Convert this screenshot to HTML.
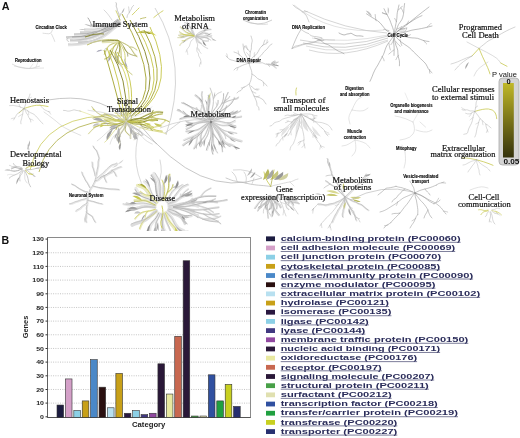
<!DOCTYPE html>
<html><head><meta charset="utf-8"><style>
html,body{margin:0;padding:0;background:#fff;width:520px;height:438px;overflow:hidden}
svg{display:block}
#labels,#chart{will-change:transform}
.tk{font-family:"Liberation Sans",sans-serif;font-weight:bold;font-size:7px;fill:#222}
.ax{font-family:"Liberation Sans",sans-serif;font-size:8px;fill:#222}
.pl{font-family:"Liberation Sans",sans-serif;font-weight:bold;font-size:11.8px;fill:#111}
.lg{font-family:"Liberation Sans",sans-serif;font-weight:bold;font-size:11px;fill:#2a2c5a}
.sl{font-family:"Liberation Serif",serif;font-size:9.2px;fill:#111;stroke:#111;stroke-width:0.22px}
.ss{font-family:"Liberation Sans",sans-serif;font-weight:bold;font-size:5px;fill:#000;stroke:#000;stroke-width:0.12px}
.pv{font-family:"Liberation Sans",sans-serif;font-size:7.5px;fill:#111}
</style></head><body>
<svg width="520" height="438" viewBox="0 0 520 438">
<defs><clipPath id="ca"><rect x="0" y="0" width="520" height="231"/></clipPath></defs>
<g id="trees" clip-path="url(#ca)">
<path d="M48.0,100.0Q95.0,92.0 125.0,118.0" fill="none" stroke="#b0b0b0" stroke-width="0.7"/><path d="M140.0,125.0Q200.0,200.0 262.0,178.0" fill="none" stroke="#b0b0b0" stroke-width="0.7"/><path d="M140.0,128.0Q128.0,168.0 150.0,198.0" fill="none" stroke="#c0c0c0" stroke-width="0.6"/><path d="M160.0,128.0Q185.0,118.0 205.0,120.0" fill="none" stroke="#c0c0c0" stroke-width="0.6"/><path d="M233.0,170.0Q248.0,168.0 262.0,178.0" fill="none" stroke="#c0c0c0" stroke-width="0.6"/><path d="M118.0,20.2Q97.2,39.7 66.0,38.2" fill="none" stroke="#e4e4e4" stroke-width="2.0"/><path d="M118.4,20.7Q99.0,42.7 70.0,41.2" fill="none" stroke="#e4e4e4" stroke-width="2.0"/><path d="M118.8,21.2Q100.9,36.7 74.0,35.2" fill="none" stroke="#e4e4e4" stroke-width="2.0"/><path d="M119.2,21.7Q102.7,44.7 78.0,43.2" fill="none" stroke="#e4e4e4" stroke-width="2.0"/><path d="M119.6,22.2Q105.4,31.7 84.0,30.2" fill="none" stroke="#e4e4e4" stroke-width="2.0"/><path d="M120.0,22.7Q99.2,46.7 68.0,45.2" fill="none" stroke="#e4e4e4" stroke-width="2.0"/><path d="M120.4,23.2Q108.2,27.7 90.0,26.2" fill="none" stroke="#e4e4e4" stroke-width="2.0"/><path d="M120.8,23.7Q101.3,39.7 72.0,38.2" fill="none" stroke="#e4e4e4" stroke-width="2.0"/><path d="M121.2,24.2Q104.7,34.7 80.0,33.2" fill="none" stroke="#e4e4e4" stroke-width="2.0"/><path d="M118.0,19.0Q97.2,38.5 66.0,37.0" fill="none" stroke="#b0b0b0" stroke-width="1.0"/><path d="M118.4,19.5Q99.0,41.5 70.0,40.0" fill="none" stroke="#c4c4c4" stroke-width="1.3"/><path d="M118.8,20.0Q100.9,35.5 74.0,34.0" fill="none" stroke="#a0a0a0" stroke-width="0.8"/><path d="M119.2,20.5Q102.7,43.5 78.0,42.0" fill="none" stroke="#bcbcbc" stroke-width="1.1"/><path d="M119.6,21.0Q105.4,30.5 84.0,29.0" fill="none" stroke="#c8c8c8" stroke-width="0.9"/><path d="M120.0,21.5Q99.2,45.5 68.0,44.0" fill="none" stroke="#d4d4d4" stroke-width="1.4"/><path d="M120.4,22.0Q108.2,26.5 90.0,25.0" fill="none" stroke="#a8a8a8" stroke-width="0.8"/><path d="M120.8,22.5Q101.3,38.5 72.0,37.0" fill="none" stroke="#989898" stroke-width="0.7"/><path d="M121.2,23.0Q104.7,33.5 80.0,32.0" fill="none" stroke="#b8b8b8" stroke-width="1.0"/><path d="M92.0,26.0Q90.0,21.0 89.0,19.5L88.0,18.0" fill="none" stroke="#a8a8a8" stroke-width="1.0" stroke-linecap="round"/><path d="M92.0,27.0Q89.4,23.5 84.3,24.3Q87.9,26.1 92.0,27.0Z" fill="#b8b8b8" opacity="1.0"/><path d="M86.0,30.0Q82.8,27.9 78.9,29.8Q82.4,30.3 86.0,30.0Z" fill="#c8c8c8" opacity="1.0"/><path d="M68.0,38.0Q66.0,40.0 67.4,40.8L68.8,41.5" fill="none" stroke="#b0b0b0" stroke-width="0.6" stroke-linecap="round"/><path d="M85.0,37.0Q95.0,33.0 104.0,34.0" fill="none" stroke="#8c8c40" stroke-width="1.1"/><path d="M87.0,45.0Q100.0,38.0 118.0,40.0" fill="none" stroke="#b8b860" stroke-width="0.9"/><path d="M90.0,43.0Q100.0,40.0 110.0,41.0" fill="none" stroke="#c8c8a0" stroke-width="0.8"/><path d="M119.6,41.2Q123.0,42.9 124.8,43.7Q126.6,44.5 128.2,45.6Q129.8,46.8 131.0,48.4Q132.2,50.0 133.3,51.9Q134.4,53.7 135.8,55.0L137.2,56.3" fill="none" stroke="#eeeed0" stroke-width="1.21" stroke-linecap="round"/><path d="M129.7,46.6Q132.4,46.5 133.5,47.3Q134.7,48.1 135.9,48.9L137.0,49.7" fill="none" stroke="#eeeed0" stroke-width="0.85" stroke-linecap="round"/><path d="M119.4,41.3Q122.0,43.9 123.0,45.5Q124.0,47.1 124.9,48.7Q125.8,50.4 127.0,51.8Q128.3,53.1 130.1,53.9Q131.9,54.7 134.1,55.3L136.2,55.8" fill="none" stroke="#f0f0d8" stroke-width="0.84" stroke-linecap="round"/><path d="M124.2,47.1Q125.2,50.2 126.5,51.4Q127.8,52.7 127.8,54.4L127.9,56.2" fill="none" stroke="#f0f0d8" stroke-width="0.59" stroke-linecap="round"/><path d="M119.1,41.5Q121.2,45.4 122.3,47.3Q123.5,49.2 124.2,51.3Q125.0,53.3 125.2,55.6Q125.4,57.9 125.4,60.2Q125.4,62.6 126.0,64.7L126.5,66.8" fill="none" stroke="#f0f0d8" stroke-width="0.82" stroke-linecap="round"/><path d="M119.0,41.6Q120.5,46.0 120.8,48.3Q121.1,50.6 121.1,53.0Q121.2,55.3 121.5,57.7Q121.8,60.0 122.9,62.1Q124.0,64.2 125.8,66.1L127.5,68.1" fill="none" stroke="#f0f0d8" stroke-width="0.99" stroke-linecap="round"/><path d="M124.0,64.1Q125.7,68.2 127.3,69.8Q128.8,71.5 130.6,73.0L132.4,74.5" fill="none" stroke="#f0f0d8" stroke-width="0.69" stroke-linecap="round"/><path d="M118.8,41.6Q119.5,45.3 119.6,47.2Q119.7,49.1 119.3,51.0Q118.9,52.9 118.3,54.8Q117.6,56.8 117.4,58.7Q117.2,60.6 117.9,62.4L118.6,64.2" fill="none" stroke="#eeeed0" stroke-width="0.88" stroke-linecap="round"/><path d="M117.6,56.9Q118.3,59.8 118.7,61.3Q119.0,62.7 120.7,63.7L122.4,64.6" fill="none" stroke="#eeeed0" stroke-width="0.62" stroke-linecap="round"/><path d="M118.6,41.6Q118.1,45.1 117.5,46.7Q116.9,48.4 116.1,50.1Q115.3,51.7 115.0,53.5Q114.7,55.2 115.2,57.0Q115.7,58.9 116.6,60.8L117.4,62.7" fill="none" stroke="#eeeed0" stroke-width="0.90" stroke-linecap="round"/><path d="M115.2,51.9Q116.4,54.0 116.2,55.3Q115.9,56.7 116.4,57.8L116.9,58.9" fill="none" stroke="#eeeed0" stroke-width="0.63" stroke-linecap="round"/><path d="M118.2,41.4Q116.5,44.2 115.3,45.4Q114.1,46.6 112.7,47.6Q111.4,48.7 110.4,50.0Q109.5,51.4 109.2,53.1Q108.9,54.9 109.0,56.9L109.1,58.9" fill="none" stroke="#eeeed0" stroke-width="1.22" stroke-linecap="round"/><path d="M118.1,41.4Q115.6,44.1 114.7,45.7Q113.7,47.3 113.1,49.2Q112.4,51.1 111.8,52.9Q111.2,54.7 110.0,56.2Q108.8,57.6 106.9,58.5L105.0,59.4" fill="none" stroke="#eeeed0" stroke-width="1.44" stroke-linecap="round"/><path d="M112.6,51.1Q112.2,53.8 111.2,54.9Q110.1,56.0 109.1,57.0L108.0,58.1" fill="none" stroke="#eeeed0" stroke-width="1.01" stroke-linecap="round"/><path d="M117.9,41.2Q115.3,42.8 113.8,43.4Q112.4,44.0 110.9,44.6Q109.5,45.3 108.5,46.5Q107.4,47.7 106.7,49.4Q106.0,51.1 105.3,52.8L104.5,54.5" fill="none" stroke="#eeeed0" stroke-width="1.29" stroke-linecap="round"/><path d="M119.6,41.2Q123.0,43.0 124.8,43.8Q126.5,44.7 128.1,45.8Q129.6,47.0 130.8,48.6Q132.0,50.3 133.1,52.1Q134.2,54.0 135.6,55.4L137.0,56.7" fill="none" stroke="#b0b060" stroke-width="0.75" stroke-linecap="round"/><path d="M129.6,47.0Q132.3,46.9 133.5,47.7Q134.6,48.5 135.8,49.3L136.9,50.1" fill="none" stroke="#b0b060" stroke-width="0.62" stroke-linecap="round"/><path d="M119.4,41.3Q122.0,44.0 123.0,45.6Q123.9,47.2 124.8,48.8Q125.7,50.5 126.9,51.9Q128.1,53.2 129.9,54.1Q131.7,54.9 133.8,55.5L136.0,56.0" fill="none" stroke="#8a8a30" stroke-width="0.60" stroke-linecap="round"/><path d="M123.9,47.2Q125.0,50.3 126.3,51.5Q127.5,52.8 127.6,54.5L127.7,56.3" fill="none" stroke="#8a8a30" stroke-width="0.49" stroke-linecap="round"/><path d="M127.5,52.8Q126.9,54.8 128.3,55.9Q128.1,54.3 127.5,52.8Z" fill="#9898a8" opacity="1.0"/><path d="M119.1,41.5Q121.2,45.4 122.3,47.3Q123.4,49.2 124.1,51.3Q124.9,53.4 125.0,55.7Q125.2,58.0 125.2,60.3Q125.1,62.7 125.7,64.8L126.2,67.0" fill="none" stroke="#c8c850" stroke-width="0.65" stroke-linecap="round"/><path d="M125.2,58.0Q123.5,60.4 124.6,62.2Q125.2,60.0 125.2,58.0Z" fill="#a8a8b8" opacity="1.0"/><path d="M119.0,41.6Q120.4,46.0 120.7,48.3Q121.0,50.6 121.0,53.0Q121.0,55.4 121.3,57.7Q121.6,60.0 122.6,62.1Q123.7,64.3 125.4,66.2L127.2,68.2" fill="none" stroke="#a8a838" stroke-width="0.63" stroke-linecap="round"/><path d="M123.7,64.3Q125.4,68.4 127.0,70.0Q128.6,71.6 130.3,73.2L132.1,74.7" fill="none" stroke="#a8a838" stroke-width="0.53" stroke-linecap="round"/><path d="M118.8,41.6Q119.6,45.3 119.7,47.2Q119.8,49.1 119.5,51.0Q119.1,52.9 118.4,54.8Q117.8,56.7 117.6,58.6Q117.4,60.5 118.2,62.4L119.0,64.2" fill="none" stroke="#8a8a30" stroke-width="0.80" stroke-linecap="round"/><path d="M117.8,56.7Q118.5,59.7 118.9,61.2Q119.3,62.6 121.0,63.6L122.6,64.5" fill="none" stroke="#8a8a30" stroke-width="0.57" stroke-linecap="round"/><path d="M119.3,62.6Q119.7,65.9 122.3,68.3Q121.0,65.4 119.3,62.6Z" fill="#b8b8c8" opacity="1.0"/><path d="M117.8,56.7Q116.3,59.1 117.7,61.1Q118.1,58.9 117.8,56.7Z" fill="#9898a8" opacity="1.0"/><path d="M118.6,41.6Q118.2,45.1 117.6,46.8Q117.0,48.4 116.2,50.1Q115.5,51.8 115.2,53.5Q114.9,55.2 115.4,57.1Q115.9,58.9 116.9,60.8L117.8,62.8" fill="none" stroke="#8a8a30" stroke-width="0.60" stroke-linecap="round"/><path d="M115.5,51.8Q116.7,53.9 116.4,55.2Q116.1,56.6 116.7,57.7L117.2,58.8" fill="none" stroke="#8a8a30" stroke-width="0.55" stroke-linecap="round"/><path d="M114.9,55.2Q114.0,58.0 115.7,61.2Q115.6,58.3 114.9,55.2Z" fill="#9898a8" opacity="1.0"/><path d="M118.2,41.4Q116.6,44.3 115.4,45.5Q114.2,46.6 112.9,47.7Q111.6,48.9 110.7,50.2Q109.7,51.5 109.5,53.3Q109.2,55.1 109.3,57.1L109.5,59.1" fill="none" stroke="#c8c850" stroke-width="0.68" stroke-linecap="round"/><path d="M118.1,41.4Q115.5,44.1 114.5,45.7Q113.5,47.2 112.9,49.1Q112.2,50.9 111.5,52.7Q110.9,54.5 109.6,55.9Q108.4,57.3 106.5,58.2L104.5,59.0" fill="none" stroke="#a8a838" stroke-width="0.57" stroke-linecap="round"/><path d="M112.2,50.9Q111.8,53.7 110.7,54.7Q109.7,55.8 108.6,56.9L107.6,57.9" fill="none" stroke="#a8a838" stroke-width="0.63" stroke-linecap="round"/><path d="M109.7,55.8Q108.0,57.1 108.8,59.4Q109.5,57.7 109.7,55.8Z" fill="#b8b8c8" opacity="1.0"/><path d="M117.9,41.2Q115.3,42.8 113.8,43.3Q112.3,43.8 110.8,44.5Q109.4,45.1 108.3,46.3Q107.2,47.4 106.5,49.1Q105.8,50.8 105.0,52.4L104.3,54.1" fill="none" stroke="#a8a838" stroke-width="0.56" stroke-linecap="round"/><path d="M107.2,47.4Q104.7,47.9 103.8,50.4Q105.7,49.1 107.2,47.4Z" fill="#b8b8c8" opacity="1.0"/><path d="M102.5,41.2Q110.0,40.5 114.4,40.5L118.8,40.6" fill="none" stroke="#8a8a30" stroke-width="0.9" stroke-linecap="round"/><path d="M102.5,42.5Q110.0,42.0 114.0,42.0L118.0,42.0" fill="none" stroke="#e4e4b8" stroke-width="1.6" stroke-linecap="round"/><path d="M103.0,50.0Q98.3,48.9 96.2,52.2Q99.8,51.5 103.0,50.0Z" fill="#a8a8b8" opacity="1.0"/><path d="M112.0,56.0Q107.7,58.2 108.2,62.1Q110.6,59.2 112.0,56.0Z" fill="#a0a0b0" opacity="1.0"/><path d="M125.0,61.0Q123.9,64.8 127.7,67.6Q126.8,64.2 125.0,61.0Z" fill="#a8a8b8" opacity="1.0"/><path d="M120.0,20.0Q118.9,17.4 119.0,16.8Q119.2,16.3 119.1,15.1Q119.0,14.0 118.4,12.7Q117.8,11.4 117.5,10.9Q117.2,10.4 117.1,9.2Q117.0,8.0 116.6,7.3Q116.1,6.6 116.3,5.3Q116.6,3.9 116.3,3.3L116.0,2.7" fill="none" stroke="#a8a8a8" stroke-width="0.7" stroke-linecap="round"/><path d="M119.5,16.8Q120.4,15.3 120.4,14.6L120.4,13.8" fill="none" stroke="#a8a8a8" stroke-width="0.595" stroke-linecap="round"/><path d="M127.0,17.5Q127.3,14.9 128.0,14.3Q128.7,13.8 129.3,12.4Q130.0,11.0 130.6,10.2Q131.2,9.5 131.5,8.4Q131.8,7.3 132.7,6.3L133.6,5.4" fill="none" stroke="#b0b0b0" stroke-width="0.6" stroke-linecap="round"/><path d="M129.3,12.5Q128.9,9.9 128.8,8.4L128.6,6.9" fill="none" stroke="#b0b0b0" stroke-width="0.51" stroke-linecap="round"/><path d="M116.0,10.8Q118.0,15.0 119.0,17.5L120.0,20.0" fill="none" stroke="#c8c850" stroke-width="0.8" stroke-linecap="round"/><path d="M132.3,14.8Q136.0,11.0 137.5,9.5L139.0,8.0" fill="none" stroke="#c8c850" stroke-width="0.8" stroke-linecap="round"/><path d="M140.4,18.8Q143.0,18.0 144.4,17.8L145.8,17.5" fill="none" stroke="#a8a838" stroke-width="0.7" stroke-linecap="round"/><path d="M153.8,17.5Q158.0,14.0 160.5,12.4L163.0,10.8" fill="none" stroke="#c8c850" stroke-width="0.8" stroke-linecap="round"/><path d="M121.0,14.0Q124.7,11.6 124.3,7.8Q122.3,10.7 121.0,14.0Z" fill="#b8b8b8" opacity="1.0"/><path d="M112.0,20.0Q108.0,14.0 106.0,12.0L104.0,10.0" fill="none" stroke="#c0c0c0" stroke-width="0.6" stroke-linecap="round"/><path d="M136.0,33.0Q140.7,33.6 144.6,30.0Q140.2,31.0 136.0,33.0Z" fill="#c8c850" opacity="1.0"/><path d="M138.2,32.6Q142.7,34.0 147.2,30.9Q142.7,31.3 138.2,32.6Z" fill="#a8a838" opacity="1.0"/><path d="M140.4,32.2Q144.7,34.3 149.5,32.0Q145.0,31.6 140.4,32.2Z" fill="#b8b848" opacity="1.0"/><path d="M142.6,31.8Q146.5,34.5 151.6,33.0Q147.3,32.0 142.6,31.8Z" fill="#d0d070" opacity="1.0"/><path d="M144.8,31.4Q148.2,34.7 153.5,34.0Q149.4,32.3 144.8,31.4Z" fill="#8a8a30" opacity="1.0"/><path d="M147.0,31.0Q149.9,34.8 155.2,34.9Q151.4,32.6 147.0,31.0Z" fill="#c8c850" opacity="1.0"/><path d="M149.2,30.6Q151.4,34.8 156.7,35.8Q153.3,32.9 149.2,30.6Z" fill="#d8d870" opacity="1.0"/><path d="M104.0,50.0Q113.0,79.0 122.0,116.0" fill="none" stroke="#a8a838" stroke-width="0.95"/><path d="M107.0,48.0Q120.5,79.5 124.0,117.0" fill="none" stroke="#c8c850" stroke-width="0.95"/><path d="M110.0,50.0Q128.0,79.0 126.0,116.0" fill="none" stroke="#8a8a30" stroke-width="0.95"/><path d="M113.0,52.0Q133.5,77.5 128.0,117.0" fill="none" stroke="#d8d870" stroke-width="0.95"/><path d="M117.0,52.0Q136.5,78.0 130.0,116.0" fill="none" stroke="#c8c850" stroke-width="0.95"/><path d="M122.0,14.0Q166.5,92.0 129.0,114.0" fill="none" stroke="#a8a838" stroke-width="0.95"/><path d="M130.0,20.0Q169.5,88.0 131.0,116.0" fill="none" stroke="#8a8a30" stroke-width="0.95"/><path d="M138.0,28.0Q172.5,88.5 133.0,115.0" fill="none" stroke="#c8c850" stroke-width="0.95"/><path d="M144.0,30.0Q174.5,87.0 135.0,116.0" fill="none" stroke="#a8a838" stroke-width="0.95"/><path d="M150.0,27.0Q178.0,85.5 138.0,114.0" fill="none" stroke="#c8c850" stroke-width="0.95"/><path d="M155.0,8.0Q189.5,64.5 166.0,135.0" fill="none" stroke="#b8b8b8" stroke-width="0.6"/><path d="M124.0,116.0Q43.0,111.0 30.0,170.0" fill="none" stroke="#c8c850" stroke-width="0.75"/><path d="M126.0,119.0Q51.5,120.5 39.0,172.0" fill="none" stroke="#a8a838" stroke-width="0.75"/><path d="M127.4,121.1Q131.5,119.6 133.7,119.2Q135.8,118.8 138.1,118.9Q140.3,119.0 142.6,119.1Q144.9,119.2 146.9,118.6Q149.0,118.0 150.9,116.5L152.7,115.0" fill="none" stroke="#ecebc8" stroke-width="1.54" stroke-linecap="round"/><path d="M145.0,119.2Q148.6,117.4 150.1,116.2Q151.5,114.9 152.4,112.8L153.3,110.7" fill="none" stroke="#ecebc8" stroke-width="1.08" stroke-linecap="round"/><path d="M127.5,121.2Q133.4,120.1 136.4,119.3Q139.3,118.4 142.1,117.1Q144.8,115.7 147.6,114.3Q150.4,112.9 153.3,112.1Q156.3,111.4 159.4,111.6L162.6,111.8" fill="none" stroke="#e8e8c0" stroke-width="1.65" stroke-linecap="round"/><path d="M127.5,121.3Q133.4,121.0 136.4,120.8Q139.4,120.7 142.3,120.0Q145.2,119.3 148.0,118.1Q150.8,116.9 153.6,115.6Q156.5,114.4 159.4,113.9L162.3,113.5" fill="none" stroke="#e8e8c0" stroke-width="1.33" stroke-linecap="round"/><path d="M151.0,116.8Q157.0,118.6 160.2,118.7Q163.5,118.8 166.4,120.1L169.3,121.4" fill="none" stroke="#e8e8c0" stroke-width="0.93" stroke-linecap="round"/><path d="M127.5,121.5Q132.5,122.2 135.0,122.3Q137.5,122.5 140.0,122.1Q142.5,121.8 145.0,120.9Q147.5,120.1 150.1,119.6Q152.6,119.0 155.1,119.4L157.6,119.8" fill="none" stroke="#e8e8c0" stroke-width="1.58" stroke-linecap="round"/><path d="M127.5,121.6Q131.9,121.7 134.2,121.5Q136.4,121.2 138.6,121.2Q140.8,121.2 143.0,121.9Q145.1,122.6 147.3,123.9Q149.4,125.1 151.5,126.1L153.6,127.1" fill="none" stroke="#ecebc8" stroke-width="0.86" stroke-linecap="round"/><path d="M127.5,121.8Q133.4,122.5 136.4,123.0Q139.3,123.4 142.2,124.4Q145.0,125.4 147.8,126.9Q150.5,128.4 153.3,129.7Q156.1,131.0 159.1,131.4L162.0,131.7" fill="none" stroke="#ecebc8" stroke-width="1.79" stroke-linecap="round"/><path d="M150.8,128.5Q156.1,127.3 158.6,126.2Q161.1,125.1 163.2,123.1L165.4,121.1" fill="none" stroke="#ecebc8" stroke-width="1.25" stroke-linecap="round"/><path d="M127.4,121.9Q131.6,123.4 133.8,123.8Q136.0,124.1 138.3,124.1Q140.6,124.1 142.8,124.4Q145.0,124.6 147.0,125.7Q148.9,126.8 150.7,128.6L152.5,130.4" fill="none" stroke="#f0f0d8" stroke-width="0.84" stroke-linecap="round"/><path d="M140.7,124.0Q142.4,126.4 143.8,126.8Q145.2,127.3 146.7,127.7L148.3,128.1" fill="none" stroke="#f0f0d8" stroke-width="0.59" stroke-linecap="round"/><path d="M127.4,121.1Q131.5,119.5 133.6,119.1Q135.7,118.6 138.0,118.7Q140.2,118.7 142.5,118.7Q144.7,118.8 146.8,118.2Q148.9,117.5 150.7,116.0L152.5,114.4" fill="none" stroke="#8a8a30" stroke-width="0.92" stroke-linecap="round"/><path d="M144.7,118.8Q148.3,117.0 149.8,115.8Q151.3,114.5 152.2,112.4L153.1,110.3" fill="none" stroke="#8a8a30" stroke-width="0.70" stroke-linecap="round"/><path d="M127.5,121.2Q133.5,120.2 136.4,119.4Q139.3,118.6 142.1,117.3Q144.9,116.0 147.7,114.7Q150.5,113.3 153.4,112.6Q156.4,111.9 159.6,112.1L162.7,112.4" fill="none" stroke="#8a8a30" stroke-width="0.88" stroke-linecap="round"/><path d="M150.5,113.3Q154.9,115.3 157.5,111.7Q153.8,112.0 150.5,113.3Z" fill="#c8c870" opacity="1.0"/><path d="M127.5,121.3Q133.4,121.1 136.4,120.9Q139.4,120.8 142.3,120.2Q145.2,119.6 148.0,118.4Q150.9,117.2 153.7,116.0Q156.5,114.8 159.5,114.4L162.4,114.0" fill="none" stroke="#a8a838" stroke-width="0.77" stroke-linecap="round"/><path d="M150.9,117.2Q156.9,119.0 160.1,119.1Q163.4,119.2 166.3,120.5L169.2,121.8" fill="none" stroke="#a8a838" stroke-width="0.66" stroke-linecap="round"/><path d="M163.4,119.2Q164.4,121.5 166.5,120.2Q165.0,119.3 163.4,119.2Z" fill="#c8c870" opacity="1.0"/><path d="M127.5,121.5Q132.5,122.3 135.0,122.5Q137.5,122.7 140.0,122.4Q142.5,122.1 145.0,121.3Q147.5,120.5 150.0,120.0Q152.6,119.5 155.0,120.0L157.5,120.4" fill="none" stroke="#8a8a30" stroke-width="0.97" stroke-linecap="round"/><path d="M147.5,120.5Q150.5,120.9 153.0,117.7Q150.2,118.8 147.5,120.5Z" fill="#c8c870" opacity="1.0"/><path d="M127.5,121.6Q131.9,121.8 134.2,121.6Q136.4,121.3 138.6,121.4Q140.8,121.4 143.0,122.1Q145.1,122.9 147.2,124.1Q149.3,125.4 151.5,126.4L153.6,127.4" fill="none" stroke="#c8c850" stroke-width="0.92" stroke-linecap="round"/><path d="M145.1,122.9Q148.3,126.2 150.9,124.0Q148.0,122.9 145.1,122.9Z" fill="#c8c850" opacity="1.0"/><path d="M127.5,121.8Q133.4,122.4 136.4,122.8Q139.4,123.2 142.2,124.2Q145.1,125.1 147.9,126.5Q150.6,127.9 153.4,129.2Q156.2,130.4 159.2,130.7L162.2,131.1" fill="none" stroke="#c8c850" stroke-width="0.79" stroke-linecap="round"/><path d="M150.6,127.9Q155.9,126.7 158.4,125.6Q160.9,124.5 163.1,122.6L165.2,120.6" fill="none" stroke="#c8c850" stroke-width="0.49" stroke-linecap="round"/><path d="M127.4,121.9Q131.6,123.5 133.8,123.8Q135.9,124.2 138.2,124.2Q140.5,124.2 142.7,124.5Q144.9,124.8 146.9,125.9Q148.9,127.0 150.6,128.8L152.4,130.7" fill="none" stroke="#8a8a30" stroke-width="0.74" stroke-linecap="round"/><path d="M140.5,124.2Q142.2,126.6 143.6,127.0Q145.1,127.5 146.6,127.9L148.1,128.3" fill="none" stroke="#8a8a30" stroke-width="0.72" stroke-linecap="round"/><path d="M124.5,121.9Q119.6,123.5 117.1,124.2Q114.6,124.9 111.9,125.2Q109.3,125.4 106.6,125.3Q103.9,125.1 101.2,125.2Q98.5,125.2 96.1,126.1L93.6,126.9" fill="none" stroke="#ecebc8" stroke-width="1.22" stroke-linecap="round"/><path d="M98.4,125.3Q94.5,127.1 92.9,128.7Q91.4,130.3 89.9,131.9L88.4,133.6" fill="none" stroke="#ecebc8" stroke-width="0.86" stroke-linecap="round"/><path d="M124.5,121.8Q120.8,122.9 119.0,123.5Q117.1,124.0 115.1,124.1Q113.2,124.1 111.1,123.8Q109.1,123.4 107.0,123.0Q105.0,122.7 103.1,123.1L101.2,123.6" fill="none" stroke="#f0f0d8" stroke-width="1.66" stroke-linecap="round"/><path d="M117.2,123.7Q114.0,123.1 112.4,122.5Q110.9,121.9 109.1,122.7L107.4,123.5" fill="none" stroke="#f0f0d8" stroke-width="1.16" stroke-linecap="round"/><path d="M124.5,121.6Q120.1,121.8 117.9,121.5Q115.7,121.3 113.5,121.1Q111.3,121.0 109.2,121.4Q107.0,121.8 104.8,122.8Q102.7,123.8 100.6,124.9L98.4,126.0" fill="none" stroke="#f0f0d8" stroke-width="1.25" stroke-linecap="round"/><path d="M115.6,121.5Q112.1,119.9 110.2,119.4Q108.4,119.0 106.3,119.4L104.1,119.9" fill="none" stroke="#f0f0d8" stroke-width="0.88" stroke-linecap="round"/><path d="M124.5,121.3Q119.2,120.9 116.7,120.3Q114.1,119.7 111.5,118.8Q109.0,117.9 106.4,117.1Q103.9,116.4 101.2,116.3Q98.6,116.3 95.8,116.9L93.1,117.6" fill="none" stroke="#e4e4e4" stroke-width="1.15" stroke-linecap="round"/><path d="M104.0,116.3Q99.4,114.1 97.4,112.5Q95.3,110.8 93.7,108.7L92.0,106.5" fill="none" stroke="#e4e4e4" stroke-width="0.80" stroke-linecap="round"/><path d="M124.5,121.2Q120.5,120.9 118.6,120.5Q116.6,120.1 114.8,119.2Q112.9,118.4 111.1,117.3Q109.3,116.3 107.4,115.7Q105.5,115.1 103.4,115.4L101.3,115.7" fill="none" stroke="#f0f0d8" stroke-width="1.21" stroke-linecap="round"/><path d="M124.6,121.0Q121.1,119.8 119.5,118.9Q117.8,117.9 116.3,116.9Q114.7,115.8 113.0,115.1Q111.2,114.5 109.3,114.5Q107.3,114.5 105.1,114.9L103.0,115.4" fill="none" stroke="#ecebc8" stroke-width="0.91" stroke-linecap="round"/><path d="M124.5,121.9Q119.6,123.6 117.1,124.3Q114.6,125.1 112.0,125.4Q109.4,125.7 106.7,125.5Q104.0,125.4 101.3,125.5Q98.6,125.6 96.2,126.5L93.7,127.4" fill="none" stroke="#a8a838" stroke-width="0.55" stroke-linecap="round"/><path d="M98.6,125.6Q94.7,127.4 93.1,129.0Q91.6,130.6 90.1,132.2L88.6,133.9" fill="none" stroke="#a8a838" stroke-width="0.43" stroke-linecap="round"/><path d="M104.0,125.4Q101.3,124.3 99.5,127.5Q101.8,126.9 104.0,125.4Z" fill="#c8c850" opacity="1.0"/><path d="M124.5,121.8Q120.8,123.0 119.0,123.6Q117.1,124.2 115.2,124.3Q113.2,124.5 111.2,124.1Q109.2,123.8 107.1,123.5Q105.1,123.2 103.2,123.7L101.4,124.2" fill="none" stroke="#a8a838" stroke-width="0.76" stroke-linecap="round"/><path d="M117.1,124.2Q113.9,123.6 112.4,123.0Q110.8,122.4 109.1,123.2L107.3,124.1" fill="none" stroke="#a8a838" stroke-width="0.62" stroke-linecap="round"/><path d="M110.8,122.4Q108.5,120.4 105.9,121.3Q108.3,122.2 110.8,122.4Z" fill="#c8c850" opacity="1.0"/><path d="M109.2,123.8Q106.0,122.1 104.1,123.8Q106.8,124.2 109.2,123.8Z" fill="#a8a8a8" opacity="1.0"/><path d="M124.5,121.6Q120.1,121.7 117.9,121.4Q115.7,121.1 113.5,120.9Q111.3,120.7 109.1,121.1Q107.0,121.4 104.8,122.4Q102.7,123.4 100.5,124.5L98.4,125.5" fill="none" stroke="#c8c850" stroke-width="0.60" stroke-linecap="round"/><path d="M115.7,121.1Q112.2,119.5 110.4,119.0Q108.5,118.6 106.4,119.1L104.2,119.5" fill="none" stroke="#c8c850" stroke-width="0.59" stroke-linecap="round"/><path d="M107.0,121.4Q104.3,120.3 102.1,121.3Q104.6,121.6 107.0,121.4Z" fill="#a8a8a8" opacity="1.0"/><path d="M124.5,121.3Q119.2,121.0 116.7,120.4Q114.1,119.9 111.5,119.0Q109.0,118.1 106.4,117.4Q103.9,116.7 101.2,116.6Q98.5,116.6 95.8,117.3L93.0,118.1" fill="none" stroke="#a8a838" stroke-width="0.70" stroke-linecap="round"/><path d="M103.9,116.7Q99.2,114.4 97.2,112.8Q95.1,111.2 93.5,109.0L91.8,106.8" fill="none" stroke="#a8a838" stroke-width="0.49" stroke-linecap="round"/><path d="M95.1,111.2Q94.4,108.5 91.9,108.4Q93.4,110.0 95.1,111.2Z" fill="#c8c850" opacity="1.0"/><path d="M124.5,121.2Q120.5,120.8 118.6,120.4Q116.6,120.0 114.8,119.1Q113.0,118.2 111.2,117.1Q109.4,116.0 107.5,115.4Q105.6,114.7 103.5,115.0L101.4,115.2" fill="none" stroke="#c8c850" stroke-width="0.86" stroke-linecap="round"/><path d="M109.4,116.0Q107.2,112.7 103.4,113.3Q106.2,115.0 109.4,116.0Z" fill="#c8c850" opacity="1.0"/><path d="M124.6,121.0Q121.1,119.8 119.5,118.8Q117.9,117.8 116.3,116.7Q114.8,115.6 113.0,114.9Q111.3,114.2 109.4,114.2Q107.4,114.2 105.2,114.6L103.1,115.0" fill="none" stroke="#a8a8a8" stroke-width="0.63" stroke-linecap="round"/><path d="M127.1,122.5Q129.4,125.0 130.7,126.0Q132.0,127.1 133.6,127.8Q135.2,128.5 136.9,129.1Q138.6,129.7 140.0,130.7Q141.3,131.7 142.2,133.3L143.0,134.9" fill="none" stroke="#ececec" stroke-width="1.62" stroke-linecap="round"/><path d="M132.4,127.0Q134.0,129.8 134.1,131.5Q134.2,133.2 135.0,134.6L135.8,136.0" fill="none" stroke="#ececec" stroke-width="1.13" stroke-linecap="round"/><path d="M127.0,122.6Q128.8,125.3 129.5,126.7Q130.3,128.2 131.2,129.5Q132.1,130.8 133.5,131.7Q134.9,132.6 136.6,133.3Q138.2,134.0 139.7,134.9L141.1,135.7" fill="none" stroke="#ecebc8" stroke-width="0.89" stroke-linecap="round"/><path d="M132.0,130.8Q133.2,133.6 134.1,135.0Q134.9,136.3 134.5,138.1L134.0,139.9" fill="none" stroke="#ecebc8" stroke-width="0.62" stroke-linecap="round"/><path d="M126.6,122.9Q128.0,125.2 128.8,126.3Q129.7,127.3 130.3,128.5Q130.8,129.7 130.9,131.2Q131.0,132.6 130.7,134.1Q130.5,135.6 130.6,137.0L130.8,138.4" fill="none" stroke="#ecebc8" stroke-width="1.60" stroke-linecap="round"/><path d="M131.0,129.5Q132.3,130.8 133.1,131.2Q133.9,131.7 133.7,133.0L133.5,134.4" fill="none" stroke="#ecebc8" stroke-width="1.12" stroke-linecap="round"/><path d="M126.1,123.0Q126.1,125.0 125.8,126.1Q125.5,127.1 125.2,128.2Q124.9,129.2 125.0,130.2Q125.2,131.2 126.1,132.2Q126.9,133.2 127.9,134.1L128.8,135.1" fill="none" stroke="#ecebc8" stroke-width="1.10" stroke-linecap="round"/><path d="M125.6,122.9Q124.9,126.1 124.3,127.6Q123.7,129.1 122.7,130.5Q121.7,131.9 120.7,133.3Q119.7,134.7 119.3,136.3Q118.9,137.9 119.2,139.7L119.6,141.4" fill="none" stroke="#ecebc8" stroke-width="1.77" stroke-linecap="round"/><path d="M118.9,138.1Q118.7,140.6 119.5,141.8Q120.2,143.1 120.1,144.4L120.0,145.6" fill="none" stroke="#ecebc8" stroke-width="1.24" stroke-linecap="round"/><path d="M125.2,122.8Q123.4,125.4 122.3,126.6Q121.2,127.8 120.2,129.0Q119.1,130.2 118.6,131.8Q118.0,133.3 117.9,135.1Q117.8,137.0 117.7,138.8L117.6,140.6" fill="none" stroke="#e8e8c0" stroke-width="1.38" stroke-linecap="round"/><path d="M119.4,130.1Q119.1,132.2 118.8,133.3Q118.5,134.4 119.6,135.4L120.6,136.5" fill="none" stroke="#e8e8c0" stroke-width="0.96" stroke-linecap="round"/><path d="M124.8,122.4Q123.6,123.8 122.8,124.3Q122.0,124.7 120.9,124.9Q119.9,125.0 118.8,125.2Q117.8,125.3 117.1,125.9Q116.4,126.5 116.2,127.7L116.0,128.9" fill="none" stroke="#f0f0d8" stroke-width="1.11" stroke-linecap="round"/><path d="M119.9,124.9Q118.4,125.3 117.9,126.2Q117.4,127.1 116.5,127.0L115.6,126.9" fill="none" stroke="#f0f0d8" stroke-width="0.77" stroke-linecap="round"/><path d="M127.1,122.5Q129.3,125.0 130.6,126.1Q131.9,127.2 133.5,128.0Q135.0,128.7 136.7,129.4Q138.3,130.0 139.7,131.0Q141.0,132.1 141.8,133.7L142.6,135.3" fill="none" stroke="#b8b8b8" stroke-width="0.82" stroke-linecap="round"/><path d="M131.9,127.2Q133.5,130.0 133.6,131.7Q133.7,133.4 134.5,134.9L135.3,136.3" fill="none" stroke="#b8b8b8" stroke-width="0.41" stroke-linecap="round"/><path d="M133.7,133.4Q131.8,138.0 136.1,139.8Q135.5,136.3 133.7,133.4Z" fill="#b0b0b0" opacity="1.0"/><path d="M127.0,122.6Q128.8,125.3 129.6,126.7Q130.4,128.1 131.3,129.4Q132.3,130.7 133.7,131.6Q135.1,132.5 136.8,133.2Q138.5,133.8 139.9,134.7L141.4,135.5" fill="none" stroke="#b8b8b8" stroke-width="0.76" stroke-linecap="round"/><path d="M132.3,130.7Q133.5,133.5 134.3,134.9Q135.2,136.2 134.7,138.0L134.3,139.8" fill="none" stroke="#b8b8b8" stroke-width="0.48" stroke-linecap="round"/><path d="M135.1,132.5Q132.9,138.2 137.5,139.6Q137.0,135.6 135.1,132.5Z" fill="#b0b0b0" opacity="1.0"/><path d="M126.6,122.9Q127.9,125.2 128.7,126.3Q129.5,127.4 130.0,128.6Q130.6,129.9 130.6,131.3Q130.6,132.7 130.3,134.3Q130.0,135.8 130.1,137.2L130.2,138.6" fill="none" stroke="#b8b8b8" stroke-width="0.69" stroke-linecap="round"/><path d="M130.6,129.9Q131.9,131.1 132.7,131.6Q133.5,132.0 133.3,133.4L133.1,134.7" fill="none" stroke="#b8b8b8" stroke-width="0.57" stroke-linecap="round"/><path d="M133.5,132.0Q133.8,135.4 138.0,135.6Q136.2,133.5 133.5,132.0Z" fill="#b0b0b0" opacity="1.0"/><path d="M126.1,123.0Q126.2,125.0 125.9,126.1Q125.6,127.1 125.3,128.1Q125.1,129.2 125.3,130.2Q125.5,131.2 126.4,132.2Q127.2,133.1 128.2,134.1L129.3,135.1" fill="none" stroke="#8a8a30" stroke-width="0.51" stroke-linecap="round"/><path d="M125.6,122.9Q125.0,126.2 124.5,127.7Q123.9,129.2 122.9,130.6Q122.0,132.0 121.1,133.4Q120.2,134.9 119.8,136.4Q119.4,138.0 119.8,139.8L120.2,141.6" fill="none" stroke="#a8a8a8" stroke-width="0.73" stroke-linecap="round"/><path d="M119.4,138.0Q119.3,140.6 120.0,141.8Q120.8,143.0 120.6,144.3L120.5,145.6" fill="none" stroke="#a8a8a8" stroke-width="0.64" stroke-linecap="round"/><path d="M120.8,143.0Q117.1,146.8 120.0,150.2Q121.0,146.6 120.8,143.0Z" fill="#989898" opacity="1.0"/><path d="M120.2,134.9Q115.3,138.3 118.8,144.0Q120.3,139.6 120.2,134.9Z" fill="#989898" opacity="1.0"/><path d="M125.2,122.8Q123.4,125.4 122.2,126.5Q121.1,127.7 120.0,128.9Q118.9,130.1 118.3,131.6Q117.7,133.1 117.6,134.9Q117.4,136.7 117.3,138.5L117.1,140.3" fill="none" stroke="#a8a8a8" stroke-width="0.57" stroke-linecap="round"/><path d="M118.9,130.1Q118.6,132.2 118.4,133.3Q118.1,134.4 119.1,135.4L120.1,136.5" fill="none" stroke="#a8a8a8" stroke-width="0.44" stroke-linecap="round"/><path d="M118.1,134.4Q115.4,137.3 116.7,140.1Q117.8,137.2 118.1,134.4Z" fill="#b0b0b0" opacity="1.0"/><path d="M117.7,133.1Q114.0,134.3 114.7,139.1Q116.7,136.5 117.7,133.1Z" fill="#b0b0b0" opacity="1.0"/><path d="M124.8,122.4Q123.6,123.9 122.9,124.4Q122.1,124.8 121.1,125.0Q120.0,125.2 119.0,125.4Q118.0,125.5 117.3,126.1Q116.6,126.8 116.4,128.0L116.3,129.2" fill="none" stroke="#8a8a30" stroke-width="0.68" stroke-linecap="round"/><path d="M120.0,125.2Q118.5,125.6 118.0,126.5Q117.5,127.4 116.6,127.3L115.7,127.2" fill="none" stroke="#8a8a30" stroke-width="0.54" stroke-linecap="round"/><path d="M117.5,127.4Q112.2,125.8 109.4,130.3Q113.7,129.5 117.5,127.4Z" fill="#a0a0a0" opacity="1.0"/><path d="M118.0,125.5Q111.8,123.6 109.1,128.3Q113.9,127.6 118.0,125.5Z" fill="#b0b0b0" opacity="1.0"/><path d="M124.8,120.7Q122.9,119.7 122.0,119.2Q121.1,118.6 120.4,117.7Q119.8,116.9 119.2,115.9Q118.6,114.9 117.9,114.1Q117.1,113.4 116.1,113.1L115.0,112.8" fill="none" stroke="#e8e8c0" stroke-width="0.83" stroke-linecap="round"/><path d="M125.4,120.1Q124.5,119.0 124.0,118.5Q123.5,118.0 123.2,117.4Q123.0,116.7 123.1,115.9Q123.1,115.1 123.3,114.3Q123.5,113.5 123.4,112.8L123.2,112.1" fill="none" stroke="#e8e8c0" stroke-width="1.17" stroke-linecap="round"/><path d="M123.2,115.3Q122.4,114.3 121.7,114.2Q120.9,114.2 120.3,114.0L119.7,113.7" fill="none" stroke="#e8e8c0" stroke-width="0.82" stroke-linecap="round"/><path d="M125.8,120.0Q125.9,118.2 125.8,117.3Q125.7,116.5 125.3,115.6Q124.8,114.8 124.3,114.0Q123.8,113.2 123.6,112.3Q123.4,111.5 123.9,110.5L124.3,109.5" fill="none" stroke="#e8e8c0" stroke-width="1.49" stroke-linecap="round"/><path d="M123.4,111.3Q122.9,109.8 122.3,109.2Q121.8,108.6 120.8,108.2L119.9,107.9" fill="none" stroke="#e8e8c0" stroke-width="1.04" stroke-linecap="round"/><path d="M126.5,120.1Q127.1,118.3 127.2,117.3Q127.3,116.3 127.4,115.3Q127.5,114.3 127.9,113.5Q128.3,112.6 129.1,111.8Q130.0,111.1 131.0,110.4L132.0,109.7" fill="none" stroke="#e8e8c0" stroke-width="1.15" stroke-linecap="round"/><path d="M128.4,112.4Q127.8,111.1 127.4,110.5Q127.0,109.8 127.6,109.0L128.1,108.1" fill="none" stroke="#e8e8c0" stroke-width="0.80" stroke-linecap="round"/><path d="M127.0,120.3Q127.9,118.9 128.3,118.2Q128.7,117.5 129.3,116.9Q129.9,116.3 130.9,116.0Q131.8,115.7 132.8,115.4Q133.8,115.2 134.5,114.7L135.2,114.2" fill="none" stroke="#e8e8c0" stroke-width="1.32" stroke-linecap="round"/><path d="M130.1,116.3Q130.5,114.5 131.2,113.8Q131.9,113.2 132.3,112.3L132.6,111.5" fill="none" stroke="#e8e8c0" stroke-width="0.92" stroke-linecap="round"/><path d="M127.3,120.7Q128.3,120.2 129.0,120.0Q129.6,119.9 130.1,119.6Q130.6,119.3 130.8,118.6Q131.1,118.0 131.3,117.1Q131.4,116.3 131.7,115.6L132.0,114.9" fill="none" stroke="#ecebc8" stroke-width="0.87" stroke-linecap="round"/><path d="M124.8,120.7Q122.8,119.8 122.0,119.2Q121.1,118.7 120.4,117.9Q119.7,117.0 119.1,116.1Q118.5,115.1 117.7,114.3Q117.0,113.6 115.9,113.3L114.8,113.0" fill="none" stroke="#c8c850" stroke-width="0.51" stroke-linecap="round"/><path d="M118.5,115.1Q117.3,111.6 114.7,110.1Q116.4,112.8 118.5,115.1Z" fill="#b0b0b0" opacity="1.0"/><path d="M125.4,120.1Q124.6,119.0 124.1,118.5Q123.6,117.9 123.4,117.3Q123.2,116.6 123.3,115.8Q123.4,115.0 123.6,114.2Q123.9,113.3 123.7,112.6L123.6,111.9" fill="none" stroke="#b0b0b0" stroke-width="0.68" stroke-linecap="round"/><path d="M123.4,115.0Q122.6,114.0 121.9,113.9Q121.1,113.9 120.5,113.7L119.9,113.5" fill="none" stroke="#b0b0b0" stroke-width="0.50" stroke-linecap="round"/><path d="M121.1,113.9Q120.8,110.7 118.5,110.1Q119.6,112.3 121.1,113.9Z" fill="#b0b0b0" opacity="1.0"/><path d="M123.4,115.0Q124.5,111.2 122.5,108.5Q122.6,111.9 123.4,115.0Z" fill="#b0b0b0" opacity="1.0"/><path d="M125.8,120.0Q125.8,118.2 125.6,117.4Q125.5,116.5 125.0,115.7Q124.5,114.9 124.0,114.1Q123.4,113.2 123.2,112.4Q123.0,111.5 123.3,110.6L123.7,109.6" fill="none" stroke="#a8a838" stroke-width="0.69" stroke-linecap="round"/><path d="M123.0,111.5Q122.5,110.0 121.9,109.4Q121.4,108.8 120.4,108.5L119.5,108.2" fill="none" stroke="#a8a838" stroke-width="0.60" stroke-linecap="round"/><path d="M121.4,108.8Q121.6,106.8 120.1,105.9Q120.6,107.5 121.4,108.8Z" fill="#b0b0b0" opacity="1.0"/><path d="M123.4,113.2Q125.0,110.2 123.9,107.2Q123.4,110.2 123.4,113.2Z" fill="#b0b0b0" opacity="1.0"/><path d="M126.5,120.1Q127.1,118.2 127.1,117.3Q127.2,116.3 127.2,115.3Q127.3,114.3 127.6,113.4Q128.0,112.5 128.8,111.7Q129.6,111.0 130.6,110.3L131.6,109.6" fill="none" stroke="#a8a838" stroke-width="0.70" stroke-linecap="round"/><path d="M128.0,112.5Q127.5,111.2 127.1,110.6Q126.7,109.9 127.2,109.1L127.7,108.2" fill="none" stroke="#a8a838" stroke-width="0.41" stroke-linecap="round"/><path d="M127.0,120.3Q127.8,118.9 128.2,118.1Q128.6,117.4 129.2,116.8Q129.8,116.2 130.6,115.8Q131.5,115.5 132.5,115.2Q133.4,114.9 134.1,114.4L134.8,113.8" fill="none" stroke="#b0b0b0" stroke-width="0.68" stroke-linecap="round"/><path d="M129.8,116.2Q130.1,114.4 130.8,113.7Q131.6,113.0 131.9,112.2L132.2,111.4" fill="none" stroke="#b0b0b0" stroke-width="0.42" stroke-linecap="round"/><path d="M127.3,120.7Q128.4,120.2 129.0,120.1Q129.6,120.0 130.1,119.7Q130.7,119.4 131.0,118.8Q131.3,118.2 131.4,117.3Q131.6,116.5 131.9,115.9L132.2,115.2" fill="none" stroke="#a8a838" stroke-width="0.79" stroke-linecap="round"/><path d="M126.0,121.5Q119.8,119.1 116.8,117.6Q113.7,116.2 110.7,114.9Q107.6,113.6 104.3,112.8Q101.1,112.1 97.7,111.6Q94.3,111.2 90.9,110.7L87.6,110.2" fill="none" stroke="#c0c0c0" stroke-width="0.5"/><path d="M126.0,121.5Q118.1,120.3 114.1,119.9Q110.1,119.5 106.1,119.0Q102.2,118.4 98.3,117.4Q94.4,116.3 90.6,114.9Q86.8,113.4 83.0,112.1L79.2,110.7" fill="none" stroke="#d8d870" stroke-width="0.5"/><path d="M126.0,121.5Q120.8,124.2 118.1,125.4Q115.5,126.6 113.0,128.1Q110.4,129.5 108.1,131.4Q105.9,133.3 103.7,135.4Q101.6,137.5 99.2,139.3L96.9,141.1" fill="none" stroke="#c0c0c0" stroke-width="0.5"/><path d="M126.0,121.5Q121.9,124.4 119.9,125.9Q117.8,127.3 116.0,129.1Q114.2,130.8 112.7,132.9Q111.2,134.9 109.6,137.0Q108.1,139.1 106.3,140.8L104.4,142.4" fill="none" stroke="#c8c850" stroke-width="0.5"/><path d="M126.0,121.5Q123.6,125.5 122.2,127.4Q120.7,129.2 119.0,130.9Q117.3,132.5 115.6,134.2Q113.9,135.8 112.7,137.8Q111.4,139.8 110.7,142.1L110.0,144.5" fill="none" stroke="#c8c8c8" stroke-width="0.5"/><path d="M126.0,121.5Q130.7,125.0 132.9,126.9Q135.1,128.8 137.1,131.0Q139.0,133.2 140.9,135.5Q142.8,137.7 145.0,139.7Q147.2,141.6 149.9,142.9L152.6,144.2" fill="none" stroke="#c0c0c0" stroke-width="0.5"/><path d="M126.0,121.5Q132.5,124.2 135.7,125.6Q138.9,127.1 142.2,128.2Q145.5,129.4 149.0,130.1Q152.4,130.8 156.0,131.3Q159.5,131.8 162.9,132.7L166.3,133.6" fill="none" stroke="#c8c850" stroke-width="0.5"/><path d="M126.0,121.5Q130.2,118.7 132.4,117.5Q134.6,116.3 137.0,115.5Q139.4,114.6 141.8,113.8Q144.1,112.9 146.3,111.6Q148.4,110.4 150.2,108.4L152.0,106.5" fill="none" stroke="#c8c8c8" stroke-width="0.5"/><path d="M104.0,121.0Q98.5,115.2 93.0,119.5Q98.5,121.2 104.0,121.0Z" fill="#a8a8a8" opacity="1.0"/><path d="M113.0,129.0Q105.1,133.1 106.7,140.5Q110.8,135.1 113.0,129.0Z" fill="#a0a0a0" opacity="1.0"/><path d="M119.0,127.0Q115.3,131.7 119.6,137.1Q120.1,132.1 119.0,127.0Z" fill="#b4b4b4" opacity="1.0"/><path d="M131.0,126.0Q128.1,131.9 132.7,135.0Q132.6,130.2 131.0,126.0Z" fill="#b0b0b0" opacity="1.0"/><path d="M148.0,120.0Q153.5,123.8 159.0,118.5Q153.5,118.3 148.0,120.0Z" fill="#c0c060" opacity="1.0"/><path d="M154.0,123.0Q157.6,128.5 162.6,126.0Q158.4,123.7 154.0,123.0Z" fill="#c8c860" opacity="1.0"/><path d="M145.0,124.0Q147.4,129.1 152.2,127.7Q148.8,125.2 145.0,124.0Z" fill="#d0d080" opacity="1.0"/><path d="M100.0,124.0Q95.5,121.7 92.3,126.4Q96.3,125.9 100.0,124.0Z" fill="#c0c0c0" opacity="1.0"/><path d="M130.0,124.0Q145.0,135.0 157.0,144.0" fill="none" stroke="#b0b0b0" stroke-width="0.6"/><path d="M24.0,108.5Q32.7,105.6 36.4,105.3Q40.0,105.0 44.0,105.8L48.0,106.5" fill="none" stroke="#c8c850" stroke-width="0.8" stroke-linecap="round"/><path d="M24.0,108.5L19.0,113.0" fill="none" stroke="#c8c850" stroke-width="0.7" stroke-linecap="round"/><path d="M24.0,108.5Q22.9,110.6 22.9,112.3Q22.9,114.0 22.5,115.0Q22.0,116.0 21.9,117.2Q21.8,118.4 21.2,120.0Q20.6,121.7 20.8,122.7L21.0,123.8" fill="none" stroke="#b0b0b0" stroke-width="0.5" stroke-linecap="round"/><path d="M22.5,114.1Q20.7,115.2 19.6,115.9L18.6,116.6" fill="none" stroke="#b0b0b0" stroke-width="0.425" stroke-linecap="round"/><path d="M24.0,108.5Q25.7,110.7 25.9,111.8Q26.1,112.9 27.1,114.0Q28.0,115.0 28.3,116.2Q28.6,117.4 29.6,118.6Q30.6,119.7 30.7,120.9L30.8,122.0" fill="none" stroke="#b0b0b0" stroke-width="0.5" stroke-linecap="round"/><path d="M29.5,118.8Q31.8,119.3 32.5,119.9L33.2,120.4" fill="none" stroke="#b0b0b0" stroke-width="0.425" stroke-linecap="round"/><path d="M24.0,108.5Q27.7,110.7 28.9,111.7Q30.2,112.7 32.1,113.4Q34.0,114.0 35.7,115.9Q37.5,117.7 38.9,119.5Q40.3,121.2 41.6,122.5L43.0,123.8" fill="none" stroke="#b0b0b0" stroke-width="0.5" stroke-linecap="round"/><path d="M27.7,110.5Q28.7,112.9 28.7,113.8L28.8,114.7" fill="none" stroke="#b0b0b0" stroke-width="0.425" stroke-linecap="round"/><path d="M24.0,108.5Q20.7,107.2 20.0,106.8Q19.3,106.5 17.7,106.2Q16.0,106.0 14.6,105.7Q13.3,105.3 12.5,105.4Q11.8,105.6 10.7,105.6L9.6,105.6" fill="none" stroke="#b0b0b0" stroke-width="0.5" stroke-linecap="round"/><path d="M20.3,107.4Q19.3,105.5 19.2,105.0L19.2,104.5" fill="none" stroke="#b0b0b0" stroke-width="0.425" stroke-linecap="round"/><path d="M24.0,108.5Q22.1,110.2 20.9,111.0Q19.7,111.9 18.3,112.9Q17.0,114.0 16.3,115.3Q15.7,116.5 15.0,117.6Q14.4,118.6 14.0,119.3L13.5,120.0" fill="none" stroke="#b0b0b0" stroke-width="0.5" stroke-linecap="round"/><path d="M14.7,118.0Q12.6,118.3 11.9,118.5L11.2,118.8" fill="none" stroke="#b0b0b0" stroke-width="0.425" stroke-linecap="round"/><path d="M24.0,108.5Q25.4,105.3 25.6,104.4Q25.7,103.4 26.4,102.2Q27.0,101.0 27.4,100.2Q27.7,99.3 28.5,98.0Q29.3,96.7 29.7,95.4L30.0,94.0" fill="none" stroke="#b0b0b0" stroke-width="0.5" stroke-linecap="round"/><path d="M27.9,98.9Q29.3,98.1 30.3,97.7L31.3,97.3" fill="none" stroke="#b0b0b0" stroke-width="0.425" stroke-linecap="round"/><path d="M40.0,105.0Q41.8,107.2 42.4,107.9Q43.0,108.6 44.0,109.3Q45.0,110.0 45.8,110.4Q46.7,110.7 47.2,111.1Q47.8,111.4 48.9,111.7L50.0,112.0" fill="none" stroke="#b0b0b0" stroke-width="0.5" stroke-linecap="round"/><path d="M48.2,111.3Q49.4,112.5 50.1,113.3L50.7,114.2" fill="none" stroke="#b0b0b0" stroke-width="0.425" stroke-linecap="round"/><path d="M44.0,112.0Q55.0,120.0 59.2,123.8Q63.5,127.7 72.2,131.6L80.8,135.4" fill="none" stroke="#c0c0c0" stroke-width="0.5" stroke-linecap="round"/><path d="M63.5,110.4Q65.6,110.4 66.5,110.8Q67.4,111.2 68.7,111.1Q70.0,111.0 70.5,110.8Q71.1,110.7 72.4,110.3Q73.8,109.8 74.4,109.9Q75.0,110.0 76.0,110.3Q77.0,110.6 77.7,110.6Q78.3,110.7 79.6,111.0L80.8,111.3" fill="none" stroke="#b8b8b8" stroke-width="0.6" stroke-linecap="round"/><path d="M25.9,168.3Q27.7,167.2 28.6,166.8Q29.6,166.4 30.6,166.3Q31.7,166.3 32.8,166.3Q34.0,166.3 34.9,165.9L35.8,165.5" fill="none" stroke="#c8c850" stroke-width="0.91" stroke-linecap="round"/><path d="M31.7,166.3Q32.7,165.2 33.2,164.7Q33.7,164.1 33.6,163.2L33.5,162.3" fill="none" stroke="#c8c850" stroke-width="0.61" stroke-linecap="round"/><path d="M34.0,166.3Q38.5,165.9 40.6,160.8Q37.0,163.1 34.0,166.3Z" fill="#a8a8a8" opacity="1.0"/><path d="M26.0,169.1Q28.4,169.5 29.7,169.6Q30.9,169.7 32.2,169.4Q33.4,169.2 34.7,168.8Q35.9,168.4 37.1,168.5L38.4,168.6" fill="none" stroke="#b8b8b8" stroke-width="0.72" stroke-linecap="round"/><path d="M35.9,168.4Q37.8,167.7 38.8,167.8Q39.8,167.8 40.7,167.3L41.6,166.7" fill="none" stroke="#b8b8b8" stroke-width="0.87" stroke-linecap="round"/><path d="M41.6,166.7Q44.4,168.1 46.1,165.8Q43.7,165.9 41.6,166.7Z" fill="#a8a8a8" opacity="1.0"/><path d="M25.8,169.9Q27.4,170.5 28.1,170.9Q28.9,171.4 29.5,172.1Q30.0,172.9 30.7,173.5Q31.4,174.0 32.3,174.1L33.3,174.1" fill="none" stroke="#b8b8b8" stroke-width="0.74" stroke-linecap="round"/><path d="M25.5,170.3Q26.6,171.5 27.1,172.2Q27.6,172.9 28.3,173.4Q28.9,173.9 29.9,174.0Q30.8,174.2 31.8,174.4L32.7,174.6" fill="none" stroke="#c8c850" stroke-width="0.74" stroke-linecap="round"/><path d="M28.9,173.9Q30.1,173.8 30.7,173.7Q31.2,173.5 31.8,174.1L32.3,174.7" fill="none" stroke="#c8c850" stroke-width="0.47" stroke-linecap="round"/><path d="M32.3,174.7Q33.9,177.8 35.8,176.4Q34.1,175.1 32.3,174.7Z" fill="#bdbdbd" opacity="1.0"/><path d="M24.8,170.8Q26.4,173.9 27.0,175.4Q27.7,177.0 28.0,178.7Q28.3,180.4 28.6,182.1Q28.9,183.8 29.8,185.3L30.6,186.8" fill="none" stroke="#b8b8b8" stroke-width="0.75" stroke-linecap="round"/><path d="M24.3,171.0Q24.9,173.4 24.8,174.7Q24.8,175.9 24.8,177.2Q24.7,178.4 25.1,179.6Q25.5,180.8 26.3,181.9L27.2,183.0" fill="none" stroke="#c8c8c8" stroke-width="0.55" stroke-linecap="round"/><path d="M23.2,170.8Q22.5,172.8 21.9,173.7Q21.2,174.6 20.6,175.4Q20.0,176.3 19.8,177.4Q19.6,178.4 19.8,179.7L20.0,180.9" fill="none" stroke="#c8c8c8" stroke-width="0.87" stroke-linecap="round"/><path d="M22.8,170.6Q21.6,171.9 21.0,172.6Q20.4,173.2 20.1,174.1Q19.8,175.0 19.7,176.0Q19.6,177.0 19.2,177.8L18.8,178.6" fill="none" stroke="#b8b8b8" stroke-width="0.61" stroke-linecap="round"/><path d="M19.6,177.0Q16.0,179.3 16.3,184.6Q18.4,181.1 19.6,177.0Z" fill="#a8a8a8" opacity="1.0"/><path d="M22.4,170.1Q20.0,172.1 18.8,173.0Q17.5,173.9 16.1,174.4Q14.6,175.0 13.2,175.6Q11.7,176.1 10.5,177.1L9.3,178.1" fill="none" stroke="#c8c8c8" stroke-width="0.93" stroke-linecap="round"/><path d="M14.6,175.0Q12.2,174.7 11.1,174.4Q9.9,174.2 8.6,174.6L7.4,175.0" fill="none" stroke="#c8c8c8" stroke-width="0.41" stroke-linecap="round"/><path d="M22.0,169.3Q19.5,169.9 18.2,170.4Q17.0,170.8 15.7,171.0Q14.4,171.2 13.0,171.0Q11.6,170.8 10.2,170.5L8.8,170.1" fill="none" stroke="#b8b8b8" stroke-width="1.08" stroke-linecap="round"/><path d="M11.6,170.8Q7.0,167.4 4.3,170.6Q8.1,171.3 11.6,170.8Z" fill="#d2d2d2" opacity="1.0"/><path d="M22.0,168.8Q19.9,168.7 18.9,168.3Q17.8,168.0 16.8,167.7Q15.8,167.4 14.7,167.6Q13.6,167.8 12.5,168.4L11.4,168.9" fill="none" stroke="#b8b8b8" stroke-width="1.02" stroke-linecap="round"/><path d="M13.6,167.8Q12.2,167.1 11.6,166.4Q11.1,165.7 10.3,165.6L9.5,165.4" fill="none" stroke="#b8b8b8" stroke-width="0.51" stroke-linecap="round"/><path d="M22.2,168.2Q20.5,167.2 19.5,166.9Q18.5,166.7 17.5,166.6Q16.5,166.5 15.6,166.0Q14.7,165.5 14.1,164.6L13.5,163.6" fill="none" stroke="#b8b8b8" stroke-width="0.78" stroke-linecap="round"/><path d="M16.5,166.5Q14.8,166.5 14.0,166.4Q13.2,166.3 12.4,166.9L11.7,167.5" fill="none" stroke="#b8b8b8" stroke-width="0.66" stroke-linecap="round"/><path d="M27.0,150.0Q30.8,145.6 29.7,140.3Q27.9,145.1 27.0,150.0Z" fill="#b0b0b0" opacity="1.0"/><path d="M29.0,152.0Q30.1,147.9 27.3,144.1Q27.8,148.1 29.0,152.0Z" fill="#c8c8c8" opacity="1.0"/><path d="M52.5,30.0Q51.5,34.0 48.8,33.8Q46.0,33.5 44.5,33.4L43.0,33.2" fill="none" stroke="#c8c8c8" stroke-width="0.6" stroke-linecap="round"/><path d="M51.5,34.0Q53.5,38.0 54.1,39.7L54.7,41.4" fill="none" stroke="#c8c8c8" stroke-width="0.6" stroke-linecap="round"/><path d="M12.0,64.0Q25.0,72.0 40.0,66.0" fill="none" stroke="#c0c0c0" stroke-width="0.5"/><path d="M14.0,66.0Q28.0,70.0 44.0,68.0" fill="none" stroke="#c8c8c8" stroke-width="0.5"/><path d="M30.0,68.0L33.0,64.0" fill="none" stroke="#c0c0c0" stroke-width="0.4" stroke-linecap="round"/><path d="M36.0,67.0L38.0,62.0" fill="none" stroke="#c0c0c0" stroke-width="0.4" stroke-linecap="round"/><path d="M93.8,146.6Q94.7,149.0 95.7,149.7Q96.8,150.3 97.3,151.5Q97.8,152.6 98.1,153.7Q98.5,154.7 98.9,156.0Q99.3,157.3 99.6,158.2Q99.8,159.1 99.2,160.7Q98.6,162.4 98.8,164.5Q98.9,166.7 98.3,168.6Q97.8,170.6 97.6,172.1Q97.4,173.7 96.9,175.9Q96.4,178.2 96.1,179.9Q95.8,181.6 95.0,183.0Q94.1,184.5 93.9,185.1Q93.6,185.7 92.7,187.2Q91.8,188.6 91.0,189.7Q90.2,190.8 90.3,191.8Q90.3,192.8 89.6,193.9L88.8,195.1" fill="none" stroke="#e6e6e6" stroke-width="1.2" stroke-linecap="round"/><path d="M93.0,146.0Q93.9,148.4 94.9,149.1Q96.0,149.7 96.5,150.9Q97.0,152.0 97.3,153.1Q97.7,154.1 98.1,155.4Q98.5,156.7 98.8,157.6Q99.0,158.5 98.4,160.1Q97.8,161.8 98.0,163.9Q98.1,166.1 97.5,168.0Q97.0,170.0 96.8,171.5Q96.6,173.1 96.1,175.3Q95.6,177.6 95.3,179.3Q95.0,181.0 94.2,182.4Q93.3,183.9 93.1,184.5Q92.8,185.1 91.9,186.6Q91.0,188.0 90.2,189.1Q89.4,190.2 89.5,191.2Q89.5,192.2 88.8,193.3L88.0,194.5" fill="none" stroke="#a8a8a8" stroke-width="0.6" stroke-linecap="round"/><path d="M95.8,181.6Q99.3,180.5 100.3,179.1Q101.3,177.8 103.0,177.2Q104.8,176.6 106.3,175.7Q107.9,174.9 109.1,173.6Q110.3,172.4 111.6,171.5Q112.8,170.6 114.4,170.1Q115.9,169.6 117.4,168.8Q118.9,168.0 120.3,167.6L121.8,167.3" fill="none" stroke="#e6e6e6" stroke-width="1.4" stroke-linecap="round"/><path d="M95.0,181.0Q98.5,179.9 99.5,178.5Q100.5,177.2 102.2,176.6Q104.0,176.0 105.5,175.1Q107.1,174.3 108.3,173.0Q109.5,171.8 110.8,170.9Q112.0,170.0 113.6,169.5Q115.1,169.0 116.6,168.2Q118.1,167.4 119.5,167.0L121.0,166.7" fill="none" stroke="#a8a8a8" stroke-width="0.55" stroke-linecap="round"/><path d="M97.8,178.6Q99.8,176.7 101.1,175.7Q102.3,174.7 103.6,173.7Q104.8,172.6 105.9,171.3Q107.0,170.1 107.6,169.5Q108.2,169.0 109.5,167.8Q110.8,166.6 111.8,165.9Q112.7,165.3 114.3,164.9Q115.9,164.6 116.7,164.1L117.5,163.6" fill="none" stroke="#e6e6e6" stroke-width="1.4" stroke-linecap="round"/><path d="M97.0,178.0Q99.0,176.1 100.3,175.1Q101.5,174.1 102.8,173.1Q104.0,172.0 105.1,170.7Q106.2,169.5 106.8,168.9Q107.4,168.4 108.7,167.2Q110.0,166.0 111.0,165.3Q111.9,164.7 113.5,164.3Q115.1,164.0 115.9,163.5L116.7,163.0" fill="none" stroke="#a8a8a8" stroke-width="0.55" stroke-linecap="round"/><path d="M100.8,178.6Q102.5,177.1 103.6,176.7Q104.7,176.2 105.7,175.9Q106.8,175.6 107.6,174.9Q108.5,174.1 110.1,173.7Q111.7,173.2 112.6,172.4L113.4,171.5" fill="none" stroke="#e6e6e6" stroke-width="1.4" stroke-linecap="round"/><path d="M100.0,178.0Q101.7,176.5 102.8,176.1Q103.9,175.6 104.9,175.3Q106.0,175.0 106.8,174.3Q107.7,173.5 109.3,173.1Q110.9,172.6 111.8,171.8L112.6,170.9" fill="none" stroke="#a8a8a8" stroke-width="0.55" stroke-linecap="round"/><path d="M93.8,186.6Q97.6,187.6 99.6,188.0Q101.5,188.5 103.1,188.5Q104.8,188.6 107.4,189.1Q110.0,189.6 112.1,189.5Q114.1,189.5 116.9,189.7L119.6,190.0" fill="none" stroke="#e6e6e6" stroke-width="1.4" stroke-linecap="round"/><path d="M93.0,186.0Q96.8,187.0 98.8,187.4Q100.7,187.9 102.3,187.9Q104.0,188.0 106.6,188.5Q109.2,189.0 111.3,188.9Q113.3,188.9 116.1,189.1L118.8,189.4" fill="none" stroke="#a8a8a8" stroke-width="0.55" stroke-linecap="round"/><path d="M95.8,176.6Q95.5,174.3 95.0,172.7Q94.4,171.0 94.1,169.8Q93.8,168.6 93.3,167.7Q92.9,166.8 93.0,165.9Q93.1,164.9 92.9,163.8L92.8,162.6" fill="none" stroke="#e6e6e6" stroke-width="1.4" stroke-linecap="round"/><path d="M95.0,176.0Q94.7,173.7 94.2,172.1Q93.6,170.4 93.3,169.2Q93.0,168.0 92.5,167.1Q92.1,166.2 92.2,165.3Q92.3,164.3 92.1,163.2L92.0,162.0" fill="none" stroke="#a8a8a8" stroke-width="0.55" stroke-linecap="round"/><path d="M90.8,188.6Q88.9,185.5 88.3,184.1Q87.6,182.8 86.7,181.7Q85.8,180.6 85.3,179.2Q84.7,177.8 83.9,176.5Q83.1,175.3 82.8,173.9L82.5,172.6" fill="none" stroke="#e6e6e6" stroke-width="1.4" stroke-linecap="round"/><path d="M90.0,188.0Q88.1,184.9 87.5,183.5Q86.8,182.2 85.9,181.1Q85.0,180.0 84.5,178.6Q83.9,177.2 83.1,175.9Q82.3,174.7 82.0,173.3L81.7,172.0" fill="none" stroke="#a8a8a8" stroke-width="0.55" stroke-linecap="round"/><path d="M88.8,192.6Q85.8,192.2 84.4,191.5Q83.0,190.8 81.9,190.2Q80.8,189.6 79.1,188.6Q77.5,187.6 76.6,186.8Q75.7,185.9 74.0,185.3L72.3,184.6" fill="none" stroke="#e6e6e6" stroke-width="1.4" stroke-linecap="round"/><path d="M88.0,192.0Q85.0,191.6 83.6,190.9Q82.2,190.2 81.1,189.6Q80.0,189.0 78.3,188.0Q76.7,187.0 75.8,186.2Q74.9,185.3 73.2,184.7L71.5,184.0" fill="none" stroke="#a8a8a8" stroke-width="0.55" stroke-linecap="round"/><path d="M88.8,195.1Q88.4,198.4 88.1,200.5Q87.7,202.5 87.7,204.1Q87.8,205.6 87.3,207.1Q86.9,208.6 87.2,209.9Q87.6,211.1 87.2,212.8Q86.8,214.6 86.8,216.0Q86.9,217.4 86.6,218.6Q86.2,219.8 86.5,221.2L86.8,222.6" fill="none" stroke="#e6e6e6" stroke-width="1.4" stroke-linecap="round"/><path d="M88.0,194.5Q87.6,197.8 87.3,199.9Q86.9,201.9 86.9,203.5Q87.0,205.0 86.5,206.5Q86.1,208.0 86.4,209.3Q86.8,210.5 86.4,212.2Q86.0,214.0 86.0,215.4Q86.1,216.8 85.8,218.0Q85.4,219.2 85.7,220.6L86.0,222.0" fill="none" stroke="#a8a8a8" stroke-width="0.6" stroke-linecap="round"/><path d="M87.8,203.6Q85.9,204.8 84.9,205.4Q83.9,205.9 82.8,206.8Q81.8,207.6 81.1,208.5Q80.4,209.3 79.4,209.6Q78.4,209.9 77.4,210.7L76.4,211.6" fill="none" stroke="#e6e6e6" stroke-width="1.4" stroke-linecap="round"/><path d="M87.0,203.0Q85.1,204.2 84.1,204.8Q83.1,205.3 82.0,206.2Q81.0,207.0 80.3,207.9Q79.6,208.7 78.6,209.0Q77.6,209.3 76.6,210.1L75.6,211.0" fill="none" stroke="#a8a8a8" stroke-width="0.55" stroke-linecap="round"/><path d="M87.8,200.6Q90.4,201.3 92.0,201.6Q93.6,201.9 94.7,202.2Q95.8,202.6 97.0,203.0Q98.1,203.3 99.1,203.6Q100.1,203.8 101.4,204.1L102.8,204.4" fill="none" stroke="#e6e6e6" stroke-width="1.4" stroke-linecap="round"/><path d="M87.0,200.0Q89.6,200.7 91.2,201.0Q92.8,201.3 93.9,201.6Q95.0,202.0 96.2,202.4Q97.3,202.7 98.3,203.0Q99.3,203.2 100.6,203.5L102.0,203.8" fill="none" stroke="#a8a8a8" stroke-width="0.55" stroke-linecap="round"/><path d="M87.8,198.6Q84.8,199.8 83.4,200.0Q82.0,200.2 80.4,200.9Q78.8,201.6 77.1,202.0Q75.3,202.4 74.1,203.1Q72.8,203.8 71.5,204.1L70.2,204.4" fill="none" stroke="#e6e6e6" stroke-width="1.4" stroke-linecap="round"/><path d="M87.0,198.0Q84.0,199.2 82.6,199.4Q81.2,199.6 79.6,200.3Q78.0,201.0 76.3,201.4Q74.5,201.8 73.3,202.5Q72.0,203.2 70.7,203.5L69.4,203.8" fill="none" stroke="#a8a8a8" stroke-width="0.55" stroke-linecap="round"/><path d="M86.8,212.6Q88.5,214.2 89.8,214.9Q91.0,215.7 91.9,216.1Q92.8,216.6 93.1,217.4Q93.4,218.3 93.9,219.3Q94.4,220.3 95.1,221.4L95.8,222.6" fill="none" stroke="#e6e6e6" stroke-width="1.4" stroke-linecap="round"/><path d="M86.0,212.0Q87.7,213.6 89.0,214.3Q90.2,215.1 91.1,215.5Q92.0,216.0 92.3,216.8Q92.6,217.7 93.1,218.7Q93.6,219.7 94.3,220.8L95.0,222.0" fill="none" stroke="#a8a8a8" stroke-width="0.55" stroke-linecap="round"/><path d="M104.8,176.6Q105.0,178.8 105.7,180.0Q106.3,181.1 106.6,181.9L106.8,182.6" fill="none" stroke="#e6e6e6" stroke-width="1.4" stroke-linecap="round"/><path d="M104.0,176.0Q104.2,178.2 104.9,179.4Q105.5,180.5 105.8,181.3L106.0,182.0" fill="none" stroke="#a8a8a8" stroke-width="0.55" stroke-linecap="round"/><path d="M112.8,170.6Q114.7,172.0 115.2,173.1Q115.7,174.2 116.3,175.4L116.8,176.6" fill="none" stroke="#e6e6e6" stroke-width="1.4" stroke-linecap="round"/><path d="M112.0,170.0Q113.9,171.4 114.4,172.5Q114.9,173.6 115.5,174.8L116.0,176.0" fill="none" stroke="#a8a8a8" stroke-width="0.55" stroke-linecap="round"/><path d="M86.0,214.0Q83.0,218.5 85.0,223.0Q86.0,218.5 86.0,214.0Z" fill="#d0d0d0" opacity="1.0"/><path d="M112.0,168.0Q116.7,167.3 118.8,163.6Q115.1,165.5 112.0,168.0Z" fill="#d8d8d8" opacity="1.0"/><path d="M118.0,164.0Q121.8,163.5 123.6,159.6Q120.6,161.5 118.0,164.0Z" fill="#d4d4d4" opacity="1.0"/><path d="M169.0,207.8Q173.2,208.6 175.3,208.6Q177.4,208.6 179.6,208.5Q181.8,208.4 183.9,208.6Q186.0,208.9 188.0,209.9Q190.1,210.8 192.0,212.2L194.0,213.6" fill="none" stroke="#eaeaea" stroke-width="2.89" stroke-linecap="round"/><path d="M189.6,210.6Q191.7,213.1 193.2,213.9Q194.7,214.6 196.4,215.2L198.1,215.7" fill="none" stroke="#eaeaea" stroke-width="2.02" stroke-linecap="round"/><path d="M168.7,209.1Q172.5,210.2 174.3,211.1Q176.0,212.1 177.7,213.2Q179.5,214.4 181.3,215.3Q183.0,216.1 185.0,216.4Q187.0,216.6 189.2,216.3L191.4,216.0" fill="none" stroke="#e4e4e4" stroke-width="2.73" stroke-linecap="round"/><path d="M175.6,212.4Q177.9,215.0 179.5,215.7Q181.2,216.4 182.6,217.3L184.1,218.3" fill="none" stroke="#e4e4e4" stroke-width="1.91" stroke-linecap="round"/><path d="M168.0,210.6Q170.9,212.7 172.5,213.5Q174.1,214.2 175.9,214.8Q177.6,215.4 179.1,216.3Q180.7,217.1 181.9,218.6Q183.0,220.1 184.0,222.0L184.9,223.9" fill="none" stroke="#dcdcdc" stroke-width="2.48" stroke-linecap="round"/><path d="M166.5,212.3Q169.7,215.2 171.0,216.8Q172.3,218.4 173.3,220.2Q174.4,222.1 175.4,223.9Q176.5,225.8 178.0,227.3Q179.5,228.7 181.6,229.7L183.7,230.6" fill="none" stroke="#e4e4e4" stroke-width="3.11" stroke-linecap="round"/><path d="M179.1,228.5Q181.8,229.7 183.1,230.8Q184.3,231.8 186.0,231.6L187.8,231.4" fill="none" stroke="#e4e4e4" stroke-width="2.18" stroke-linecap="round"/><path d="M165.3,213.1Q166.9,217.3 167.9,219.3Q168.9,221.3 170.2,223.0Q171.6,224.8 173.1,226.5Q174.6,228.2 175.7,230.1Q176.8,232.0 177.1,234.4L177.4,236.7" fill="none" stroke="#eaeac0" stroke-width="3.21" stroke-linecap="round"/><path d="M176.6,231.5Q177.1,235.8 176.5,237.9Q176.0,240.0 175.4,242.1L174.8,244.2" fill="none" stroke="#eaeac0" stroke-width="2.24" stroke-linecap="round"/><path d="M164.0,213.7Q165.0,218.4 165.9,220.6Q166.8,222.9 167.9,225.1Q168.9,227.2 169.8,229.5Q170.6,231.7 170.7,234.2Q170.9,236.7 170.5,239.3L170.1,241.9" fill="none" stroke="#dcdcdc" stroke-width="1.78" stroke-linecap="round"/><path d="M162.6,214.0Q162.9,217.8 162.8,219.8Q162.7,221.7 162.8,223.6Q162.9,225.5 163.6,227.4Q164.3,229.3 165.4,231.1Q166.5,233.0 167.4,234.8L168.3,236.7" fill="none" stroke="#eaeaea" stroke-width="2.33" stroke-linecap="round"/><path d="M161.7,214.0Q161.8,218.0 162.1,220.0Q162.5,222.0 162.8,224.0Q163.2,226.0 163.0,227.9Q162.9,229.9 162.1,231.9Q161.3,233.8 160.3,235.8L159.4,237.7" fill="none" stroke="#e4e4e4" stroke-width="2.89" stroke-linecap="round"/><path d="M160.1,213.7Q158.8,217.0 157.9,218.5Q157.0,220.1 156.4,221.7Q155.7,223.3 155.6,225.1Q155.4,226.9 155.7,228.8Q156.0,230.7 156.2,232.6L156.3,234.4" fill="none" stroke="#dcdcdc" stroke-width="1.79" stroke-linecap="round"/><path d="M155.3,227.1Q155.8,230.6 155.7,232.3Q155.6,234.1 156.7,235.7L157.9,237.2" fill="none" stroke="#dcdcdc" stroke-width="1.26" stroke-linecap="round"/><path d="M158.6,213.1Q157.3,216.4 156.4,217.9Q155.5,219.4 154.2,220.8Q153.0,222.1 151.9,223.5Q150.8,224.9 150.2,226.6Q149.7,228.3 149.8,230.4L149.9,232.5" fill="none" stroke="#eaeaea" stroke-width="3.12" stroke-linecap="round"/><path d="M156.7,211.6Q153.9,214.4 152.2,215.5Q150.5,216.7 148.7,217.7Q147.0,218.7 145.4,219.9Q143.8,221.1 142.7,222.9Q141.5,224.6 140.8,226.8L140.0,228.9" fill="none" stroke="#eaeac0" stroke-width="1.86" stroke-linecap="round"/><path d="M156.2,210.9Q152.6,213.9 150.9,215.5Q149.2,217.2 147.3,218.6Q145.4,220.0 143.3,220.9Q141.1,221.9 138.7,222.5Q136.4,223.2 134.2,224.1L132.1,225.1" fill="none" stroke="#dcdcdc" stroke-width="3.50" stroke-linecap="round"/><path d="M155.4,209.2Q151.9,210.6 150.0,210.9Q148.2,211.3 146.3,211.5Q144.4,211.8 142.7,212.4Q141.0,213.1 139.4,214.4Q137.9,215.7 136.5,217.3L135.1,218.9" fill="none" stroke="#eaeac0" stroke-width="1.57" stroke-linecap="round"/><path d="M148.5,211.4Q146.6,212.7 146.2,213.8Q145.8,214.9 145.5,216.2L145.2,217.5" fill="none" stroke="#eaeac0" stroke-width="1.10" stroke-linecap="round"/><path d="M155.0,207.2Q150.6,206.8 148.4,206.5Q146.2,206.3 144.0,206.6Q141.8,206.8 139.6,207.5Q137.4,208.1 135.3,208.7Q133.1,209.3 130.9,209.2L128.7,209.1" fill="none" stroke="#dcdcdc" stroke-width="3.06" stroke-linecap="round"/><path d="M137.1,208.0Q134.6,209.3 133.0,209.2Q131.4,209.0 130.1,209.6L128.8,210.1" fill="none" stroke="#dcdcdc" stroke-width="2.14" stroke-linecap="round"/><path d="M155.1,205.8Q150.4,204.7 148.1,204.1Q145.7,203.6 143.3,203.5Q140.9,203.4 138.4,203.8Q135.9,204.1 133.4,204.4Q130.9,204.7 128.5,204.3L126.2,203.8" fill="none" stroke="#eaeaea" stroke-width="2.55" stroke-linecap="round"/><path d="M136.1,204.2Q132.0,205.4 129.9,205.5Q127.7,205.5 125.5,205.0L123.3,204.5" fill="none" stroke="#eaeaea" stroke-width="1.78" stroke-linecap="round"/><path d="M155.3,204.9Q152.1,203.5 150.6,202.5Q149.0,201.6 147.4,200.9Q145.8,200.2 144.0,200.1Q142.2,200.0 140.3,200.2Q138.4,200.4 136.6,200.4L134.7,200.3" fill="none" stroke="#eaeac0" stroke-width="2.73" stroke-linecap="round"/><path d="M156.0,203.3Q152.8,200.7 151.0,199.7Q149.1,198.7 147.2,197.9Q145.2,197.2 143.3,196.3Q141.4,195.4 139.8,194.0Q138.2,192.6 137.0,190.5L135.9,188.5" fill="none" stroke="#eaeaea" stroke-width="3.31" stroke-linecap="round"/><path d="M157.1,202.0Q153.8,199.3 152.4,197.6Q151.1,196.0 149.8,194.2Q148.6,192.4 147.3,190.8Q145.9,189.2 144.0,188.0Q142.1,186.9 139.8,186.2L137.5,185.5" fill="none" stroke="#eaeac0" stroke-width="3.27" stroke-linecap="round"/><path d="M151.1,196.7Q147.2,196.3 145.4,195.7Q143.5,195.1 141.9,193.7L140.2,192.3" fill="none" stroke="#eaeac0" stroke-width="2.29" stroke-linecap="round"/><path d="M157.9,201.3Q155.1,198.5 153.8,196.9Q152.5,195.4 151.5,193.6Q150.6,191.8 149.9,189.9Q149.2,187.9 148.3,186.1Q147.4,184.3 145.8,183.0L144.2,181.7" fill="none" stroke="#eaeaea" stroke-width="2.81" stroke-linecap="round"/><path d="M159.6,200.4Q157.9,196.4 157.2,194.3Q156.6,192.1 156.4,189.9Q156.2,187.6 156.1,185.3Q155.9,183.0 155.3,180.9Q154.8,178.8 153.4,176.9L152.0,175.1" fill="none" stroke="#dcdcdc" stroke-width="2.62" stroke-linecap="round"/><path d="M161.0,200.1Q160.1,195.6 160.0,193.3Q159.9,191.0 159.9,188.6Q159.9,186.3 159.4,184.1Q159.0,181.8 157.9,179.7Q156.8,177.5 155.3,175.4L153.9,173.3" fill="none" stroke="#eaeaea" stroke-width="3.07" stroke-linecap="round"/><path d="M162.9,200.1Q163.3,196.0 163.1,193.9Q163.0,191.8 162.8,189.8Q162.7,187.7 163.1,185.7Q163.5,183.7 164.5,181.8Q165.5,179.8 166.7,177.9L167.8,176.0" fill="none" stroke="#e4e4e4" stroke-width="2.57" stroke-linecap="round"/><path d="M164.0,200.3Q165.8,196.2 166.7,194.2Q167.7,192.2 168.3,190.1Q168.9,188.0 169.0,185.7Q169.1,183.5 169.1,181.1Q169.0,178.8 169.4,176.7L169.9,174.5" fill="none" stroke="#eaeac0" stroke-width="1.90" stroke-linecap="round"/><path d="M167.9,192.6Q170.4,190.8 171.4,189.6Q172.4,188.5 172.8,186.7L173.3,185.0" fill="none" stroke="#eaeac0" stroke-width="1.33" stroke-linecap="round"/><path d="M166.2,201.4Q168.5,198.4 169.5,196.7Q170.4,195.0 171.4,193.3Q172.5,191.7 173.9,190.4Q175.4,189.1 177.3,188.1Q179.2,187.1 181.1,186.2L182.9,185.2" fill="none" stroke="#eaeaea" stroke-width="2.28" stroke-linecap="round"/><path d="M167.3,202.4Q171.0,199.8 172.7,198.3Q174.5,196.8 175.9,195.0Q177.3,193.2 178.7,191.3Q180.1,189.4 181.8,188.0Q183.5,186.5 185.8,185.7L188.1,184.8" fill="none" stroke="#e4e4e4" stroke-width="2.27" stroke-linecap="round"/><path d="M168.1,203.6Q171.9,201.9 173.7,201.0Q175.6,200.2 177.3,199.1Q179.0,197.9 180.5,196.3Q181.9,194.7 183.4,193.0Q184.8,191.3 186.5,190.1L188.2,188.9" fill="none" stroke="#eaeaea" stroke-width="1.51" stroke-linecap="round"/><path d="M175.4,200.0Q177.5,198.4 178.7,197.7Q179.9,197.0 180.2,195.4L180.4,193.7" fill="none" stroke="#eaeaea" stroke-width="1.05" stroke-linecap="round"/><path d="M168.4,204.2Q172.4,203.0 174.3,202.1Q176.2,201.2 177.9,200.0Q179.6,198.8 181.4,197.6Q183.2,196.5 185.2,195.9Q187.2,195.3 189.5,195.4L191.8,195.5" fill="none" stroke="#e4e4e4" stroke-width="2.30" stroke-linecap="round"/><path d="M168.9,206.1Q173.7,205.6 176.1,205.0Q178.5,204.5 180.8,204.0Q183.2,203.5 185.7,203.6Q188.1,203.6 190.6,204.2Q193.1,204.9 195.6,205.5L198.2,206.2" fill="none" stroke="#e4e4e4" stroke-width="3.04" stroke-linecap="round"/><path d="M183.5,203.8Q186.8,202.6 188.5,202.3Q190.2,202.1 191.5,200.5L192.7,199.0" fill="none" stroke="#e4e4e4" stroke-width="2.13" stroke-linecap="round"/><path d="M169.0,207.8Q173.2,208.4 175.3,208.3Q177.5,208.2 179.6,208.0Q181.8,207.8 183.9,208.0Q186.1,208.2 188.1,209.0Q190.2,209.9 192.2,211.2L194.2,212.5" fill="none" stroke="#c0c0c0" stroke-width="0.61" stroke-linecap="round"/><path d="M190.2,209.9Q192.3,212.4 193.8,213.2Q195.3,213.9 197.0,214.5L198.7,215.0" fill="none" stroke="#c0c0c0" stroke-width="0.52" stroke-linecap="round"/><path d="M195.3,213.9Q195.8,217.6 198.9,218.2Q197.4,215.7 195.3,213.9Z" fill="#b4b4b4" opacity="1.0"/><path d="M186.1,208.2Q189.6,213.4 195.5,210.6Q191.0,208.6 186.1,208.2Z" fill="#c4c4c4" opacity="1.0"/><path d="M168.7,209.1Q172.5,210.1 174.3,210.9Q176.1,211.7 177.9,212.8Q179.6,213.9 181.4,214.7Q183.3,215.5 185.3,215.6Q187.3,215.8 189.5,215.4L191.7,215.0" fill="none" stroke="#a0a0a0" stroke-width="0.62" stroke-linecap="round"/><path d="M176.1,211.7Q178.4,214.3 180.1,215.0Q181.8,215.7 183.2,216.7L184.6,217.7" fill="none" stroke="#a0a0a0" stroke-width="0.47" stroke-linecap="round"/><path d="M181.8,215.7Q181.8,219.8 185.5,219.8Q184.0,217.4 181.8,215.7Z" fill="#909090" opacity="1.0"/><path d="M183.3,215.5Q185.0,219.7 189.1,217.3Q186.4,215.7 183.3,215.5Z" fill="#c4c4c4" opacity="1.0"/><path d="M168.0,210.6Q171.0,212.6 172.6,213.3Q174.3,213.9 176.1,214.5Q177.8,215.0 179.4,215.8Q181.0,216.6 182.2,218.0Q183.5,219.4 184.4,221.3L185.4,223.1" fill="none" stroke="#b0b0b0" stroke-width="0.51" stroke-linecap="round"/><path d="M181.0,216.6Q181.9,223.9 188.1,224.6Q185.0,219.9 181.0,216.6Z" fill="#c4c4c4" opacity="1.0"/><path d="M166.5,212.3Q169.5,215.3 170.8,217.0Q172.0,218.6 173.0,220.6Q173.9,222.5 174.9,224.4Q175.9,226.3 177.3,227.8Q178.7,229.4 180.7,230.4L182.7,231.4" fill="none" stroke="#b0b0b0" stroke-width="0.54" stroke-linecap="round"/><path d="M178.7,229.4Q181.5,230.6 182.7,231.7Q183.9,232.7 185.7,232.5L187.4,232.3" fill="none" stroke="#b0b0b0" stroke-width="0.51" stroke-linecap="round"/><path d="M183.9,232.7Q185.2,236.3 189.0,233.8Q186.7,232.6 183.9,232.7Z" fill="#b4b4b4" opacity="1.0"/><path d="M175.9,226.3Q177.9,231.7 183.9,233.3Q180.3,229.4 175.9,226.3Z" fill="#b4b4b4" opacity="1.0"/><path d="M165.3,213.1Q167.1,217.2 168.1,219.2Q169.2,221.1 170.7,222.8Q172.2,224.5 173.8,226.2Q175.3,227.8 176.5,229.7Q177.7,231.6 178.1,233.8L178.5,236.1" fill="none" stroke="#c8c850" stroke-width="0.58" stroke-linecap="round"/><path d="M177.7,231.6Q178.1,235.8 177.6,237.9Q177.0,240.0 176.4,242.1L175.8,244.3" fill="none" stroke="#c8c850" stroke-width="0.42" stroke-linecap="round"/><path d="M177.0,240.0Q174.4,242.6 177.4,245.4Q177.8,242.7 177.0,240.0Z" fill="#909090" opacity="1.0"/><path d="M175.3,227.8Q174.6,233.3 179.2,234.6Q177.8,230.8 175.3,227.8Z" fill="#c8c850" opacity="1.0"/><path d="M164.0,213.7Q165.1,218.4 166.1,220.6Q167.0,222.8 168.1,225.0Q169.3,227.1 170.1,229.4Q171.0,231.6 171.2,234.1Q171.4,236.5 171.1,239.1L170.7,241.7" fill="none" stroke="#c0c0c0" stroke-width="0.70" stroke-linecap="round"/><path d="M162.6,214.0Q162.7,217.8 162.6,219.8Q162.4,221.7 162.4,223.7Q162.5,225.6 163.1,227.5Q163.7,229.3 164.7,231.2Q165.8,233.0 166.6,234.9L167.4,236.7" fill="none" stroke="#b0b0b0" stroke-width="0.54" stroke-linecap="round"/><path d="M163.7,229.3Q159.8,233.4 163.3,237.6Q164.2,233.5 163.7,229.3Z" fill="#c4c4c4" opacity="1.0"/><path d="M161.7,214.0Q161.6,218.0 161.8,220.0Q162.1,221.9 162.4,223.9Q162.6,225.9 162.4,227.9Q162.1,229.9 161.2,231.8Q160.4,233.8 159.3,235.7L158.3,237.7" fill="none" stroke="#b0b0b0" stroke-width="0.59" stroke-linecap="round"/><path d="M162.1,229.9Q158.2,235.1 161.8,240.5Q162.7,235.2 162.1,229.9Z" fill="#a0a0a0" opacity="1.0"/><path d="M160.1,213.7Q158.9,217.0 158.1,218.6Q157.3,220.2 156.6,221.8Q156.0,223.4 155.9,225.2Q155.9,227.0 156.2,228.9Q156.6,230.9 156.8,232.7L156.9,234.6" fill="none" stroke="#b0b0b0" stroke-width="0.55" stroke-linecap="round"/><path d="M155.9,227.0Q156.4,230.5 156.2,232.2Q156.1,234.0 157.3,235.6L158.5,237.1" fill="none" stroke="#b0b0b0" stroke-width="0.40" stroke-linecap="round"/><path d="M156.1,234.0Q153.2,237.3 156.9,239.5Q157.1,236.6 156.1,234.0Z" fill="#909090" opacity="1.0"/><path d="M155.9,227.0Q151.9,229.7 155.1,233.8Q156.2,230.6 155.9,227.0Z" fill="#b4b4b4" opacity="1.0"/><path d="M158.6,213.1Q157.2,216.3 156.1,217.8Q155.1,219.2 153.8,220.5Q152.5,221.8 151.3,223.2Q150.1,224.5 149.5,226.2Q148.8,227.8 148.8,229.9L148.8,231.9" fill="none" stroke="#a0a0a0" stroke-width="0.78" stroke-linecap="round"/><path d="M150.1,224.5Q145.4,228.5 147.1,234.8Q149.2,229.9 150.1,224.5Z" fill="#909090" opacity="1.0"/><path d="M156.7,211.6Q153.8,214.3 152.1,215.4Q150.4,216.5 148.6,217.4Q146.7,218.4 145.1,219.6Q143.5,220.7 142.3,222.5Q141.1,224.2 140.3,226.3L139.5,228.4" fill="none" stroke="#c8c850" stroke-width="0.53" stroke-linecap="round"/><path d="M156.2,210.9Q152.4,213.7 150.7,215.2Q148.9,216.8 147.0,218.1Q145.1,219.4 142.8,220.3Q140.6,221.1 138.2,221.7Q135.8,222.2 133.5,223.1L131.3,224.0" fill="none" stroke="#b0b0b0" stroke-width="0.51" stroke-linecap="round"/><path d="M155.4,209.2Q151.9,210.5 150.0,210.8Q148.1,211.1 146.2,211.3Q144.3,211.5 142.6,212.1Q140.8,212.7 139.3,214.0Q137.8,215.2 136.3,216.8L134.9,218.4" fill="none" stroke="#c8c850" stroke-width="0.54" stroke-linecap="round"/><path d="M148.1,211.1Q146.2,212.4 145.8,213.5Q145.4,214.6 145.1,215.9L144.9,217.1" fill="none" stroke="#c8c850" stroke-width="0.55" stroke-linecap="round"/><path d="M145.4,214.6Q141.9,216.4 141.4,220.9Q143.7,218.0 145.4,214.6Z" fill="#a0a0a0" opacity="1.0"/><path d="M140.8,212.7Q136.5,209.5 134.1,213.5Q137.7,213.8 140.8,212.7Z" fill="#c4c4c4" opacity="1.0"/><path d="M155.0,207.2Q150.6,206.9 148.4,206.8Q146.2,206.7 144.0,207.1Q141.8,207.4 139.6,208.2Q137.5,208.9 135.3,209.6Q133.1,210.3 130.9,210.3L128.7,210.3" fill="none" stroke="#b0b0b0" stroke-width="0.64" stroke-linecap="round"/><path d="M137.5,208.9Q134.9,210.2 133.3,210.1Q131.8,210.0 130.4,210.5L129.1,211.0" fill="none" stroke="#b0b0b0" stroke-width="0.50" stroke-linecap="round"/><path d="M131.8,210.0Q127.4,208.5 125.0,212.3Q128.5,211.7 131.8,210.0Z" fill="#909090" opacity="1.0"/><path d="M137.5,208.9Q132.7,204.6 128.3,208.7Q132.9,209.7 137.5,208.9Z" fill="#a0a0a0" opacity="1.0"/><path d="M155.1,205.8Q150.5,204.5 148.1,203.9Q145.8,203.3 143.4,203.1Q141.0,202.9 138.5,203.2Q136.0,203.4 133.5,203.7Q131.1,203.9 128.7,203.4L126.4,202.9" fill="none" stroke="#b0b0b0" stroke-width="0.58" stroke-linecap="round"/><path d="M136.0,203.4Q131.9,204.6 129.7,204.7Q127.6,204.7 125.4,204.2L123.1,203.7" fill="none" stroke="#b0b0b0" stroke-width="0.51" stroke-linecap="round"/><path d="M136.0,203.4Q133.2,199.9 129.5,203.6Q132.7,204.3 136.0,203.4Z" fill="#a0a0a0" opacity="1.0"/><path d="M155.3,204.9Q152.1,203.6 150.5,202.8Q148.9,201.9 147.3,201.3Q145.6,200.7 143.8,200.7Q142.0,200.6 140.1,201.0Q138.1,201.3 136.3,201.3L134.4,201.3" fill="none" stroke="#a8a838" stroke-width="0.62" stroke-linecap="round"/><path d="M142.0,200.6Q139.1,194.7 132.4,196.1Q136.8,199.1 142.0,200.6Z" fill="#c8c850" opacity="1.0"/><path d="M156.0,203.3Q152.7,200.9 150.8,199.9Q148.9,199.0 146.9,198.4Q144.8,197.7 142.9,196.9Q140.9,196.2 139.3,194.8Q137.7,193.5 136.4,191.5L135.2,189.6" fill="none" stroke="#a0a0a0" stroke-width="0.77" stroke-linecap="round"/><path d="M140.9,196.2Q137.9,191.2 132.0,192.9Q136.1,195.2 140.9,196.2Z" fill="#a0a0a0" opacity="1.0"/><path d="M157.1,202.0Q154.0,199.1 152.7,197.4Q151.4,195.7 150.2,193.8Q149.1,192.0 147.8,190.3Q146.5,188.6 144.7,187.4Q142.9,186.2 140.6,185.4L138.4,184.6" fill="none" stroke="#c8c850" stroke-width="0.79" stroke-linecap="round"/><path d="M151.4,195.7Q147.5,195.3 145.6,194.7Q143.8,194.1 142.1,192.7L140.5,191.3" fill="none" stroke="#c8c850" stroke-width="0.59" stroke-linecap="round"/><path d="M143.8,194.1Q140.4,191.2 135.9,192.9Q139.7,194.0 143.8,194.1Z" fill="#c4c4c4" opacity="1.0"/><path d="M146.5,188.6Q144.8,183.9 139.3,183.8Q142.5,186.6 146.5,188.6Z" fill="#a8a838" opacity="1.0"/><path d="M157.9,201.3Q155.2,198.4 154.0,196.8Q152.8,195.2 151.9,193.4Q151.0,191.5 150.4,189.5Q149.8,187.5 149.0,185.7Q148.1,183.8 146.6,182.4L145.1,181.1" fill="none" stroke="#b0b0b0" stroke-width="0.51" stroke-linecap="round"/><path d="M149.8,187.5Q149.6,181.3 145.2,178.6Q147.1,183.4 149.8,187.5Z" fill="#a0a0a0" opacity="1.0"/><path d="M159.6,200.4Q157.7,196.4 157.0,194.3Q156.3,192.3 156.0,190.0Q155.7,187.8 155.5,185.5Q155.3,183.3 154.6,181.2Q154.0,179.1 152.5,177.3L151.1,175.4" fill="none" stroke="#a0a0a0" stroke-width="0.78" stroke-linecap="round"/><path d="M155.3,183.3Q155.0,178.8 149.7,177.3Q152.0,180.6 155.3,183.3Z" fill="#a0a0a0" opacity="1.0"/><path d="M161.0,200.1Q160.3,195.5 160.3,193.2Q160.3,190.9 160.4,188.6Q160.5,186.2 160.1,184.0Q159.8,181.7 158.8,179.5Q157.8,177.4 156.4,175.2L155.1,173.1" fill="none" stroke="#b0b0b0" stroke-width="0.57" stroke-linecap="round"/><path d="M162.9,200.1Q163.4,196.0 163.4,193.9Q163.3,191.9 163.3,189.8Q163.2,187.8 163.7,185.8Q164.2,183.8 165.3,181.9Q166.4,180.0 167.5,178.1L168.7,176.2" fill="none" stroke="#c0c0c0" stroke-width="0.65" stroke-linecap="round"/><path d="M164.2,183.8Q169.1,180.0 166.1,174.8Q164.4,179.2 164.2,183.8Z" fill="#909090" opacity="1.0"/><path d="M164.0,200.3Q165.7,196.2 166.6,194.2Q167.5,192.2 168.0,190.0Q168.6,187.9 168.6,185.6Q168.7,183.3 168.5,181.0Q168.4,178.7 168.8,176.5L169.2,174.3" fill="none" stroke="#a8a838" stroke-width="0.62" stroke-linecap="round"/><path d="M167.5,192.2Q170.0,190.4 171.0,189.2Q172.0,188.0 172.4,186.3L172.8,184.6" fill="none" stroke="#a8a838" stroke-width="0.53" stroke-linecap="round"/><path d="M172.0,188.0Q176.7,188.6 177.3,184.8Q174.2,186.0 172.0,188.0Z" fill="#c4c4c4" opacity="1.0"/><path d="M168.7,183.3Q172.7,180.3 169.8,174.9Q168.5,178.9 168.7,183.3Z" fill="#b4b4b4" opacity="1.0"/><path d="M166.2,201.4Q168.4,198.3 169.3,196.5Q170.2,194.8 171.1,193.1Q172.1,191.4 173.5,190.1Q174.9,188.7 176.8,187.7Q178.6,186.7 180.4,185.7L182.2,184.6" fill="none" stroke="#b0b0b0" stroke-width="0.50" stroke-linecap="round"/><path d="M174.9,188.7Q180.2,186.3 178.0,180.2Q175.7,184.1 174.9,188.7Z" fill="#909090" opacity="1.0"/><path d="M167.3,202.4Q170.9,199.7 172.6,198.1Q174.3,196.6 175.6,194.7Q177.0,192.8 178.4,190.9Q179.7,189.0 181.4,187.5Q183.1,186.0 185.3,185.1L187.5,184.2" fill="none" stroke="#c0c0c0" stroke-width="0.75" stroke-linecap="round"/><path d="M168.1,203.6Q171.9,201.9 173.8,201.2Q175.7,200.4 177.5,199.3Q179.2,198.1 180.7,196.6Q182.1,195.0 183.6,193.4Q185.0,191.7 186.7,190.6L188.4,189.4" fill="none" stroke="#c0c0c0" stroke-width="0.74" stroke-linecap="round"/><path d="M175.7,200.4Q177.8,198.7 179.0,198.0Q180.2,197.4 180.5,195.7L180.8,194.1" fill="none" stroke="#c0c0c0" stroke-width="0.49" stroke-linecap="round"/><path d="M180.2,197.4Q184.4,197.0 185.4,193.3Q182.5,195.0 180.2,197.4Z" fill="#909090" opacity="1.0"/><path d="M182.1,195.0Q188.5,195.1 192.4,190.8Q187.0,192.5 182.1,195.0Z" fill="#b4b4b4" opacity="1.0"/><path d="M168.4,204.2Q172.4,202.9 174.2,201.9Q176.1,201.0 177.8,199.7Q179.5,198.4 181.2,197.1Q182.9,195.9 184.9,195.3Q186.9,194.6 189.2,194.7L191.4,194.7" fill="none" stroke="#c0c0c0" stroke-width="0.53" stroke-linecap="round"/><path d="M182.9,195.9Q188.5,195.4 192.0,190.0Q187.2,192.5 182.9,195.9Z" fill="#b4b4b4" opacity="1.0"/><path d="M168.9,206.1Q173.7,205.4 176.1,204.7Q178.4,204.1 180.8,203.5Q183.1,202.9 185.6,202.9Q188.0,202.8 190.5,203.4Q193.0,203.9 195.5,204.4L198.0,205.0" fill="none" stroke="#c0c0c0" stroke-width="0.74" stroke-linecap="round"/><path d="M183.1,202.9Q186.4,201.8 188.1,201.5Q189.9,201.2 191.1,199.7L192.3,198.1" fill="none" stroke="#c0c0c0" stroke-width="0.50" stroke-linecap="round"/><path d="M189.9,201.2Q194.2,201.4 196.7,197.5Q193.1,198.9 189.9,201.2Z" fill="#b4b4b4" opacity="1.0"/><path d="M188.0,202.8Q193.9,204.8 198.0,198.6Q192.8,199.9 188.0,202.8Z" fill="#b4b4b4" opacity="1.0"/><path d="M173.4,206.6Q180.4,204.7 183.8,203.3Q187.2,202.0 190.5,200.5Q193.9,198.9 197.3,197.8Q200.7,196.6 204.4,196.2Q208.0,195.7 211.8,195.8L215.6,195.8" fill="none" stroke="#dcdcdc" stroke-width="1.81" stroke-linecap="round"/><path d="M200.4,196.7Q203.0,193.0 204.7,191.6Q206.5,190.1 208.6,189.1L210.8,188.0" fill="none" stroke="#dcdcdc" stroke-width="1.26" stroke-linecap="round"/><path d="M173.5,206.7Q182.2,204.8 186.6,203.9Q191.0,202.9 195.5,202.4Q200.0,202.0 204.5,202.0Q209.1,201.9 213.6,201.9Q218.2,201.8 222.6,201.0L227.0,200.2" fill="none" stroke="#dcdcdc" stroke-width="1.74" stroke-linecap="round"/><path d="M190.8,203.2Q198.3,206.2 202.3,207.1Q206.3,208.1 209.8,210.3L213.3,212.5" fill="none" stroke="#dcdcdc" stroke-width="1.22" stroke-linecap="round"/><path d="M173.5,206.9Q180.9,206.9 184.5,206.6Q188.2,206.4 191.8,205.7Q195.4,205.0 199.0,204.0Q202.6,203.1 206.3,202.5Q209.9,202.0 213.6,202.3L217.3,202.7" fill="none" stroke="#dcdcdc" stroke-width="1.65" stroke-linecap="round"/><path d="M202.8,203.1Q206.8,201.2 209.2,201.1Q211.5,200.9 213.5,199.9L215.5,198.9" fill="none" stroke="#dcdcdc" stroke-width="1.16" stroke-linecap="round"/><path d="M173.5,207.1Q181.0,207.8 184.7,208.5Q188.5,209.1 192.2,209.5Q195.9,209.9 199.7,209.7Q203.5,209.5 207.4,208.8Q211.2,208.1 215.0,207.6L218.8,207.1" fill="none" stroke="#dcdcdc" stroke-width="1.68" stroke-linecap="round"/><path d="M203.7,209.4Q208.6,211.7 210.7,213.5Q212.9,215.3 215.6,215.9L218.3,216.5" fill="none" stroke="#dcdcdc" stroke-width="1.18" stroke-linecap="round"/><path d="M173.5,207.2Q181.1,208.2 184.9,209.1Q188.6,210.0 192.3,211.1Q196.0,212.3 199.8,213.3Q203.5,214.3 207.4,214.6Q211.2,214.9 215.2,214.4L219.1,214.0" fill="none" stroke="#dcdcdc" stroke-width="1.21" stroke-linecap="round"/><path d="M203.4,214.3Q209.0,217.9 212.2,219.0Q215.4,220.1 218.1,222.0L220.7,224.0" fill="none" stroke="#dcdcdc" stroke-width="0.84" stroke-linecap="round"/><path d="M173.4,207.5Q181.0,209.4 184.7,210.7Q188.4,212.0 191.9,213.7Q195.5,215.4 199.0,217.0Q202.6,218.7 206.3,219.8Q210.1,220.8 214.1,221.1L218.1,221.3" fill="none" stroke="#e4e4e4" stroke-width="1.91" stroke-linecap="round"/><path d="M202.4,218.6Q208.5,218.4 211.6,218.5Q214.7,218.6 217.7,217.3L220.7,216.0" fill="none" stroke="#e4e4e4" stroke-width="1.33" stroke-linecap="round"/><path d="M173.4,206.6Q180.5,204.8 183.9,203.5Q187.3,202.2 190.6,200.7Q194.0,199.3 197.4,198.2Q200.9,197.1 204.5,196.7Q208.2,196.3 212.0,196.4L215.8,196.5" fill="none" stroke="#a8a8a8" stroke-width="0.58" stroke-linecap="round"/><path d="M200.9,197.1Q203.4,193.4 205.2,191.9Q206.9,190.5 209.0,189.5L211.2,188.4" fill="none" stroke="#a8a8a8" stroke-width="0.36" stroke-linecap="round"/><path d="M173.5,206.7Q182.2,204.7 186.6,203.7Q191.0,202.7 195.4,202.2Q199.9,201.6 204.5,201.6Q209.0,201.5 213.5,201.4Q218.1,201.3 222.5,200.4L226.9,199.6" fill="none" stroke="#b8b8b8" stroke-width="0.67" stroke-linecap="round"/><path d="M191.0,202.7Q198.5,205.7 202.5,206.6Q206.5,207.5 210.0,209.8L213.5,212.0" fill="none" stroke="#b8b8b8" stroke-width="0.48" stroke-linecap="round"/><path d="M206.5,207.5Q208.2,209.2 210.4,209.3Q208.5,208.3 206.5,207.5Z" fill="#b0b0b0" opacity="1.0"/><path d="M209.0,201.5Q212.2,202.2 214.3,199.7Q211.5,200.3 209.0,201.5Z" fill="#b0b0b0" opacity="1.0"/><path d="M173.5,206.9Q180.9,206.7 184.5,206.5Q188.2,206.2 191.8,205.4Q195.4,204.6 199.0,203.6Q202.6,202.6 206.2,202.0Q209.9,201.4 213.6,201.7L217.3,202.0" fill="none" stroke="#a8a8a8" stroke-width="0.54" stroke-linecap="round"/><path d="M202.6,202.6Q206.6,200.7 209.0,200.6Q211.3,200.4 213.3,199.4L215.3,198.5" fill="none" stroke="#a8a8a8" stroke-width="0.38" stroke-linecap="round"/><path d="M202.6,202.6Q205.5,203.2 208.1,201.5Q205.3,201.8 202.6,202.6Z" fill="#909090" opacity="1.0"/><path d="M173.5,207.1Q181.0,207.9 184.7,208.6Q188.4,209.3 192.2,209.7Q195.9,210.2 199.7,210.0Q203.5,209.9 207.3,209.3Q211.2,208.6 215.0,208.2L218.8,207.8" fill="none" stroke="#b8b8b8" stroke-width="0.55" stroke-linecap="round"/><path d="M203.5,209.9Q208.4,212.2 210.5,214.0Q212.6,215.8 215.3,216.4L218.1,217.0" fill="none" stroke="#b8b8b8" stroke-width="0.39" stroke-linecap="round"/><path d="M203.5,209.9Q205.8,210.5 208.2,208.1Q205.8,208.7 203.5,209.9Z" fill="#c0c0c0" opacity="1.0"/><path d="M173.5,207.2Q181.1,208.1 184.9,209.0Q188.7,209.8 192.4,211.0Q196.1,212.1 199.8,213.1Q203.6,214.0 207.4,214.2Q211.3,214.5 215.2,214.0L219.2,213.5" fill="none" stroke="#a8a8a8" stroke-width="0.48" stroke-linecap="round"/><path d="M203.6,214.0Q209.1,217.6 212.4,218.7Q215.6,219.7 218.3,221.7L220.9,223.7" fill="none" stroke="#a8a8a8" stroke-width="0.53" stroke-linecap="round"/><path d="M173.4,207.5Q181.0,209.5 184.6,210.9Q188.3,212.2 191.8,214.0Q195.3,215.7 198.9,217.4Q202.4,219.2 206.2,220.3Q209.9,221.4 213.9,221.7L217.9,222.0" fill="none" stroke="#a8a8a8" stroke-width="0.55" stroke-linecap="round"/><path d="M202.4,219.2Q208.6,219.0 211.7,219.1Q214.8,219.2 217.8,217.9L220.8,216.6" fill="none" stroke="#a8a8a8" stroke-width="0.39" stroke-linecap="round"/><path d="M162.0,206.0Q164.0,214.0 162.0,218.0Q160.0,222.0 161.0,225.0L162.0,228.0" fill="none" stroke="#c8c850" stroke-width="0.9" stroke-linecap="round"/><path d="M163.0,200.0Q166.0,190.0 164.0,185.0L162.0,180.0" fill="none" stroke="#c8c850" stroke-width="0.8" stroke-linecap="round"/><path d="M160.0,198.0Q158.0,186.0 160.0,179.0Q162.0,172.0 161.0,166.0L160.0,160.0" fill="none" stroke="#c0c0c0" stroke-width="0.6" stroke-linecap="round"/><path d="M158.0,222.0Q155.3,227.0 158.6,231.0Q158.9,226.4 158.0,222.0Z" fill="#a8a8a8" opacity="1.0"/><path d="M183.0,196.0Q189.8,197.8 192.7,192.7Q187.4,193.7 183.0,196.0Z" fill="#a0a0a0" opacity="1.0"/><path d="M209.2,121.1Q204.9,119.4 202.6,118.9Q200.3,118.4 197.9,118.3Q195.5,118.1 193.1,117.7Q190.8,117.3 188.7,116.2Q186.7,115.1 184.8,113.2L183.0,111.4" fill="none" stroke="#e0e0e0" stroke-width="1.08" stroke-linecap="round"/><path d="M209.3,120.8Q204.3,118.5 202.0,117.1Q199.6,115.7 197.5,113.9Q195.4,112.0 193.4,110.0Q191.5,108.0 189.3,106.3Q187.0,104.7 184.3,103.9L181.6,103.0" fill="none" stroke="#d8d8d8" stroke-width="0.85" stroke-linecap="round"/><path d="M209.5,120.6Q205.7,117.0 203.9,115.1Q202.0,113.3 199.9,111.7Q197.8,110.2 195.3,109.1Q192.8,108.0 190.2,107.0Q187.6,106.0 185.4,104.6L183.3,103.1" fill="none" stroke="#e8e8e8" stroke-width="1.65" stroke-linecap="round"/><path d="M209.7,120.4Q208.2,117.7 207.4,116.4Q206.6,115.0 205.5,114.0Q204.3,113.0 202.7,112.3Q201.2,111.6 199.7,110.8Q198.3,110.1 197.4,108.8L196.6,107.5" fill="none" stroke="#e0e0e0" stroke-width="1.15" stroke-linecap="round"/><path d="M201.3,111.8Q200.7,109.7 201.3,108.5Q201.9,107.4 201.8,106.3L201.6,105.3" fill="none" stroke="#e0e0e0" stroke-width="0.80" stroke-linecap="round"/><path d="M209.9,120.3Q207.0,116.4 205.9,114.2Q204.8,112.1 204.1,109.8Q203.4,107.4 202.7,105.1Q202.0,102.7 200.8,100.7Q199.5,98.6 197.4,97.0L195.4,95.4" fill="none" stroke="#d8d8d8" stroke-width="2.00" stroke-linecap="round"/><path d="M201.9,102.4Q202.5,98.9 201.9,97.1Q201.3,95.3 201.6,93.6L202.0,91.8" fill="none" stroke="#d8d8d8" stroke-width="1.40" stroke-linecap="round"/><path d="M210.3,120.1Q209.2,116.5 208.5,114.7Q207.8,112.9 207.4,111.0Q207.0,109.1 207.3,107.1Q207.5,105.0 208.1,102.9Q208.7,100.8 208.8,98.9L208.9,96.9" fill="none" stroke="#e8e8e8" stroke-width="2.01" stroke-linecap="round"/><path d="M210.4,120.1Q209.3,116.1 208.8,114.1Q208.4,112.1 208.5,110.0Q208.6,107.9 209.1,105.7Q209.6,103.5 209.9,101.4Q210.1,99.2 209.5,97.2L208.9,95.3" fill="none" stroke="#d8d8d8" stroke-width="1.77" stroke-linecap="round"/><path d="M210.7,120.1Q211.0,114.8 211.6,112.2Q212.2,109.5 212.8,106.9Q213.4,104.3 213.5,101.6Q213.7,99.0 213.0,96.2Q212.4,93.5 211.4,90.8L210.4,88.1" fill="none" stroke="#e8e8e8" stroke-width="0.83" stroke-linecap="round"/><path d="M213.6,99.1Q215.3,96.0 216.5,94.7Q217.8,93.5 219.6,92.7L221.5,92.0" fill="none" stroke="#e8e8e8" stroke-width="0.58" stroke-linecap="round"/><path d="M211.0,120.2Q211.4,116.6 211.7,114.9Q212.0,113.2 212.9,111.6Q213.7,110.1 214.9,108.6Q216.1,107.1 217.0,105.5Q217.9,104.0 217.9,102.2L217.9,100.3" fill="none" stroke="#e0e0e0" stroke-width="0.98" stroke-linecap="round"/><path d="M211.3,120.3Q213.2,115.8 214.5,113.7Q215.8,111.6 217.5,109.7Q219.1,107.8 220.6,105.9Q222.1,103.9 222.9,101.6Q223.6,99.2 223.7,96.6L223.8,93.9" fill="none" stroke="#e8e8e8" stroke-width="0.81" stroke-linecap="round"/><path d="M222.1,104.0Q224.3,101.1 226.0,100.3Q227.8,99.5 228.8,98.0L229.9,96.5" fill="none" stroke="#e8e8e8" stroke-width="0.57" stroke-linecap="round"/><path d="M211.5,120.4Q215.0,116.3 216.9,114.3Q218.8,112.4 220.4,110.2Q222.0,108.0 223.1,105.5Q224.2,102.9 225.1,100.2Q225.9,97.5 227.1,95.0L228.3,92.6" fill="none" stroke="#d8d8d8" stroke-width="1.06" stroke-linecap="round"/><path d="M224.1,103.1Q228.8,100.6 231.5,100.2Q234.2,99.8 236.5,98.6L238.8,97.3" fill="none" stroke="#d8d8d8" stroke-width="0.74" stroke-linecap="round"/><path d="M211.7,120.5Q215.0,116.3 216.9,114.4Q218.8,112.4 221.0,110.9Q223.3,109.3 225.6,107.8Q227.9,106.3 229.8,104.5Q231.8,102.6 233.0,100.0L234.2,97.5" fill="none" stroke="#e8e8e8" stroke-width="1.57" stroke-linecap="round"/><path d="M211.9,120.9Q215.8,118.5 217.7,117.3Q219.6,116.1 221.8,115.3Q223.9,114.5 226.3,114.2Q228.7,113.9 231.1,113.6Q233.5,113.3 235.5,112.4L237.6,111.4" fill="none" stroke="#d8d8d8" stroke-width="1.58" stroke-linecap="round"/><path d="M219.9,116.2Q223.1,113.7 224.2,111.9Q225.3,110.1 226.1,108.1L226.9,106.0" fill="none" stroke="#d8d8d8" stroke-width="1.11" stroke-linecap="round"/><path d="M212.0,121.0Q216.5,118.6 218.8,117.5Q221.1,116.4 223.6,115.9Q226.1,115.3 228.8,115.0Q231.4,114.8 234.0,114.3Q236.5,113.7 238.7,112.3L240.8,111.0" fill="none" stroke="#e0e0e0" stroke-width="1.07" stroke-linecap="round"/><path d="M209.2,121.1Q204.9,119.3 202.6,118.8Q200.3,118.3 197.9,118.1Q195.5,117.9 193.2,117.5Q190.9,117.0 188.8,115.9Q186.8,114.7 185.0,112.9L183.1,111.0" fill="none" stroke="#a0a0a0" stroke-width="0.60" stroke-linecap="round"/><path d="M209.3,120.8Q204.4,118.4 202.0,117.0Q199.7,115.6 197.6,113.8Q195.5,111.9 193.5,109.8Q191.6,107.8 189.4,106.1Q187.2,104.5 184.5,103.6L181.8,102.8" fill="none" stroke="#a0a0a0" stroke-width="0.55" stroke-linecap="round"/><path d="M209.5,120.6Q205.8,116.9 204.0,115.0Q202.2,113.1 200.1,111.5Q198.0,109.9 195.6,108.8Q193.1,107.7 190.5,106.6Q188.0,105.6 185.8,104.1L183.7,102.6" fill="none" stroke="#a0a0a0" stroke-width="0.51" stroke-linecap="round"/><path d="M209.7,120.4Q208.1,117.8 207.3,116.4Q206.5,115.1 205.3,114.1Q204.1,113.2 202.5,112.5Q201.0,111.8 199.5,111.1Q198.0,110.3 197.1,109.1L196.2,107.8" fill="none" stroke="#b0b0b0" stroke-width="0.48" stroke-linecap="round"/><path d="M201.0,111.8Q200.3,109.7 201.0,108.6Q201.6,107.4 201.4,106.4L201.3,105.3" fill="none" stroke="#b0b0b0" stroke-width="0.39" stroke-linecap="round"/><path d="M209.9,120.3Q207.2,116.3 206.1,114.1Q205.1,112.0 204.4,109.6Q203.8,107.2 203.1,104.9Q202.5,102.5 201.3,100.4Q200.1,98.3 198.0,96.7L196.0,95.1" fill="none" stroke="#b8b8b8" stroke-width="0.66" stroke-linecap="round"/><path d="M202.5,102.5Q203.1,99.0 202.5,97.2Q201.9,95.4 202.3,93.6L202.6,91.9" fill="none" stroke="#b8b8b8" stroke-width="0.37" stroke-linecap="round"/><path d="M202.5,102.5Q201.6,99.1 198.6,97.2Q200.3,100.0 202.5,102.5Z" fill="#a0a0a0" opacity="1.0"/><path d="M210.3,120.1Q209.1,116.5 208.3,114.7Q207.5,112.9 207.1,111.0Q206.6,109.2 206.8,107.2Q207.0,105.2 207.6,103.1Q208.1,101.0 208.1,99.0L208.2,97.0" fill="none" stroke="#b0b0b0" stroke-width="0.45" stroke-linecap="round"/><path d="M207.0,105.2Q207.8,102.0 205.2,99.4Q205.8,102.3 207.0,105.2Z" fill="#909090" opacity="1.0"/><path d="M210.4,120.1Q209.1,116.1 208.7,114.1Q208.2,112.1 208.2,110.0Q208.3,107.9 208.7,105.8Q209.1,103.6 209.3,101.5Q209.6,99.3 208.9,97.4L208.2,95.4" fill="none" stroke="#a0a0a0" stroke-width="0.62" stroke-linecap="round"/><path d="M209.1,103.6Q210.1,100.3 208.1,98.1Q208.3,100.9 209.1,103.6Z" fill="#c0c0c0" opacity="1.0"/><path d="M210.7,120.1Q211.0,114.8 211.5,112.2Q212.1,109.5 212.7,106.9Q213.3,104.3 213.4,101.6Q213.4,98.9 212.8,96.2Q212.1,93.5 211.1,90.8L210.1,88.1" fill="none" stroke="#b0b0b0" stroke-width="0.54" stroke-linecap="round"/><path d="M213.4,98.9Q215.1,95.8 216.3,94.6Q217.5,93.3 219.4,92.6L221.3,91.8" fill="none" stroke="#b0b0b0" stroke-width="0.45" stroke-linecap="round"/><path d="M213.4,98.9Q215.9,95.2 215.1,91.4Q213.9,95.1 213.4,98.9Z" fill="#b0b0b0" opacity="1.0"/><path d="M211.0,120.2Q211.4,116.7 211.8,114.9Q212.2,113.2 213.0,111.7Q213.9,110.1 215.1,108.6Q216.4,107.2 217.3,105.6Q218.2,104.1 218.2,102.2L218.2,100.4" fill="none" stroke="#b0b0b0" stroke-width="0.58" stroke-linecap="round"/><path d="M216.4,107.2Q217.1,104.3 215.8,101.2Q215.9,104.2 216.4,107.2Z" fill="#b0b0b0" opacity="1.0"/><path d="M211.3,120.3Q213.1,115.7 214.4,113.7Q215.7,111.6 217.4,109.7Q219.0,107.8 220.4,105.8Q221.9,103.8 222.6,101.4Q223.4,99.1 223.5,96.4L223.5,93.7" fill="none" stroke="#a0a0a0" stroke-width="0.58" stroke-linecap="round"/><path d="M221.9,103.8Q224.1,101.0 225.9,100.2Q227.6,99.4 228.7,97.9L229.7,96.4" fill="none" stroke="#a0a0a0" stroke-width="0.51" stroke-linecap="round"/><path d="M211.5,120.4Q215.0,116.2 216.8,114.3Q218.7,112.3 220.3,110.1Q221.9,107.9 222.9,105.3Q224.0,102.8 224.8,100.0Q225.6,97.3 226.8,94.8L228.0,92.3" fill="none" stroke="#b0b0b0" stroke-width="0.52" stroke-linecap="round"/><path d="M224.0,102.8Q228.6,100.3 231.3,99.9Q234.0,99.5 236.3,98.3L238.6,97.0" fill="none" stroke="#b0b0b0" stroke-width="0.50" stroke-linecap="round"/><path d="M234.0,99.5Q237.1,100.0 239.1,98.3Q236.4,98.7 234.0,99.5Z" fill="#b0b0b0" opacity="1.0"/><path d="M224.0,102.8Q226.7,101.6 226.5,98.7Q225.0,100.5 224.0,102.8Z" fill="#c0c0c0" opacity="1.0"/><path d="M211.7,120.5Q215.1,116.3 217.0,114.5Q218.9,112.6 221.2,111.1Q223.5,109.5 225.8,108.1Q228.2,106.6 230.2,104.8Q232.1,102.9 233.4,100.4L234.7,97.9" fill="none" stroke="#a0a0a0" stroke-width="0.59" stroke-linecap="round"/><path d="M211.9,120.9Q215.7,118.4 217.6,117.2Q219.5,115.9 221.7,115.1Q223.8,114.2 226.1,113.9Q228.5,113.6 230.9,113.2Q233.3,112.9 235.3,111.9L237.3,110.9" fill="none" stroke="#b0b0b0" stroke-width="0.68" stroke-linecap="round"/><path d="M219.5,115.9Q222.8,113.4 223.8,111.6Q224.9,109.8 225.7,107.7L226.5,105.7" fill="none" stroke="#b0b0b0" stroke-width="0.53" stroke-linecap="round"/><path d="M228.5,113.6Q232.1,113.7 234.5,110.2Q231.4,111.5 228.5,113.6Z" fill="#c0c0c0" opacity="1.0"/><path d="M212.0,121.0Q216.4,118.5 218.7,117.4Q221.0,116.3 223.5,115.7Q226.0,115.1 228.7,114.8Q231.3,114.5 233.8,114.0Q236.4,113.4 238.5,112.0L240.7,110.6" fill="none" stroke="#b8b8b8" stroke-width="0.54" stroke-linecap="round"/><path d="M231.3,114.5Q235.3,114.3 237.7,111.0Q234.3,112.4 231.3,114.5Z" fill="#b0b0b0" opacity="1.0"/><path d="M212.1,121.3Q216.8,119.6 219.1,118.7Q221.5,117.9 223.9,117.5Q226.3,117.1 228.9,117.1Q231.5,117.2 234.0,117.3Q236.6,117.5 239.0,116.9L241.4,116.4" fill="none" stroke="#e0e0e0" stroke-width="1.60" stroke-linecap="round"/><path d="M212.1,121.5Q215.9,121.2 217.8,121.4Q219.7,121.5 221.7,122.1Q223.6,122.7 225.5,123.1Q227.4,123.6 229.4,123.4Q231.3,123.2 233.1,122.2L235.0,121.3" fill="none" stroke="#eaeaea" stroke-width="2.40" stroke-linecap="round"/><path d="M227.1,123.7Q230.0,124.4 231.2,125.4Q232.4,126.4 233.4,127.7L234.4,129.0" fill="none" stroke="#eaeaea" stroke-width="1.68" stroke-linecap="round"/><path d="M212.1,122.0Q215.8,123.6 217.6,124.3Q219.5,125.1 221.5,125.5Q223.5,125.8 225.6,125.6Q227.7,125.5 229.8,125.4Q231.9,125.3 233.8,125.8L235.7,126.4" fill="none" stroke="#e4e4e4" stroke-width="1.67" stroke-linecap="round"/><path d="M211.9,122.3Q215.7,124.9 217.4,126.3Q219.2,127.8 221.1,129.0Q223.0,130.3 225.1,131.0Q227.3,131.8 229.7,132.1Q232.2,132.4 234.4,133.0L236.7,133.5" fill="none" stroke="#e0e0e0" stroke-width="1.13" stroke-linecap="round"/><path d="M219.0,127.9Q221.3,131.4 223.0,132.9Q224.6,134.4 225.1,136.6L225.6,138.8" fill="none" stroke="#e0e0e0" stroke-width="0.79" stroke-linecap="round"/><path d="M211.8,122.5Q216.5,125.9 218.7,127.9Q220.8,129.9 222.9,131.9Q225.0,134.0 227.4,135.6Q229.8,137.3 232.7,138.4Q235.5,139.5 238.5,140.3L241.6,141.2" fill="none" stroke="#e0e0e0" stroke-width="2.36" stroke-linecap="round"/><path d="M211.5,122.8Q215.0,126.4 216.5,128.4Q217.9,130.4 219.1,132.6Q220.2,134.9 221.3,137.1Q222.5,139.4 224.1,141.3Q225.7,143.1 228.0,144.5L230.3,145.9" fill="none" stroke="#e0e0e0" stroke-width="2.56" stroke-linecap="round"/><path d="M225.3,142.9Q229.5,143.9 231.5,144.6Q233.5,145.3 235.1,147.1L236.7,148.8" fill="none" stroke="#e0e0e0" stroke-width="1.79" stroke-linecap="round"/><path d="M211.3,122.9Q213.7,127.5 215.2,129.6Q216.6,131.7 218.0,133.9Q219.3,136.1 220.2,138.6Q221.0,141.0 221.3,143.7Q221.6,146.5 222.0,149.2L222.3,151.9" fill="none" stroke="#e4e4e4" stroke-width="1.19" stroke-linecap="round"/><path d="M210.9,123.1Q212.4,127.9 212.9,130.5Q213.3,133.0 213.3,135.6Q213.4,138.2 213.3,140.8Q213.3,143.5 213.9,145.9Q214.5,148.4 215.9,150.7L217.4,153.0" fill="none" stroke="#e4e4e4" stroke-width="1.12" stroke-linecap="round"/><path d="M213.2,133.1Q215.7,138.1 217.7,140.1Q219.6,142.1 221.7,144.0L223.8,145.9" fill="none" stroke="#e4e4e4" stroke-width="0.78" stroke-linecap="round"/><path d="M210.8,123.1Q212.0,128.2 212.4,130.7Q212.8,133.3 212.8,135.9Q212.7,138.5 212.3,141.1Q211.9,143.8 211.8,146.4Q211.7,149.0 212.5,151.5L213.3,154.0" fill="none" stroke="#eaeaea" stroke-width="1.47" stroke-linecap="round"/><path d="M213.0,133.0Q215.5,136.7 217.1,138.3Q218.8,139.9 219.2,142.3L219.6,144.7" fill="none" stroke="#eaeaea" stroke-width="1.03" stroke-linecap="round"/><path d="M210.5,123.1Q210.8,127.6 211.1,129.9Q211.4,132.2 211.4,134.4Q211.4,136.7 210.9,138.9Q210.3,141.1 209.3,143.3Q208.4,145.6 207.8,147.8L207.2,150.0" fill="none" stroke="#eaeaea" stroke-width="2.09" stroke-linecap="round"/><path d="M210.2,123.0Q209.4,127.2 209.1,129.3Q208.8,131.4 208.1,133.5Q207.5,135.5 206.3,137.3Q205.0,139.2 203.6,141.0Q202.2,142.8 201.2,144.7L200.3,146.7" fill="none" stroke="#e0e0e0" stroke-width="1.25" stroke-linecap="round"/><path d="M210.0,123.0Q208.0,127.6 207.2,130.0Q206.3,132.4 205.2,134.6Q204.0,136.8 202.3,138.8Q200.6,140.8 198.7,142.6Q196.8,144.5 195.3,146.6L193.8,148.7" fill="none" stroke="#eaeaea" stroke-width="1.62" stroke-linecap="round"/><path d="M209.6,122.7Q205.7,127.0 203.9,129.3Q202.1,131.5 200.0,133.5Q198.0,135.6 195.5,137.2Q193.0,138.8 190.3,140.2Q187.6,141.6 185.2,143.3L182.9,145.1" fill="none" stroke="#e0e0e0" stroke-width="2.24" stroke-linecap="round"/><path d="M201.6,131.6Q200.3,135.1 200.3,137.0Q200.4,138.9 200.8,140.9L201.2,142.9" fill="none" stroke="#e0e0e0" stroke-width="1.57" stroke-linecap="round"/><path d="M209.5,122.6Q205.6,126.0 203.9,128.0Q202.2,129.9 200.3,131.7Q198.4,133.4 196.1,134.7Q193.8,136.0 191.2,137.0Q188.6,137.9 186.2,139.0L183.7,140.1" fill="none" stroke="#eaeaea" stroke-width="1.94" stroke-linecap="round"/><path d="M198.1,133.5Q196.4,138.5 196.3,141.1Q196.1,143.8 194.8,146.1L193.5,148.5" fill="none" stroke="#eaeaea" stroke-width="1.35" stroke-linecap="round"/><path d="M209.3,122.3Q205.7,124.4 204.1,125.7Q202.4,127.0 200.7,128.3Q199.1,129.5 197.1,130.2Q195.2,130.9 192.9,131.1Q190.7,131.3 188.5,131.5L186.3,131.7" fill="none" stroke="#e0e0e0" stroke-width="1.80" stroke-linecap="round"/><path d="M209.1,121.9Q205.2,122.2 203.2,122.2Q201.1,122.2 199.2,122.6Q197.3,123.0 195.5,123.9Q193.6,124.9 191.9,126.1Q190.1,127.2 188.2,128.0L186.4,128.7" fill="none" stroke="#e4e4e4" stroke-width="2.13" stroke-linecap="round"/><path d="M193.9,124.7Q191.3,124.8 190.1,124.3Q188.9,123.8 187.8,122.6L186.8,121.5" fill="none" stroke="#e4e4e4" stroke-width="1.49" stroke-linecap="round"/><path d="M209.1,121.6Q205.2,121.1 203.3,121.2Q201.3,121.3 199.4,121.8Q197.4,122.3 195.5,122.7Q193.5,123.1 191.6,122.9Q189.7,122.7 187.7,121.6L185.8,120.6" fill="none" stroke="#e0e0e0" stroke-width="1.43" stroke-linecap="round"/><path d="M209.1,121.3Q204.3,120.7 202.0,120.0Q199.6,119.4 197.3,118.6Q195.0,117.7 192.6,117.4Q190.2,117.0 187.7,117.4Q185.2,117.7 182.6,118.5L180.0,119.2" fill="none" stroke="#e0e0e0" stroke-width="1.95" stroke-linecap="round"/><path d="M190.1,117.1Q185.5,115.4 183.6,113.7Q181.7,112.1 179.4,111.3L177.1,110.4" fill="none" stroke="#e0e0e0" stroke-width="1.37" stroke-linecap="round"/><path d="M212.1,121.3Q216.8,119.7 219.1,118.9Q221.5,118.1 224.0,117.7Q226.4,117.4 229.0,117.5Q231.6,117.6 234.1,117.8Q236.7,118.0 239.2,117.5L241.6,117.0" fill="none" stroke="#bcbcbc" stroke-width="0.69" stroke-linecap="round"/><path d="M231.6,117.6Q234.9,119.1 236.3,115.6Q233.7,116.1 231.6,117.6Z" fill="#888888" opacity="1.0"/><path d="M212.1,121.5Q215.9,121.0 217.8,121.1Q219.7,121.2 221.7,121.7Q223.6,122.2 225.5,122.6Q227.4,123.0 229.3,122.7Q231.2,122.5 233.1,121.4L235.0,120.3" fill="none" stroke="#a4a4a4" stroke-width="0.52" stroke-linecap="round"/><path d="M227.4,123.0Q230.4,123.7 231.5,124.7Q232.7,125.7 233.7,127.0L234.7,128.3" fill="none" stroke="#a4a4a4" stroke-width="0.40" stroke-linecap="round"/><path d="M212.1,122.0Q215.8,123.5 217.7,124.2Q219.6,124.9 221.5,125.2Q223.5,125.5 225.7,125.3Q227.8,125.1 229.9,124.9Q232.0,124.7 233.9,125.3L235.9,125.8" fill="none" stroke="#b0b0b0" stroke-width="0.47" stroke-linecap="round"/><path d="M227.8,125.1Q231.7,128.6 236.7,127.6Q232.4,125.9 227.8,125.1Z" fill="#888888" opacity="1.0"/><path d="M211.9,122.3Q215.7,124.8 217.5,126.2Q219.3,127.7 221.2,128.9Q223.1,130.1 225.3,130.8Q227.5,131.5 229.9,131.8Q232.3,132.1 234.6,132.6L236.9,133.2" fill="none" stroke="#bcbcbc" stroke-width="0.53" stroke-linecap="round"/><path d="M219.3,127.7Q221.6,131.2 223.3,132.7Q224.9,134.2 225.4,136.4L225.9,138.6" fill="none" stroke="#bcbcbc" stroke-width="0.53" stroke-linecap="round"/><path d="M227.5,131.5Q229.4,134.9 234.3,134.2Q231.2,132.5 227.5,131.5Z" fill="#a8a8a8" opacity="1.0"/><path d="M211.8,122.5Q216.4,126.0 218.5,128.1Q220.6,130.1 222.7,132.2Q224.8,134.3 227.1,136.1Q229.5,137.8 232.3,138.9Q235.1,140.1 238.0,141.0L241.0,141.9" fill="none" stroke="#b0b0b0" stroke-width="0.48" stroke-linecap="round"/><path d="M229.5,137.8Q231.2,141.5 236.0,142.1Q233.0,139.6 229.5,137.8Z" fill="#a8a8a8" opacity="1.0"/><path d="M211.5,122.8Q214.9,126.5 216.3,128.5Q217.7,130.6 218.7,132.9Q219.8,135.2 220.9,137.5Q221.9,139.8 223.5,141.7Q225.0,143.6 227.3,145.1L229.5,146.5" fill="none" stroke="#bcbcbc" stroke-width="0.67" stroke-linecap="round"/><path d="M225.0,143.6Q229.2,144.7 231.2,145.3Q233.2,146.0 234.8,147.8L236.4,149.6" fill="none" stroke="#bcbcbc" stroke-width="0.50" stroke-linecap="round"/><path d="M233.2,146.0Q235.8,149.5 240.1,148.6Q236.8,146.9 233.2,146.0Z" fill="#888888" opacity="1.0"/><path d="M221.9,139.8Q221.0,144.2 224.8,145.2Q223.9,142.1 221.9,139.8Z" fill="#989898" opacity="1.0"/><path d="M211.3,122.9Q213.8,127.4 215.3,129.5Q216.8,131.7 218.2,133.8Q219.5,136.0 220.4,138.4Q221.3,140.9 221.6,143.6Q222.0,146.3 222.4,149.0L222.7,151.7" fill="none" stroke="#b0b0b0" stroke-width="0.60" stroke-linecap="round"/><path d="M221.3,140.9Q221.3,145.4 225.8,148.4Q224.0,144.5 221.3,140.9Z" fill="#b8b8b8" opacity="1.0"/><path d="M210.9,123.1Q212.5,127.9 213.0,130.4Q213.5,133.0 213.5,135.6Q213.6,138.2 213.6,140.8Q213.6,143.4 214.2,145.9Q214.9,148.3 216.3,150.6L217.8,152.9" fill="none" stroke="#bcbcbc" stroke-width="0.51" stroke-linecap="round"/><path d="M213.5,133.0Q216.0,137.9 217.9,139.9Q219.9,141.9 222.0,143.8L224.1,145.7" fill="none" stroke="#bcbcbc" stroke-width="0.49" stroke-linecap="round"/><path d="M219.9,141.9Q220.6,145.9 223.5,148.4Q221.9,145.0 219.9,141.9Z" fill="#888888" opacity="1.0"/><path d="M213.6,143.4Q212.9,147.2 216.5,150.2Q215.5,146.7 213.6,143.4Z" fill="#a8a8a8" opacity="1.0"/><path d="M210.8,123.1Q211.9,128.2 212.2,130.7Q212.6,133.3 212.5,135.9Q212.4,138.5 212.0,141.2Q211.6,143.8 211.4,146.4Q211.3,149.1 212.0,151.6L212.7,154.1" fill="none" stroke="#a4a4a4" stroke-width="0.69" stroke-linecap="round"/><path d="M212.6,133.3Q215.1,137.0 216.7,138.6Q218.4,140.2 218.8,142.5L219.2,144.9" fill="none" stroke="#a4a4a4" stroke-width="0.51" stroke-linecap="round"/><path d="M218.4,140.2Q218.2,143.9 221.4,145.5Q220.2,142.6 218.4,140.2Z" fill="#888888" opacity="1.0"/><path d="M211.6,143.8Q210.4,148.3 214.2,152.3Q213.4,148.0 211.6,143.8Z" fill="#a8a8a8" opacity="1.0"/><path d="M210.5,123.1Q210.6,127.6 210.9,129.9Q211.1,132.1 211.1,134.4Q211.0,136.7 210.4,138.9Q209.7,141.1 208.7,143.3Q207.7,145.5 207.0,147.8L206.4,150.0" fill="none" stroke="#a4a4a4" stroke-width="0.69" stroke-linecap="round"/><path d="M209.7,141.1Q207.4,143.6 209.8,146.4Q210.2,143.8 209.7,141.1Z" fill="#b8b8b8" opacity="1.0"/><path d="M210.2,123.0Q209.5,127.2 209.2,129.4Q208.9,131.5 208.3,133.5Q207.7,135.5 206.5,137.4Q205.4,139.3 204.0,141.1Q202.6,142.9 201.7,144.9L200.8,146.8" fill="none" stroke="#b0b0b0" stroke-width="0.48" stroke-linecap="round"/><path d="M205.4,139.3Q202.3,142.3 204.1,146.8Q205.2,143.2 205.4,139.3Z" fill="#a8a8a8" opacity="1.0"/><path d="M210.0,123.0Q208.1,127.7 207.3,130.1Q206.5,132.5 205.4,134.7Q204.3,136.9 202.6,138.9Q201.0,140.9 199.1,142.8Q197.2,144.7 195.8,146.8L194.4,148.9" fill="none" stroke="#b0b0b0" stroke-width="0.62" stroke-linecap="round"/><path d="M201.0,140.9Q197.8,142.5 199.6,146.7Q200.8,144.1 201.0,140.9Z" fill="#a8a8a8" opacity="1.0"/><path d="M209.6,122.7Q205.8,127.1 204.1,129.4Q202.3,131.7 200.3,133.8Q198.3,135.9 195.9,137.5Q193.4,139.2 190.8,140.7Q188.1,142.1 185.8,143.9L183.5,145.7" fill="none" stroke="#a4a4a4" stroke-width="0.63" stroke-linecap="round"/><path d="M202.3,131.7Q201.0,135.2 201.0,137.2Q201.1,139.1 201.5,141.0L201.9,143.0" fill="none" stroke="#a4a4a4" stroke-width="0.54" stroke-linecap="round"/><path d="M201.1,139.1Q199.2,141.9 200.6,145.4Q201.2,142.3 201.1,139.1Z" fill="#b8b8b8" opacity="1.0"/><path d="M193.4,139.2Q188.7,141.0 188.7,146.1Q191.5,143.0 193.4,139.2Z" fill="#989898" opacity="1.0"/><path d="M209.5,122.6Q205.7,126.1 204.0,128.1Q202.3,130.1 200.5,131.9Q198.6,133.7 196.4,135.1Q194.2,136.4 191.6,137.4Q189.0,138.4 186.6,139.5L184.2,140.6" fill="none" stroke="#b0b0b0" stroke-width="0.53" stroke-linecap="round"/><path d="M198.6,133.7Q197.0,138.6 196.9,141.3Q196.7,144.0 195.4,146.3L194.1,148.6" fill="none" stroke="#b0b0b0" stroke-width="0.38" stroke-linecap="round"/><path d="M196.7,144.0Q195.3,146.3 196.6,149.5Q196.9,146.8 196.7,144.0Z" fill="#b8b8b8" opacity="1.0"/><path d="M194.2,136.4Q190.3,137.3 190.0,140.9Q192.4,139.0 194.2,136.4Z" fill="#b8b8b8" opacity="1.0"/><path d="M209.3,122.3Q205.6,124.3 204.0,125.6Q202.3,126.8 200.6,128.0Q198.9,129.2 196.9,129.9Q195.0,130.5 192.7,130.7Q190.5,130.8 188.2,130.9L185.9,131.1" fill="none" stroke="#a4a4a4" stroke-width="0.47" stroke-linecap="round"/><path d="M195.0,130.5Q190.1,130.9 187.1,134.1Q191.2,132.6 195.0,130.5Z" fill="#888888" opacity="1.0"/><path d="M209.1,121.9Q205.2,122.3 203.2,122.4Q201.2,122.5 199.3,122.9Q197.4,123.4 195.5,124.4Q193.7,125.4 192.0,126.7Q190.2,127.9 188.4,128.7L186.5,129.5" fill="none" stroke="#b0b0b0" stroke-width="0.66" stroke-linecap="round"/><path d="M193.7,125.4Q191.1,125.5 190.0,125.0Q188.8,124.4 187.7,123.3L186.6,122.2" fill="none" stroke="#b0b0b0" stroke-width="0.37" stroke-linecap="round"/><path d="M193.7,125.4Q188.8,122.3 184.6,125.1Q189.2,125.8 193.7,125.4Z" fill="#b8b8b8" opacity="1.0"/><path d="M209.1,121.6Q205.2,121.2 203.3,121.3Q201.3,121.5 199.4,122.0Q197.4,122.5 195.5,123.0Q193.5,123.5 191.6,123.3Q189.7,123.1 187.7,122.1L185.8,121.1" fill="none" stroke="#bcbcbc" stroke-width="0.60" stroke-linecap="round"/><path d="M193.5,123.5Q188.9,122.3 185.3,126.8Q189.5,125.7 193.5,123.5Z" fill="#888888" opacity="1.0"/><path d="M209.1,121.3Q204.3,120.6 202.0,119.9Q199.7,119.1 197.4,118.2Q195.1,117.4 192.7,116.9Q190.3,116.5 187.8,116.8Q185.3,117.1 182.7,117.8L180.2,118.5" fill="none" stroke="#b0b0b0" stroke-width="0.68" stroke-linecap="round"/><path d="M190.3,116.5Q185.8,114.8 183.9,113.2Q181.9,111.5 179.7,110.7L177.4,109.9" fill="none" stroke="#b0b0b0" stroke-width="0.54" stroke-linecap="round"/><path d="M181.9,111.5Q179.8,109.0 176.7,108.8Q179.2,110.4 181.9,111.5Z" fill="#a8a8a8" opacity="1.0"/><path d="M190.3,116.5Q186.9,113.8 183.1,116.7Q186.6,117.2 190.3,116.5Z" fill="#888888" opacity="1.0"/><path d="M180.0,122.0Q172.0,128.0 168.5,130.5L165.0,133.0" fill="none" stroke="#b8b8b8" stroke-width="0.6" stroke-linecap="round"/><path d="M208.0,100.0Q211.2,96.5 210.4,92.3Q208.8,96.1 208.0,100.0Z" fill="#c8d088" opacity="1.0"/><circle cx="211" cy="122" r="1.2" fill="#808080"/><path d="M193.6,36.6Q191.9,37.4 190.9,37.7Q190.0,37.9 189.0,38.1Q188.0,38.2 187.1,38.6Q186.2,39.0 185.5,39.7Q184.7,40.4 184.1,41.3L183.4,42.2" fill="none" stroke="#e4e4e4" stroke-width="0.93" stroke-linecap="round"/><path d="M193.6,36.5Q191.6,37.0 190.7,37.4Q189.8,37.8 188.9,38.4Q188.0,39.0 187.2,39.7Q186.3,40.3 185.4,40.7Q184.5,41.1 183.4,41.1L182.3,41.0" fill="none" stroke="#e4e4e4" stroke-width="1.51" stroke-linecap="round"/><path d="M184.7,41.0Q183.1,42.5 182.1,43.0Q181.1,43.6 180.6,44.6L180.0,45.6" fill="none" stroke="#e4e4e4" stroke-width="1.06" stroke-linecap="round"/><path d="M193.5,36.1Q191.4,35.8 190.3,35.7Q189.3,35.6 188.2,35.7Q187.1,35.9 186.1,36.2Q185.1,36.6 184.0,37.0Q183.0,37.3 181.9,37.3L180.9,37.2" fill="none" stroke="#e4e4e4" stroke-width="1.14" stroke-linecap="round"/><path d="M193.5,35.9Q191.1,35.4 189.8,35.3Q188.6,35.1 187.4,35.2Q186.1,35.3 184.9,35.6Q183.6,35.8 182.4,35.9Q181.1,35.9 179.9,35.5L178.7,35.1" fill="none" stroke="#e4e4e4" stroke-width="1.48" stroke-linecap="round"/><path d="M183.4,35.8Q181.8,36.8 180.8,37.1Q179.9,37.4 178.8,37.4L177.7,37.4" fill="none" stroke="#e4e4e4" stroke-width="1.04" stroke-linecap="round"/><path d="M193.5,35.7Q191.1,35.3 189.9,35.2Q188.7,35.2 187.4,35.2Q186.2,35.2 185.0,35.0Q183.8,34.7 182.7,34.1Q181.6,33.5 180.5,32.8L179.4,32.1" fill="none" stroke="#e4e4e4" stroke-width="1.03" stroke-linecap="round"/><path d="M193.7,35.3Q191.3,34.3 190.0,33.9Q188.7,33.5 187.5,33.0Q186.3,32.5 185.2,31.8Q184.1,31.0 183.2,30.0Q182.2,29.1 181.2,28.1L180.2,27.2" fill="none" stroke="#e4e4e4" stroke-width="1.42" stroke-linecap="round"/><path d="M193.8,35.1Q192.3,34.5 191.7,34.0Q191.1,33.6 190.6,33.0Q190.0,32.3 189.6,31.7Q189.1,31.0 188.5,30.5Q187.8,30.1 186.9,30.0L186.0,29.9" fill="none" stroke="#e4e4e4" stroke-width="1.04" stroke-linecap="round"/><path d="M191.1,33.8Q189.9,34.0 189.3,34.1Q188.6,34.2 188.0,33.6L187.4,33.0" fill="none" stroke="#e4e4e4" stroke-width="0.73" stroke-linecap="round"/><path d="M193.9,35.0Q192.3,33.4 191.3,32.7Q190.4,32.0 189.5,31.3Q188.5,30.6 187.8,29.7Q187.1,28.8 186.5,27.7Q186.0,26.5 185.6,25.4L185.1,24.2" fill="none" stroke="#e4e4e4" stroke-width="1.48" stroke-linecap="round"/><path d="M188.8,30.7Q187.9,28.3 187.8,27.1Q187.8,25.8 187.8,24.5L187.8,23.2" fill="none" stroke="#e4e4e4" stroke-width="1.03" stroke-linecap="round"/><path d="M194.2,34.7Q192.9,33.3 192.4,32.4Q191.9,31.6 191.5,30.6Q191.2,29.7 190.8,28.7Q190.5,27.8 189.9,27.0Q189.2,26.3 188.3,25.7L187.3,25.2" fill="none" stroke="#e4e4e4" stroke-width="0.95" stroke-linecap="round"/><path d="M189.3,26.3Q187.7,25.0 187.1,24.1Q186.5,23.3 185.4,23.0L184.4,22.6" fill="none" stroke="#e4e4e4" stroke-width="0.67" stroke-linecap="round"/><path d="M194.3,34.7Q193.7,32.7 193.3,31.7Q192.8,30.8 192.2,29.9Q191.5,29.1 190.8,28.3Q190.1,27.5 189.7,26.6Q189.2,25.7 189.1,24.5L189.1,23.4" fill="none" stroke="#e4e4e4" stroke-width="1.57" stroke-linecap="round"/><path d="M191.8,29.2Q191.5,27.8 191.6,27.0Q191.7,26.3 192.2,25.5L192.7,24.8" fill="none" stroke="#e4e4e4" stroke-width="1.10" stroke-linecap="round"/><path d="M193.6,36.6Q191.9,37.5 191.0,37.8Q190.0,38.0 189.0,38.2Q188.1,38.4 187.2,38.8Q186.3,39.2 185.6,40.0Q184.8,40.7 184.2,41.6L183.6,42.5" fill="none" stroke="#c0c0c0" stroke-width="0.53" stroke-linecap="round"/><path d="M186.3,39.2Q184.0,39.7 183.2,42.7Q184.9,41.2 186.3,39.2Z" fill="#909090" opacity="1.0"/><path d="M193.6,36.5Q191.6,36.9 190.6,37.2Q189.7,37.6 188.8,38.2Q187.9,38.7 187.1,39.3Q186.2,39.9 185.3,40.3Q184.3,40.6 183.2,40.5L182.1,40.5" fill="none" stroke="#d8d870" stroke-width="0.53" stroke-linecap="round"/><path d="M184.3,40.6Q182.8,42.1 181.8,42.7Q180.8,43.2 180.2,44.2L179.7,45.3" fill="none" stroke="#d8d870" stroke-width="0.45" stroke-linecap="round"/><path d="M193.5,36.1Q191.4,35.9 190.3,35.8Q189.3,35.8 188.2,35.9Q187.2,36.1 186.1,36.5Q185.1,36.9 184.0,37.3Q183.0,37.7 181.9,37.7L180.9,37.7" fill="none" stroke="#b0b0b0" stroke-width="0.57" stroke-linecap="round"/><path d="M185.1,36.9Q183.0,35.6 181.1,36.6Q183.1,37.0 185.1,36.9Z" fill="#b0b0b0" opacity="1.0"/><path d="M193.5,35.9Q191.1,35.5 189.8,35.4Q188.6,35.3 187.3,35.5Q186.1,35.6 184.9,35.9Q183.6,36.2 182.4,36.3Q181.1,36.4 179.9,36.0L178.7,35.7" fill="none" stroke="#c8c850" stroke-width="0.48" stroke-linecap="round"/><path d="M183.6,36.2Q182.0,37.3 181.0,37.6Q180.1,37.9 179.0,37.8L177.9,37.8" fill="none" stroke="#c8c850" stroke-width="0.37" stroke-linecap="round"/><path d="M193.5,35.7Q191.2,35.2 189.9,35.2Q188.7,35.1 187.5,35.1Q186.3,35.0 185.1,34.7Q183.9,34.5 182.8,33.8Q181.7,33.2 180.6,32.4L179.5,31.7" fill="none" stroke="#c8c850" stroke-width="0.49" stroke-linecap="round"/><path d="M193.7,35.3Q191.3,34.2 190.1,33.7Q188.8,33.3 187.6,32.8Q186.4,32.3 185.4,31.5Q184.3,30.7 183.4,29.7Q182.4,28.7 181.5,27.7L180.5,26.7" fill="none" stroke="#c8c850" stroke-width="0.60" stroke-linecap="round"/><path d="M193.8,35.1Q192.4,34.4 191.8,34.0Q191.1,33.5 190.6,32.8Q190.2,32.2 189.7,31.5Q189.2,30.8 188.6,30.3Q188.0,29.8 187.1,29.7L186.3,29.6" fill="none" stroke="#c8c850" stroke-width="0.43" stroke-linecap="round"/><path d="M191.1,33.5Q189.9,33.7 189.3,33.7Q188.6,33.8 188.0,33.2L187.4,32.7" fill="none" stroke="#c8c850" stroke-width="0.45" stroke-linecap="round"/><path d="M193.9,35.0Q192.2,33.4 191.2,32.8Q190.3,32.1 189.3,31.5Q188.3,30.8 187.6,30.0Q186.8,29.1 186.3,28.0Q185.7,26.9 185.2,25.7L184.7,24.6" fill="none" stroke="#b0b0b0" stroke-width="0.42" stroke-linecap="round"/><path d="M188.3,30.8Q187.5,28.4 187.4,27.2Q187.3,25.9 187.3,24.6L187.3,23.3" fill="none" stroke="#b0b0b0" stroke-width="0.43" stroke-linecap="round"/><path d="M187.3,25.9Q188.5,22.8 186.7,20.5Q186.7,23.2 187.3,25.9Z" fill="#c0c0c0" opacity="1.0"/><path d="M194.2,34.7Q192.9,33.2 192.4,32.4Q192.0,31.5 191.7,30.5Q191.3,29.6 191.0,28.6Q190.7,27.7 190.1,26.9Q189.5,26.1 188.5,25.5L187.6,25.0" fill="none" stroke="#b0b0b0" stroke-width="0.57" stroke-linecap="round"/><path d="M189.5,26.1Q187.9,24.8 187.3,23.9Q186.7,23.0 185.6,22.7L184.6,22.4" fill="none" stroke="#b0b0b0" stroke-width="0.39" stroke-linecap="round"/><path d="M194.3,34.7Q193.6,32.7 193.1,31.8Q192.7,30.9 192.0,30.1Q191.3,29.2 190.5,28.5Q189.8,27.7 189.3,26.8Q188.8,25.9 188.6,24.8L188.5,23.7" fill="none" stroke="#c0c0c0" stroke-width="0.40" stroke-linecap="round"/><path d="M191.3,29.2Q191.0,27.8 191.1,27.0Q191.2,26.3 191.7,25.5L192.2,24.8" fill="none" stroke="#c0c0c0" stroke-width="0.47" stroke-linecap="round"/><path d="M196.2,35.1Q197.7,33.5 198.6,32.9Q199.4,32.2 200.4,31.7Q201.4,31.3 202.4,30.8Q203.4,30.4 204.3,29.7Q205.1,29.1 205.7,28.1L206.3,27.1" fill="none" stroke="#e4e4e4" stroke-width="0.93" stroke-linecap="round"/><path d="M196.4,35.4Q198.8,34.5 200.0,33.9Q201.2,33.2 202.2,32.4Q203.3,31.6 204.4,30.9Q205.6,30.2 206.8,29.8Q208.0,29.4 209.4,29.3L210.8,29.2" fill="none" stroke="#e4e4e4" stroke-width="1.36" stroke-linecap="round"/><path d="M196.4,35.6Q198.3,35.0 199.2,34.6Q200.1,34.1 201.0,33.6Q201.9,33.1 202.9,32.9Q203.8,32.6 204.9,32.7Q205.9,32.8 207.0,33.0L208.1,33.3" fill="none" stroke="#e4e4e4" stroke-width="0.89" stroke-linecap="round"/><path d="M200.2,33.9Q201.4,34.3 202.0,34.1Q202.7,34.0 203.3,33.5L204.0,33.1" fill="none" stroke="#e4e4e4" stroke-width="0.62" stroke-linecap="round"/><path d="M196.5,35.9Q199.0,35.9 200.2,36.1Q201.4,36.2 202.7,36.2Q203.9,36.2 205.1,35.9Q206.3,35.6 207.5,35.1Q208.7,34.6 209.9,34.2L211.1,33.8" fill="none" stroke="#e4e4e4" stroke-width="0.88" stroke-linecap="round"/><path d="M196.5,36.2Q199.0,36.4 200.2,36.7Q201.4,37.0 202.7,37.1Q203.9,37.2 205.2,37.0Q206.5,36.9 207.8,36.5Q209.0,36.1 210.3,35.9L211.6,35.6" fill="none" stroke="#e4e4e4" stroke-width="1.54" stroke-linecap="round"/><path d="M209.3,36.2Q210.9,36.9 211.5,37.5Q212.2,38.0 212.7,38.9L213.1,39.8" fill="none" stroke="#e4e4e4" stroke-width="1.08" stroke-linecap="round"/><path d="M196.5,36.3Q198.9,37.0 200.1,37.1Q201.4,37.3 202.6,37.3Q203.9,37.3 205.1,37.5Q206.4,37.7 207.5,38.2Q208.7,38.8 209.8,39.6L210.9,40.4" fill="none" stroke="#e4e4e4" stroke-width="0.91" stroke-linecap="round"/><path d="M196.4,36.6Q198.4,37.4 199.3,37.9Q200.2,38.5 201.1,39.1Q202.0,39.7 203.0,40.2Q203.9,40.7 205.0,40.8Q206.2,40.9 207.4,40.8L208.6,40.7" fill="none" stroke="#e4e4e4" stroke-width="0.86" stroke-linecap="round"/><path d="M200.2,38.3Q202.3,37.9 203.3,37.6Q204.3,37.2 205.4,37.6L206.6,37.9" fill="none" stroke="#e4e4e4" stroke-width="0.60" stroke-linecap="round"/><path d="M196.2,36.8Q197.8,37.8 198.6,38.1Q199.5,38.5 200.4,38.8Q201.2,39.2 201.9,39.8Q202.6,40.4 203.1,41.2Q203.6,42.1 204.1,43.0L204.6,43.9" fill="none" stroke="#e4e4e4" stroke-width="0.82" stroke-linecap="round"/><path d="M196.0,37.1Q197.7,39.2 198.5,40.4Q199.2,41.5 200.0,42.7Q200.7,43.8 201.7,44.8Q202.6,45.8 203.8,46.5Q205.0,47.3 206.3,48.0L207.6,48.7" fill="none" stroke="#e4e4e4" stroke-width="0.85" stroke-linecap="round"/><path d="M195.8,37.3Q196.5,38.5 196.7,39.2Q196.8,39.9 197.1,40.6Q197.3,41.2 197.7,41.8Q198.2,42.3 198.9,42.6Q199.6,43.0 200.4,43.3L201.1,43.7" fill="none" stroke="#e4e4e4" stroke-width="1.25" stroke-linecap="round"/><path d="M196.2,35.1Q197.7,33.6 198.6,32.9Q199.5,32.3 200.5,31.9Q201.5,31.4 202.5,31.0Q203.6,30.6 204.4,29.9Q205.3,29.3 205.9,28.3L206.5,27.3" fill="none" stroke="#b0b0b0" stroke-width="0.49" stroke-linecap="round"/><path d="M203.6,30.6Q206.2,31.1 206.7,28.9Q204.9,29.4 203.6,30.6Z" fill="#909090" opacity="1.0"/><path d="M196.4,35.4Q198.9,34.6 200.0,34.0Q201.2,33.4 202.3,32.6Q203.4,31.9 204.6,31.2Q205.7,30.5 207.0,30.1Q208.2,29.8 209.6,29.7L211.0,29.7" fill="none" stroke="#b0b0b0" stroke-width="0.51" stroke-linecap="round"/><path d="M196.4,35.6Q198.4,35.1 199.3,34.7Q200.2,34.2 201.1,33.8Q202.0,33.3 202.9,33.1Q203.9,32.9 204.9,33.0Q206.0,33.1 207.1,33.4L208.2,33.6" fill="none" stroke="#c0c0c0" stroke-width="0.46" stroke-linecap="round"/><path d="M200.2,34.2Q201.4,34.5 202.0,34.4Q202.7,34.2 203.3,33.8L203.9,33.4" fill="none" stroke="#c0c0c0" stroke-width="0.47" stroke-linecap="round"/><path d="M203.9,32.9Q206.3,35.5 208.2,33.6Q206.0,32.8 203.9,32.9Z" fill="#c0c0c0" opacity="1.0"/><path d="M196.5,35.9Q198.9,35.9 200.2,36.0Q201.4,36.1 202.6,36.1Q203.9,36.0 205.1,35.7Q206.3,35.4 207.5,34.8Q208.7,34.3 209.9,33.9L211.1,33.5" fill="none" stroke="#c0c0c0" stroke-width="0.55" stroke-linecap="round"/><path d="M206.3,35.4Q208.9,36.2 210.7,33.8Q208.4,34.3 206.3,35.4Z" fill="#909090" opacity="1.0"/><path d="M196.5,36.2Q199.0,36.5 200.2,36.9Q201.4,37.2 202.6,37.3Q203.9,37.5 205.1,37.4Q206.4,37.3 207.7,36.9Q209.0,36.6 210.3,36.4L211.5,36.2" fill="none" stroke="#c0c0c0" stroke-width="0.53" stroke-linecap="round"/><path d="M209.0,36.6Q210.6,37.3 211.3,37.9Q212.0,38.4 212.4,39.3L212.8,40.2" fill="none" stroke="#c0c0c0" stroke-width="0.39" stroke-linecap="round"/><path d="M212.0,38.4Q213.2,41.1 216.5,40.7Q214.5,39.2 212.0,38.4Z" fill="#b0b0b0" opacity="1.0"/><path d="M206.4,37.3Q207.8,40.5 209.9,39.6Q208.2,38.0 206.4,37.3Z" fill="#c0c0c0" opacity="1.0"/><path d="M196.5,36.3Q198.9,36.9 200.1,37.0Q201.4,37.2 202.6,37.1Q203.9,37.1 205.2,37.3Q206.4,37.4 207.6,38.0Q208.7,38.5 209.8,39.3L210.9,40.1" fill="none" stroke="#c0c0c0" stroke-width="0.44" stroke-linecap="round"/><path d="M196.4,36.6Q198.4,37.4 199.3,38.0Q200.2,38.6 201.1,39.2Q201.9,39.9 202.9,40.4Q203.8,40.9 204.9,41.0Q206.0,41.2 207.2,41.1L208.5,41.0" fill="none" stroke="#b0b0b0" stroke-width="0.54" stroke-linecap="round"/><path d="M200.2,38.6Q202.3,38.2 203.3,37.8Q204.4,37.5 205.5,37.9L206.6,38.2" fill="none" stroke="#b0b0b0" stroke-width="0.37" stroke-linecap="round"/><path d="M196.2,36.8Q197.8,37.8 198.6,38.2Q199.5,38.6 200.3,38.9Q201.1,39.3 201.8,39.9Q202.5,40.6 203.0,41.4Q203.5,42.3 203.9,43.2L204.4,44.1" fill="none" stroke="#c0c0c0" stroke-width="0.49" stroke-linecap="round"/><path d="M202.5,40.6Q202.9,45.2 206.5,46.0Q204.8,42.9 202.5,40.6Z" fill="#909090" opacity="1.0"/><path d="M196.0,37.1Q197.8,39.2 198.6,40.3Q199.3,41.4 200.1,42.6Q200.9,43.7 201.8,44.7Q202.8,45.6 204.0,46.3Q205.2,47.1 206.5,47.8L207.8,48.4" fill="none" stroke="#c0c0c0" stroke-width="0.41" stroke-linecap="round"/><path d="M195.8,37.3Q196.5,38.4 196.8,39.1Q197.0,39.8 197.2,40.5Q197.5,41.1 198.0,41.6Q198.5,42.1 199.2,42.4Q200.0,42.8 200.8,43.1L201.5,43.4" fill="none" stroke="#b0b0b0" stroke-width="0.47" stroke-linecap="round"/><path d="M195.0,36.0Q196.0,39.6 196.2,40.7Q196.3,41.8 197.2,43.4Q198.0,45.0 197.5,46.3Q196.9,47.6 196.9,48.5Q196.8,49.4 196.9,50.7Q197.0,52.0 197.8,52.6Q198.5,53.3 198.5,54.5Q198.4,55.7 199.2,56.8Q200.0,58.0 200.4,59.0Q200.8,60.0 200.9,61.3Q200.9,62.6 200.9,63.3L201.0,64.0" fill="none" stroke="#b0b0b0" stroke-width="0.5" stroke-linecap="round"/><path d="M200.7,62.3Q199.7,64.5 199.6,65.4L199.6,66.3" fill="none" stroke="#b0b0b0" stroke-width="0.425" stroke-linecap="round"/><path d="M197.6,47.7Q198.2,48.8 198.9,49.5L199.6,50.2" fill="none" stroke="#b0b0b0" stroke-width="0.425" stroke-linecap="round"/><path d="M197.5,48.8Q198.8,50.6 200.0,52.0L201.1,53.4" fill="none" stroke="#b0b0b0" stroke-width="0.425" stroke-linecap="round"/><path d="M195.0,36.0Q193.7,39.3 192.3,39.9Q190.9,40.5 190.5,42.3Q190.0,44.0 189.7,45.2Q189.5,46.4 188.2,47.9Q186.8,49.3 186.4,50.7L186.0,52.0" fill="none" stroke="#b8b8b8" stroke-width="0.5" stroke-linecap="round"/><path d="M187.0,50.1Q187.5,52.6 187.7,53.6L187.8,54.5" fill="none" stroke="#b8b8b8" stroke-width="0.425" stroke-linecap="round"/><path d="M180.0,34.0Q188.0,35.0 191.5,35.5L195.0,36.0" fill="none" stroke="#c8c850" stroke-width="0.7" stroke-linecap="round"/><path d="M243.0,20.0Q258.0,28.0 272.0,20.0" fill="none" stroke="#b0b0b0" stroke-width="0.6"/><path d="M246.0,21.0Q260.0,26.0 268.0,24.0" fill="none" stroke="#c0c0c0" stroke-width="0.5"/><path d="M249.0,63.0Q249.7,66.2 250.6,68.3Q251.6,70.5 251.8,72.2Q252.0,74.0 251.8,75.6Q251.5,77.3 251.1,79.3Q250.8,81.3 249.9,82.6Q249.0,84.0 249.9,86.4Q250.8,88.8 251.3,90.1Q251.9,91.5 253.0,93.7Q254.0,96.0 254.9,97.7Q255.7,99.5 256.1,100.6Q256.5,101.7 256.8,102.9Q257.0,104.0 256.9,104.8Q256.8,105.5 257.8,106.3Q258.8,107.1 258.9,108.6L259.0,110.0" fill="none" stroke="#a0a0a0" stroke-width="0.5" stroke-linecap="round"/><path d="M251.9,91.0Q253.8,92.5 254.8,92.8L255.8,93.1" fill="none" stroke="#a0a0a0" stroke-width="0.425" stroke-linecap="round"/><path d="M249.0,63.0Q246.7,60.9 245.8,60.2Q244.9,59.5 243.5,58.3Q242.0,57.0 240.9,56.1Q239.9,55.1 238.7,54.1Q237.5,53.1 235.7,52.6L234.0,52.0" fill="none" stroke="#a0a0a0" stroke-width="0.5" stroke-linecap="round"/><path d="M239.2,55.2Q238.6,53.5 238.4,52.2L238.2,50.9" fill="none" stroke="#a0a0a0" stroke-width="0.425" stroke-linecap="round"/><path d="M249.0,63.0Q247.9,58.6 246.9,57.1Q245.9,55.5 245.0,53.7Q244.0,52.0 243.9,50.6Q243.8,49.2 243.5,48.1Q243.2,47.0 243.1,45.5L243.0,44.0" fill="none" stroke="#a0a0a0" stroke-width="0.5" stroke-linecap="round"/><path d="M243.7,49.2Q244.5,47.4 244.9,46.6L245.4,45.8" fill="none" stroke="#a0a0a0" stroke-width="0.425" stroke-linecap="round"/><path d="M249.0,63.0Q248.9,59.0 249.5,57.7Q250.2,56.4 250.1,54.2Q250.0,52.0 250.8,50.5Q251.5,49.1 251.4,47.6Q251.3,46.2 251.6,44.1Q252.0,42.0 252.2,41.3Q252.3,40.6 252.1,39.7Q251.8,38.7 251.4,37.4L251.0,36.0" fill="none" stroke="#a0a0a0" stroke-width="0.5" stroke-linecap="round"/><path d="M249.6,56.3Q248.6,54.7 247.6,53.7L246.5,52.6" fill="none" stroke="#a0a0a0" stroke-width="0.425" stroke-linecap="round"/><path d="M249.0,63.0Q250.6,60.2 251.7,58.5Q252.8,56.9 254.4,56.0Q256.0,55.0 257.1,53.3Q258.2,51.7 259.0,50.0Q259.8,48.3 260.9,47.1Q262.0,46.0 262.8,45.2Q263.7,44.3 263.8,43.2Q264.0,42.1 264.5,41.0L265.0,40.0" fill="none" stroke="#a0a0a0" stroke-width="0.5" stroke-linecap="round"/><path d="M254.4,56.9Q254.1,54.4 254.3,53.5L254.6,52.7" fill="none" stroke="#a0a0a0" stroke-width="0.425" stroke-linecap="round"/><path d="M249.0,63.0Q251.2,62.2 253.3,61.2Q255.4,60.3 256.7,59.1Q258.0,58.0 259.6,56.8Q261.3,55.5 262.5,53.7Q263.6,51.9 264.8,51.0Q266.0,50.0 266.9,49.1Q267.8,48.2 268.7,46.8Q269.5,45.5 270.8,44.7L272.0,44.0" fill="none" stroke="#a0a0a0" stroke-width="0.5" stroke-linecap="round"/><path d="M252.5,61.0Q254.8,61.9 255.9,62.2L256.9,62.4" fill="none" stroke="#a0a0a0" stroke-width="0.425" stroke-linecap="round"/><path d="M249.0,63.0Q252.5,62.9 254.3,62.7Q256.1,62.6 258.1,62.8Q260.0,63.0 261.2,62.8Q262.3,62.5 263.8,63.4Q265.3,64.4 267.2,64.2L269.0,64.0" fill="none" stroke="#a0a0a0" stroke-width="0.5" stroke-linecap="round"/><path d="M266.9,63.8Q267.9,64.8 268.8,65.7L269.7,66.7" fill="none" stroke="#a0a0a0" stroke-width="0.425" stroke-linecap="round"/><path d="M249.0,63.0Q246.3,62.0 244.9,62.2Q243.6,62.4 241.8,62.2Q240.0,62.0 238.4,61.9Q236.8,61.8 235.5,61.2Q234.3,60.7 232.7,60.3Q231.0,60.0 229.8,59.4Q228.6,58.8 228.4,58.4Q228.2,58.1 227.1,57.0L226.0,56.0" fill="none" stroke="#a0a0a0" stroke-width="0.5" stroke-linecap="round"/><path d="M227.4,57.2Q227.3,55.7 227.0,54.7L226.7,53.8" fill="none" stroke="#a0a0a0" stroke-width="0.425" stroke-linecap="round"/><path d="M249.0,63.0Q246.9,63.9 245.7,64.2Q244.5,64.5 242.7,65.3Q241.0,66.0 239.9,66.6Q238.8,67.2 237.3,67.6Q235.9,67.9 234.9,69.0L234.0,70.0" fill="none" stroke="#a0a0a0" stroke-width="0.5" stroke-linecap="round"/><path d="M238.0,67.7Q237.5,69.5 237.2,69.9L237.0,70.3" fill="none" stroke="#a0a0a0" stroke-width="0.425" stroke-linecap="round"/><path d="M252.0,74.0Q255.6,76.1 256.5,77.4Q257.4,78.7 259.2,79.4Q261.0,80.0 262.1,80.9Q263.2,81.9 264.5,83.2Q265.8,84.5 266.4,85.3L267.0,86.0" fill="none" stroke="#a0a0a0" stroke-width="0.5" stroke-linecap="round"/><path d="M263.3,82.3Q263.8,84.3 263.7,85.1L263.5,85.8" fill="none" stroke="#a0a0a0" stroke-width="0.425" stroke-linecap="round"/><path d="M249.0,84.0Q246.0,86.5 244.7,86.8Q243.5,87.0 242.7,88.0Q242.0,89.0 241.6,89.8Q241.2,90.6 239.9,90.9Q238.6,91.1 237.8,92.1L237.0,93.0" fill="none" stroke="#a0a0a0" stroke-width="0.5" stroke-linecap="round"/><path d="M244.5,87.2Q243.4,87.7 242.3,87.8L241.3,87.9" fill="none" stroke="#a0a0a0" stroke-width="0.425" stroke-linecap="round"/><path d="M254.0,96.0Q256.2,96.7 257.8,97.1Q259.5,97.5 260.8,98.3Q262.0,99.0 263.0,99.7Q264.0,100.5 264.1,101.0Q264.1,101.5 265.1,102.7L266.0,104.0" fill="none" stroke="#a0a0a0" stroke-width="0.5" stroke-linecap="round"/><path d="M256.5,96.9Q258.4,96.3 258.9,96.1L259.4,95.9" fill="none" stroke="#a0a0a0" stroke-width="0.425" stroke-linecap="round"/><path d="M251.0,86.0Q253.0,87.7 253.9,88.6Q254.9,89.6 256.4,89.8L258.0,90.0" fill="none" stroke="#a0a0a0" stroke-width="0.5" stroke-linecap="round"/><path d="M256.1,88.9Q257.4,89.1 258.3,89.1L259.1,89.1" fill="none" stroke="#a0a0a0" stroke-width="0.425" stroke-linecap="round"/><path d="M250.0,52.0Q248.6,50.2 247.3,48.7Q245.9,47.2 245.0,46.6L244.0,46.0" fill="none" stroke="#a0a0a0" stroke-width="0.5" stroke-linecap="round"/><path d="M247.7,49.7Q246.8,47.7 246.7,46.8L246.5,45.9" fill="none" stroke="#a0a0a0" stroke-width="0.425" stroke-linecap="round"/><path d="M262.0,46.0Q263.9,44.4 265.3,44.1Q266.8,43.8 267.4,42.9L268.0,42.0" fill="none" stroke="#a0a0a0" stroke-width="0.5" stroke-linecap="round"/><path d="M266.3,43.1Q267.3,41.9 267.2,40.9L267.2,40.0" fill="none" stroke="#a0a0a0" stroke-width="0.425" stroke-linecap="round"/><path d="M271.7,62.9Q272.3,62.5 272.6,62.2Q272.8,62.0 273.1,61.8Q273.5,61.6 273.8,61.5Q274.2,61.3 274.5,61.2L274.9,61.1" fill="none" stroke="#a0a0a0" stroke-width="0.78" stroke-linecap="round"/><path d="M271.9,63.3Q272.6,63.0 273.0,62.9Q273.4,62.8 273.8,62.7Q274.2,62.6 274.6,62.5Q274.9,62.3 275.3,62.0L275.6,61.7" fill="none" stroke="#b0b0b0" stroke-width="0.63" stroke-linecap="round"/><path d="M271.9,63.5Q273.2,63.2 273.8,63.1Q274.4,63.0 275.0,62.9Q275.7,62.8 276.3,62.7Q276.9,62.6 277.5,62.3L278.1,62.1" fill="none" stroke="#b0b0b0" stroke-width="0.89" stroke-linecap="round"/><path d="M272.0,64.1Q272.9,64.2 273.3,64.2Q273.8,64.2 274.3,64.1Q274.7,64.1 275.2,64.0Q275.6,64.0 276.1,64.1L276.5,64.2" fill="none" stroke="#b0b0b0" stroke-width="0.61" stroke-linecap="round"/><path d="M272.0,64.4Q273.2,64.5 273.8,64.6Q274.4,64.7 275.1,64.9Q275.7,65.0 276.3,65.3Q276.9,65.5 277.5,65.6L278.1,65.8" fill="none" stroke="#a0a0a0" stroke-width="1.03" stroke-linecap="round"/><path d="M271.9,64.7Q272.5,64.9 272.8,65.0Q273.1,65.1 273.4,65.3Q273.7,65.5 274.0,65.7Q274.3,65.8 274.6,65.9L274.9,66.0" fill="none" stroke="#b0b0b0" stroke-width="1.00" stroke-linecap="round"/><path d="M271.7,65.1Q272.6,65.6 273.1,65.9Q273.5,66.2 273.9,66.6Q274.4,66.9 274.8,67.2Q275.2,67.6 275.7,67.8L276.3,68.0" fill="none" stroke="#b0b0b0" stroke-width="0.71" stroke-linecap="round"/><path d="M266.0,64.0Q270.0,67.0 274.0,64.0Q270.0,63.4 266.0,64.0Z" fill="#c8c8c8" opacity="1.0"/><path d="M293.0,5.0Q294.9,7.0 296.5,7.9Q298.0,8.9 299.0,9.4Q300.0,10.0 300.6,10.5Q301.2,10.9 302.0,11.6Q302.8,12.2 303.9,13.1Q305.0,14.0 305.9,15.0Q306.7,16.1 307.2,17.5Q307.7,18.9 308.4,20.4L309.0,22.0" fill="none" stroke="#a0a0a0" stroke-width="0.5" stroke-linecap="round"/><path d="M302.2,11.8Q305.1,11.8 306.2,11.7L307.2,11.5" fill="none" stroke="#a0a0a0" stroke-width="0.425" stroke-linecap="round"/><path d="M304.0,10.4Q345.0,30.0 387.0,33.0" fill="none" stroke="#b8b8b8" stroke-width="0.6"/><path d="M294.0,5.0Q330.0,35.0 384.0,30.0" fill="none" stroke="#c4c4c4" stroke-width="0.5"/><path d="M292.0,48.5Q296.0,38.0 298.5,33.7L301.0,29.4" fill="none" stroke="#909090" stroke-width="0.5" stroke-linecap="round"/><path d="M301.0,29.4Q302.7,30.6 303.8,31.3Q304.9,31.9 305.9,32.5Q307.0,33.0 308.1,33.3Q309.1,33.7 309.8,34.6Q310.5,35.5 311.8,35.9Q313.0,36.3 314.5,36.5Q316.1,36.6 318.1,37.0Q320.2,37.4 321.6,37.7Q323.0,38.0 321.8,38.7Q320.7,39.3 319.2,39.8Q317.8,40.3 316.4,41.2Q315.0,42.0 313.4,42.5Q311.8,43.0 310.1,43.3Q308.4,43.6 306.7,43.8Q305.0,44.0 303.6,44.1Q302.2,44.2 300.7,44.8Q299.3,45.4 297.6,45.7Q296.0,46.0 295.2,46.2Q294.5,46.4 294.1,47.0Q293.7,47.6 292.8,48.1L292.0,48.5" fill="none" stroke="#a0a0a0" stroke-width="0.5" stroke-linecap="round"/><path d="M292.0,48.5Q320.0,38.0 335.0,40.0" fill="none" stroke="#b0b0b0" stroke-width="0.5"/><path d="M300.0,40.0Q345.0,50.0 388.0,36.0" fill="none" stroke="#b0b0b0" stroke-width="0.55"/><path d="M303.0,43.0Q345.0,54.0 388.0,38.0" fill="none" stroke="#a8a8a8" stroke-width="0.55"/><path d="M306.0,46.0Q345.0,57.0 388.0,40.0" fill="none" stroke="#c0c0c0" stroke-width="0.55"/><path d="M309.0,50.0Q345.0,60.0 388.0,41.0" fill="none" stroke="#b8b8b8" stroke-width="0.55"/><path d="M312.0,38.0Q345.0,44.0 388.0,35.0" fill="none" stroke="#c8c8c8" stroke-width="0.55"/><path d="M339.0,33.0Q340.5,33.9 341.9,34.4Q343.2,34.9 344.1,34.9Q345.0,35.0 345.9,34.5Q346.7,34.0 348.0,33.9Q349.3,33.9 350.1,33.4Q351.0,33.0 351.9,33.6Q352.8,34.2 353.8,34.8Q354.9,35.3 355.9,35.7Q357.0,36.0 357.8,35.9Q358.5,35.8 360.0,35.9Q361.5,36.0 362.2,36.2L363.0,36.3" fill="none" stroke="#888888" stroke-width="0.6" stroke-linecap="round"/><path d="M314.6,38.0Q318.8,39.2 320.4,40.3Q321.9,41.5 323.5,42.7Q325.0,44.0 327.1,44.4Q329.1,44.9 330.7,46.3Q332.3,47.6 333.6,48.3Q335.0,49.0 336.8,50.2Q338.6,51.4 339.6,51.6Q340.6,51.9 342.3,52.8L344.0,53.7" fill="none" stroke="#909090" stroke-width="0.55" stroke-linecap="round"/><path d="M317.8,39.8Q320.3,40.3 322.0,40.2L323.7,40.1" fill="none" stroke="#909090" stroke-width="0.4675" stroke-linecap="round"/><path d="M394.0,34.6Q396.9,29.4 397.5,26.9Q398.1,24.5 400.1,22.2Q402.0,20.0 402.8,17.2Q403.6,14.3 403.8,11.3Q403.9,8.2 404.3,5.8L404.6,3.5" fill="none" stroke="#8c8c8c" stroke-width="0.55" stroke-linecap="round"/><path d="M403.2,12.2Q402.4,10.0 401.6,8.9L400.8,7.7" fill="none" stroke="#8c8c8c" stroke-width="0.4675" stroke-linecap="round"/><path d="M397.0,29.0Q399.5,28.1 400.6,27.3L401.7,26.5" fill="none" stroke="#8c8c8c" stroke-width="0.4675" stroke-linecap="round"/><path d="M394.0,34.6Q394.8,29.8 395.4,26.6Q396.0,23.4 396.5,20.7Q397.0,18.0 397.0,16.0Q397.0,14.1 397.4,12.3Q397.7,10.5 398.4,7.7L399.0,5.0" fill="none" stroke="#8c8c8c" stroke-width="0.55" stroke-linecap="round"/><path d="M398.2,10.0Q400.7,8.2 401.5,7.2L402.3,6.2" fill="none" stroke="#8c8c8c" stroke-width="0.4675" stroke-linecap="round"/><path d="M396.4,21.6Q395.9,20.5 395.3,19.5L394.7,18.4" fill="none" stroke="#8c8c8c" stroke-width="0.4675" stroke-linecap="round"/><path d="M394.0,34.6Q393.8,29.8 392.6,27.3Q391.5,24.8 390.7,22.4Q390.0,20.0 388.6,17.6Q387.3,15.1 386.5,13.8Q385.8,12.5 384.9,10.6L384.0,8.7" fill="none" stroke="#8c8c8c" stroke-width="0.55" stroke-linecap="round"/><path d="M386.8,13.9Q384.3,13.8 383.4,13.2L382.4,12.7" fill="none" stroke="#8c8c8c" stroke-width="0.4675" stroke-linecap="round"/><path d="M387.2,14.7Q384.9,13.9 383.6,13.4L382.3,12.9" fill="none" stroke="#8c8c8c" stroke-width="0.4675" stroke-linecap="round"/><path d="M394.0,34.6Q388.9,32.5 387.1,31.0Q385.3,29.4 383.6,27.2Q382.0,25.0 380.0,22.8Q377.9,20.7 374.8,19.0Q371.7,17.3 369.1,15.5L366.5,13.8" fill="none" stroke="#8c8c8c" stroke-width="0.55" stroke-linecap="round"/><path d="M389.0,30.6Q386.5,30.0 385.2,29.7L383.8,29.4" fill="none" stroke="#8c8c8c" stroke-width="0.4675" stroke-linecap="round"/><path d="M376.1,20.8Q375.4,17.7 375.3,16.1L375.2,14.5" fill="none" stroke="#8c8c8c" stroke-width="0.4675" stroke-linecap="round"/><path d="M394.0,34.6Q398.5,30.2 402.0,28.2Q405.5,26.1 407.8,24.0Q410.0,22.0 412.8,19.7Q415.7,17.4 418.9,14.8Q422.2,12.2 425.6,9.6L429.0,7.0" fill="none" stroke="#8c8c8c" stroke-width="0.55" stroke-linecap="round"/><path d="M400.5,29.5Q403.7,28.5 405.1,28.3L406.5,28.1" fill="none" stroke="#8c8c8c" stroke-width="0.4675" stroke-linecap="round"/><path d="M406.7,24.6Q407.8,22.6 408.2,21.8L408.6,21.0" fill="none" stroke="#8c8c8c" stroke-width="0.4675" stroke-linecap="round"/><path d="M394.0,34.6Q396.9,31.6 399.3,29.6Q401.6,27.7 403.3,26.3Q405.0,25.0 407.4,23.8Q409.9,22.5 413.2,20.3Q416.6,18.0 419.3,16.8L422.0,15.6" fill="none" stroke="#8c8c8c" stroke-width="0.55" stroke-linecap="round"/><path d="M400.5,29.0Q402.2,29.2 403.4,29.1L404.6,29.0" fill="none" stroke="#8c8c8c" stroke-width="0.4675" stroke-linecap="round"/><path d="M398.3,30.8Q401.5,31.4 402.8,31.2L404.1,31.0" fill="none" stroke="#8c8c8c" stroke-width="0.4675" stroke-linecap="round"/><path d="M394.0,34.6Q399.8,33.1 402.5,32.6Q405.3,32.2 408.6,31.1Q412.0,30.0 415.0,29.6Q418.0,29.2 421.5,28.5Q425.0,27.8 428.5,26.9L432.0,26.0" fill="none" stroke="#8c8c8c" stroke-width="0.55" stroke-linecap="round"/><path d="M427.2,27.0Q429.1,25.4 430.2,24.3L431.2,23.3" fill="none" stroke="#8c8c8c" stroke-width="0.4675" stroke-linecap="round"/><path d="M404.8,31.8Q406.1,30.1 406.5,29.0L406.8,27.9" fill="none" stroke="#8c8c8c" stroke-width="0.4675" stroke-linecap="round"/><path d="M394.0,34.6Q400.3,35.3 403.4,36.1Q406.5,36.9 409.2,37.5Q412.0,38.0 414.7,38.0Q417.5,38.0 420.3,39.3Q423.1,40.6 426.0,41.1L429.0,41.5" fill="none" stroke="#8c8c8c" stroke-width="0.55" stroke-linecap="round"/><path d="M423.6,40.4Q424.7,42.1 425.7,43.0L426.7,44.0" fill="none" stroke="#8c8c8c" stroke-width="0.4675" stroke-linecap="round"/><path d="M404.6,36.6Q407.8,36.0 409.1,35.4L410.4,34.7" fill="none" stroke="#8c8c8c" stroke-width="0.4675" stroke-linecap="round"/><path d="M394.0,34.6Q398.6,40.2 401.5,42.2Q404.3,44.3 407.2,46.1Q410.0,48.0 411.7,49.9Q413.4,51.8 416.2,54.4Q418.9,57.0 420.4,58.5Q422.0,60.0 424.1,62.0Q426.3,64.1 427.1,66.3Q427.9,68.6 429.9,70.7L432.0,72.7" fill="none" stroke="#8c8c8c" stroke-width="0.55" stroke-linecap="round"/><path d="M400.0,39.6Q400.7,42.5 401.2,44.0L401.8,45.5" fill="none" stroke="#8c8c8c" stroke-width="0.4675" stroke-linecap="round"/><path d="M429.6,69.6Q429.3,71.1 429.6,72.2L429.9,73.3" fill="none" stroke="#8c8c8c" stroke-width="0.4675" stroke-linecap="round"/><path d="M394.0,34.6Q394.3,38.5 395.1,42.2Q395.9,45.8 397.0,47.9Q398.0,50.0 397.9,52.9Q397.8,55.8 398.7,58.2Q399.6,60.5 399.5,63.2L399.4,65.8" fill="none" stroke="#8c8c8c" stroke-width="0.55" stroke-linecap="round"/><path d="M395.8,41.5Q397.7,44.1 399.0,45.2L400.3,46.3" fill="none" stroke="#8c8c8c" stroke-width="0.4675" stroke-linecap="round"/><path d="M398.5,55.2Q396.8,57.7 396.4,58.7L395.9,59.7" fill="none" stroke="#8c8c8c" stroke-width="0.4675" stroke-linecap="round"/><path d="M394.0,34.6Q394.1,37.3 393.8,39.2Q393.4,41.0 393.7,43.0Q394.0,45.0 394.1,47.2Q394.2,49.3 394.1,51.0Q394.1,52.6 394.0,54.0L394.0,55.4" fill="none" stroke="#8c8c8c" stroke-width="0.55" stroke-linecap="round"/><path d="M394.0,38.7Q392.8,42.1 391.8,43.4L390.9,44.7" fill="none" stroke="#8c8c8c" stroke-width="0.4675" stroke-linecap="round"/><path d="M394.0,49.8Q391.1,52.0 390.0,53.1L388.8,54.1" fill="none" stroke="#8c8c8c" stroke-width="0.4675" stroke-linecap="round"/><path d="M394.0,34.6Q391.8,39.2 389.4,41.9Q387.0,44.7 386.0,47.4Q385.0,50.0 384.4,52.1Q383.8,54.2 382.1,57.1Q380.5,60.1 379.2,62.5Q378.0,65.0 376.3,67.5Q374.7,70.0 373.4,73.2Q372.2,76.4 371.1,78.9L370.0,81.3" fill="none" stroke="#8c8c8c" stroke-width="0.55" stroke-linecap="round"/><path d="M382.0,56.4Q383.4,58.4 383.8,59.6L384.1,60.8" fill="none" stroke="#8c8c8c" stroke-width="0.4675" stroke-linecap="round"/><path d="M388.9,43.3Q389.3,46.2 389.8,48.0L390.4,49.9" fill="none" stroke="#8c8c8c" stroke-width="0.4675" stroke-linecap="round"/><path d="M372.0,17.0Q370.8,11.4 365.7,10.4Q368.5,14.2 372.0,17.0Z" fill="#c0c0c0" opacity="1.0"/><path d="M388.0,14.0Q390.3,10.0 387.8,6.9Q387.4,10.6 388.0,14.0Z" fill="#c8c8c8" opacity="1.0"/><path d="M479.0,48.4Q481.6,46.2 483.4,44.8Q485.2,43.4 486.6,42.2Q488.0,41.0 489.7,40.2Q491.3,39.4 493.5,38.2Q495.7,37.0 497.4,36.0Q499.0,35.0 501.7,33.5Q504.3,32.0 506.7,30.8Q509.1,29.5 512.0,28.3L515.0,27.0" fill="none" stroke="#b0b0b0" stroke-width="0.55" stroke-linecap="round"/><path d="M479.0,48.4L467.0,42.0" fill="none" stroke="#b8b8b8" stroke-width="0.5" stroke-linecap="round"/><path d="M479.0,48.4L472.0,56.0" fill="none" stroke="#c8c850" stroke-width="0.8" stroke-linecap="round"/><path d="M472.0,56.0Q465.7,58.1 461.5,60.1Q457.2,62.1 454.1,63.1L451.0,64.0" fill="none" stroke="#b0b0b0" stroke-width="0.5" stroke-linecap="round"/><path d="M479.0,48.4Q483.0,58.0 485.5,63.0Q488.0,68.0 489.0,71.0L490.0,74.0" fill="none" stroke="#c8c850" stroke-width="0.8" stroke-linecap="round"/><path d="M479.0,48.4Q496.0,56.7 498.4,59.9L500.7,63.0" fill="none" stroke="#b8b8b8" stroke-width="0.5" stroke-linecap="round"/><path d="M500.7,63.0L507.0,66.3" fill="none" stroke="#c8c850" stroke-width="0.8" stroke-linecap="round"/><path d="M472.0,56.0Q462.0,62.0 458.5,66.0L455.0,70.0" fill="none" stroke="#b0b0b0" stroke-width="0.5" stroke-linecap="round"/><path d="M469.0,62.0Q464.8,64.7 465.3,69.2Q467.6,65.8 469.0,62.0Z" fill="#a8a8a8" opacity="1.0"/><path d="M488.0,62.0Q478.0,68.0 476.0,72.0L474.0,76.0" fill="none" stroke="#c0c0c0" stroke-width="0.5" stroke-linecap="round"/><path d="M474.8,111.4Q484.0,108.5 488.5,109.0Q493.0,109.6 494.5,111.8Q496.0,114.0 496.4,116.3L496.7,118.7" fill="none" stroke="#c8c850" stroke-width="0.8" stroke-linecap="round"/><path d="M474.8,111.4Q473.2,110.7 471.7,110.9Q470.2,111.1 469.1,110.6Q468.0,110.0 467.3,109.9Q466.6,109.7 465.3,110.0Q463.9,110.3 463.0,110.0L462.0,109.6" fill="none" stroke="#b0b0b0" stroke-width="0.5" stroke-linecap="round"/><path d="M465.2,109.8Q463.1,108.7 462.4,108.2L461.7,107.7" fill="none" stroke="#b0b0b0" stroke-width="0.425" stroke-linecap="round"/><path d="M474.8,111.4Q472.8,112.4 472.3,112.5Q471.9,112.6 471.0,113.3Q470.0,114.0 469.4,113.9Q468.9,113.8 468.3,113.9Q467.6,114.0 466.7,113.6L465.7,113.3" fill="none" stroke="#b0b0b0" stroke-width="0.5" stroke-linecap="round"/><path d="M471.7,113.1Q470.5,115.2 469.8,115.9L469.2,116.6" fill="none" stroke="#b0b0b0" stroke-width="0.425" stroke-linecap="round"/><path d="M474.8,111.4Q476.4,113.6 477.5,114.9Q478.6,116.2 479.3,117.5Q480.0,118.7 481.0,119.5Q482.1,120.4 483.2,121.4Q484.3,122.4 485.0,123.3Q485.8,124.2 487.0,124.7Q488.2,125.2 488.7,125.9Q489.2,126.6 490.1,127.2L491.0,127.9" fill="none" stroke="#b0b0b0" stroke-width="0.5" stroke-linecap="round"/><path d="M482.3,120.9Q482.5,123.1 482.8,124.0L483.0,124.8" fill="none" stroke="#b0b0b0" stroke-width="0.425" stroke-linecap="round"/><path d="M474.8,111.4Q473.4,115.0 473.1,116.8Q472.9,118.6 472.4,120.3Q472.0,122.0 471.3,123.6Q470.5,125.2 469.5,127.1Q468.4,129.0 468.0,131.2Q467.5,133.4 467.0,133.5Q466.5,133.7 466.0,133.8Q465.6,133.9 464.7,134.1L463.8,134.3" fill="none" stroke="#b0b0b0" stroke-width="0.5" stroke-linecap="round"/><path d="M473.2,117.5Q471.7,118.3 470.9,119.2L470.1,120.0" fill="none" stroke="#b0b0b0" stroke-width="0.425" stroke-linecap="round"/><path d="M480.0,118.7Q478.4,122.4 478.4,123.5Q478.4,124.7 477.7,126.4Q477.0,128.0 476.8,129.6Q476.5,131.1 476.2,132.9Q475.9,134.6 475.3,135.8L474.8,137.0" fill="none" stroke="#b0b0b0" stroke-width="0.5" stroke-linecap="round"/><path d="M478.8,122.4Q477.5,123.3 476.6,123.6L475.8,124.0" fill="none" stroke="#b0b0b0" stroke-width="0.425" stroke-linecap="round"/><path d="M485.8,124.2Q486.1,126.9 486.6,128.1Q487.2,129.4 487.6,130.7L488.0,132.0" fill="none" stroke="#b0b0b0" stroke-width="0.5" stroke-linecap="round"/><path d="M487.4,130.0Q486.8,131.2 486.6,131.9L486.4,132.5" fill="none" stroke="#b0b0b0" stroke-width="0.425" stroke-linecap="round"/><path d="M474.8,111.4Q475.5,108.3 475.7,107.5Q475.8,106.7 475.9,105.3Q476.0,104.0 476.1,103.0Q476.2,102.0 476.5,101.3Q476.9,100.6 477.4,99.3L478.0,98.0" fill="none" stroke="#b0b0b0" stroke-width="0.5" stroke-linecap="round"/><path d="M475.4,107.8Q476.5,106.6 477.0,106.3L477.6,106.1" fill="none" stroke="#b0b0b0" stroke-width="0.425" stroke-linecap="round"/><path d="M420.0,122.0L425.5,127.0" fill="none" stroke="#c8c8c8" stroke-width="0.5" stroke-linecap="round"/><path d="M476.6,159.8Q485.0,162.0 489.0,163.7L493.0,165.3" fill="none" stroke="#c8c850" stroke-width="0.8" stroke-linecap="round"/><path d="M476.6,159.8Q469.0,158.0 465.5,158.0L462.0,158.0" fill="none" stroke="#c8c850" stroke-width="0.7" stroke-linecap="round"/><path d="M476.6,159.8Q474.8,162.1 474.4,163.0Q474.0,163.9 473.0,164.9Q472.0,166.0 471.4,167.0Q470.9,168.0 469.9,169.2Q468.9,170.4 468.4,171.2L468.0,172.0" fill="none" stroke="#b8b8b8" stroke-width="0.5" stroke-linecap="round"/><path d="M476.6,159.8Q476.5,162.6 477.2,163.7Q477.8,164.8 477.9,166.4Q478.0,168.0 478.6,168.9Q479.1,169.8 479.1,171.1Q479.0,172.4 479.5,173.7L480.0,175.0" fill="none" stroke="#b8b8b8" stroke-width="0.5" stroke-linecap="round"/><path d="M476.6,159.8Q478.6,162.0 480.1,163.2Q481.6,164.4 482.8,165.2Q484.0,166.0 485.1,166.6Q486.3,167.2 487.4,168.1Q488.5,169.0 489.2,170.0L490.0,171.0" fill="none" stroke="#b8b8b8" stroke-width="0.5" stroke-linecap="round"/><path d="M476.6,159.8Q474.7,160.5 473.7,160.7Q472.7,160.9 471.3,161.4Q470.0,162.0 469.1,162.5Q468.1,162.9 466.9,163.7Q465.6,164.5 464.3,164.8L463.0,165.0" fill="none" stroke="#b8b8b8" stroke-width="0.5" stroke-linecap="round"/><path d="M492.0,209.7Q493.5,209.7 494.3,209.5Q495.0,209.2 495.7,208.8Q496.5,208.4 497.2,208.2Q498.0,208.0 498.8,208.3L499.6,208.6" fill="none" stroke="#c8c8c8" stroke-width="0.63" stroke-linecap="round"/><path d="M491.9,210.6Q493.9,211.1 495.0,211.3Q496.0,211.4 497.0,211.8Q498.0,212.1 498.9,212.8Q499.8,213.4 500.7,214.2L501.5,214.9" fill="none" stroke="#c8c850" stroke-width="0.62" stroke-linecap="round"/><path d="M496.0,211.4Q496.7,212.0 496.8,212.5Q497.0,213.0 497.4,213.3L497.8,213.5" fill="none" stroke="#c8c850" stroke-width="0.56" stroke-linecap="round"/><path d="M491.7,211.1Q493.2,212.3 494.0,212.7Q494.8,213.2 495.7,213.5Q496.7,213.7 497.6,214.0Q498.6,214.2 499.3,214.8L500.1,215.4" fill="none" stroke="#c8c8c8" stroke-width="0.64" stroke-linecap="round"/><path d="M494.8,213.2Q495.9,213.0 496.4,213.1Q497.0,213.3 497.6,213.6L498.1,213.8" fill="none" stroke="#c8c8c8" stroke-width="0.56" stroke-linecap="round"/><path d="M490.7,211.9Q491.7,214.3 492.0,215.5Q492.3,216.8 492.5,218.1Q492.6,219.4 493.0,220.6Q493.3,221.9 494.1,223.0L494.9,224.0" fill="none" stroke="#c8c8c8" stroke-width="0.73" stroke-linecap="round"/><path d="M490.1,212.0Q490.4,214.0 490.5,215.0Q490.6,215.9 490.4,216.9Q490.2,217.9 489.8,218.9Q489.5,219.9 489.4,220.9L489.3,221.9" fill="none" stroke="#c8c8c8" stroke-width="0.78" stroke-linecap="round"/><path d="M489.5,219.9Q489.7,220.9 490.0,221.3Q490.3,221.6 490.9,221.9L491.5,222.1" fill="none" stroke="#c8c8c8" stroke-width="0.54" stroke-linecap="round"/><path d="M488.7,211.5Q487.8,212.3 487.4,212.8Q487.1,213.3 486.9,213.9Q486.8,214.6 486.6,215.2Q486.4,215.9 485.9,216.2L485.3,216.5" fill="none" stroke="#c8c8c8" stroke-width="0.78" stroke-linecap="round"/><path d="M488.1,210.7Q486.6,211.3 485.8,211.4Q484.9,211.5 484.1,211.7Q483.4,212.0 482.7,212.5Q482.1,213.1 481.5,213.9L480.9,214.7" fill="none" stroke="#c8c850" stroke-width="0.73" stroke-linecap="round"/><path d="M488.0,210.1Q486.2,210.5 485.2,210.5Q484.3,210.6 483.3,210.3Q482.4,210.1 481.5,209.8Q480.5,209.6 479.6,209.7L478.6,209.8" fill="none" stroke="#c8c850" stroke-width="0.73" stroke-linecap="round"/><path d="M470.0,190.0Q480.0,186.0 484.0,187.0L488.0,188.0" fill="none" stroke="#c8c8c8" stroke-width="0.5" stroke-linecap="round"/><path d="M299.0,116.0Q288.4,120.3 290.0,131.6Q295.7,124.5 299.0,116.0Z" fill="#e2e2e2" opacity="1.0"/><path d="M303.0,117.0Q300.1,126.6 308.5,132.0Q306.9,124.1 303.0,117.0Z" fill="#e0e0e0" opacity="1.0"/><path d="M300.0,118.0Q293.3,127.0 296.5,137.7Q299.2,128.0 300.0,118.0Z" fill="#e6e6e6" opacity="1.0"/><path d="M301.0,114.2Q298.5,117.5 296.8,118.3Q295.1,119.0 293.6,120.5Q292.0,122.0 290.5,123.4Q289.1,124.8 287.4,126.3Q285.8,127.7 283.9,129.4L282.0,131.0" fill="none" stroke="#b0b0b0" stroke-width="0.5" stroke-linecap="round"/><path d="M284.3,129.0Q282.0,129.7 281.0,129.8L280.0,129.9" fill="none" stroke="#b0b0b0" stroke-width="0.425" stroke-linecap="round"/><path d="M301.0,114.2Q299.2,118.0 297.9,119.9Q296.6,121.9 295.8,123.4Q295.0,125.0 293.7,126.7Q292.4,128.4 291.5,130.2Q290.7,132.0 289.3,133.9L288.0,135.8" fill="none" stroke="#b0b0b0" stroke-width="0.5" stroke-linecap="round"/><path d="M290.7,131.6Q291.0,132.9 291.1,133.9L291.2,134.9" fill="none" stroke="#b0b0b0" stroke-width="0.425" stroke-linecap="round"/><path d="M301.0,114.2Q301.3,118.3 301.4,121.1Q301.4,123.9 301.7,125.9Q302.0,128.0 302.5,129.7Q303.0,131.5 303.5,134.0Q304.0,136.6 304.0,138.3Q304.0,140.0 303.8,141.4Q303.6,142.9 304.0,143.8Q304.5,144.7 304.7,146.3L305.0,148.0" fill="none" stroke="#b0b0b0" stroke-width="0.5" stroke-linecap="round"/><path d="M304.5,143.9Q303.7,146.1 302.8,146.7L301.9,147.3" fill="none" stroke="#b0b0b0" stroke-width="0.425" stroke-linecap="round"/><path d="M301.0,114.2Q304.1,115.9 306.0,116.8Q307.8,117.8 309.9,118.9Q312.0,120.0 314.0,120.9Q316.0,121.9 317.5,123.8Q319.1,125.7 320.6,126.8L322.0,128.0" fill="none" stroke="#b0b0b0" stroke-width="0.5" stroke-linecap="round"/><path d="M305.1,116.4Q306.7,115.8 307.3,115.9L308.0,116.1" fill="none" stroke="#b0b0b0" stroke-width="0.425" stroke-linecap="round"/><path d="M301.0,114.2Q303.3,118.2 304.7,120.4Q306.2,122.5 307.1,124.2Q308.0,126.0 309.1,127.4Q310.1,128.7 311.8,130.8Q313.6,132.8 314.7,134.3L315.8,135.8" fill="none" stroke="#b0b0b0" stroke-width="0.5" stroke-linecap="round"/><path d="M313.6,133.0Q313.0,134.8 313.0,136.1L313.0,137.3" fill="none" stroke="#b0b0b0" stroke-width="0.425" stroke-linecap="round"/><path d="M301.0,114.2Q297.8,115.0 296.5,115.0Q295.3,115.1 294.2,115.0Q293.0,115.0 291.5,115.4Q290.0,115.7 289.0,115.3Q287.9,114.8 286.4,115.3L285.0,115.8" fill="none" stroke="#b0b0b0" stroke-width="0.5" stroke-linecap="round"/><path d="M297.6,114.5Q295.4,113.9 294.6,113.3L293.7,112.7" fill="none" stroke="#b0b0b0" stroke-width="0.425" stroke-linecap="round"/><path d="M301.0,114.2Q304.1,114.1 305.1,114.0Q306.1,113.9 307.6,114.0Q309.0,114.0 310.1,114.1Q311.3,114.2 312.8,114.8Q314.4,115.5 315.7,115.7L317.0,115.8" fill="none" stroke="#b0b0b0" stroke-width="0.5" stroke-linecap="round"/><path d="M312.5,114.8Q313.8,117.1 314.2,117.9L314.6,118.7" fill="none" stroke="#b0b0b0" stroke-width="0.425" stroke-linecap="round"/><path d="M292.0,122.0Q290.3,121.9 289.8,121.6Q289.4,121.3 288.2,121.2L287.0,121.0" fill="none" stroke="#b0b0b0" stroke-width="0.5" stroke-linecap="round"/><path d="M288.3,121.3Q286.8,122.4 286.1,122.5L285.5,122.6" fill="none" stroke="#b0b0b0" stroke-width="0.425" stroke-linecap="round"/><path d="M304.0,140.0Q302.1,141.3 301.0,141.3Q300.0,141.4 299.0,142.2L298.0,143.0" fill="none" stroke="#b0b0b0" stroke-width="0.5" stroke-linecap="round"/><path d="M300.7,141.6Q299.8,143.4 299.1,144.3L298.4,145.1" fill="none" stroke="#b0b0b0" stroke-width="0.425" stroke-linecap="round"/><path d="M312.0,120.0Q313.7,120.0 313.9,119.1Q314.2,118.1 315.1,118.1L316.0,118.0" fill="none" stroke="#b0b0b0" stroke-width="0.5" stroke-linecap="round"/><path d="M313.6,119.2Q313.9,118.0 314.2,117.3L314.6,116.6" fill="none" stroke="#b0b0b0" stroke-width="0.425" stroke-linecap="round"/><path d="M296.0,95.0Q295.6,91.0 296.1,89.5L296.5,88.0" fill="none" stroke="#c8c850" stroke-width="0.8" stroke-linecap="round"/><path d="M301.0,114.2Q296.9,114.7 294.3,115.6Q291.7,116.6 288.8,117.3Q286.0,118.0 284.0,118.6Q282.0,119.2 280.9,120.3Q279.8,121.4 277.9,121.7Q276.0,122.0 274.8,122.6Q273.5,123.2 272.9,124.4Q272.2,125.5 271.1,125.8L270.0,126.0" fill="none" stroke="#b4b4b4" stroke-width="0.5" stroke-linecap="round"/><path d="M296.0,115.5Q294.6,115.2 294.0,114.8L293.4,114.5" fill="none" stroke="#b4b4b4" stroke-width="0.425" stroke-linecap="round"/><path d="M294.7,115.8Q293.3,115.7 292.2,115.3L291.2,115.0" fill="none" stroke="#b4b4b4" stroke-width="0.425" stroke-linecap="round"/><path d="M301.0,114.2Q296.6,119.4 294.9,121.7Q293.2,123.9 291.6,126.0Q290.0,128.0 288.6,130.4Q287.2,132.9 285.5,134.8Q283.9,136.7 281.9,138.3Q280.0,140.0 279.8,141.3Q279.5,142.6 278.3,143.1Q277.0,143.7 276.5,144.8L276.0,146.0" fill="none" stroke="#b4b4b4" stroke-width="0.5" stroke-linecap="round"/><path d="M297.7,118.3Q295.9,119.6 294.7,119.8L293.5,120.0" fill="none" stroke="#b4b4b4" stroke-width="0.425" stroke-linecap="round"/><path d="M282.7,136.8Q282.7,138.1 282.9,139.1L283.0,140.1" fill="none" stroke="#b4b4b4" stroke-width="0.425" stroke-linecap="round"/><path d="M301.0,114.2Q299.2,119.3 299.4,122.1Q299.6,124.9 298.8,127.5Q298.0,130.0 296.9,132.2Q295.8,134.4 295.6,136.5Q295.4,138.7 294.7,140.3Q294.0,142.0 293.6,143.1Q293.2,144.1 292.0,145.3Q290.7,146.5 290.3,148.3L290.0,150.0" fill="none" stroke="#b4b4b4" stroke-width="0.5" stroke-linecap="round"/><path d="M299.7,120.8Q300.5,122.1 300.5,122.8L300.5,123.4" fill="none" stroke="#b4b4b4" stroke-width="0.425" stroke-linecap="round"/><path d="M299.1,124.2Q300.4,126.7 300.9,127.5L301.5,128.3" fill="none" stroke="#b4b4b4" stroke-width="0.425" stroke-linecap="round"/><path d="M301.0,114.2Q304.9,119.8 305.7,122.3Q306.6,124.8 308.3,127.4Q310.0,130.0 311.0,131.7Q312.0,133.4 314.0,135.8Q315.9,138.1 317.0,140.1Q318.0,142.0 318.7,142.6Q319.4,143.1 320.2,144.9Q321.1,146.7 321.5,147.4L322.0,148.0" fill="none" stroke="#b4b4b4" stroke-width="0.5" stroke-linecap="round"/><path d="M320.6,145.8Q320.2,147.6 320.0,148.4L319.8,149.2" fill="none" stroke="#b4b4b4" stroke-width="0.425" stroke-linecap="round"/><path d="M320.4,145.7Q322.3,146.4 323.3,146.8L324.3,147.2" fill="none" stroke="#b4b4b4" stroke-width="0.425" stroke-linecap="round"/><path d="M301.0,114.2Q305.5,115.9 308.0,117.5Q310.6,119.1 313.3,120.6Q316.0,122.0 318.1,122.2Q320.2,122.3 321.1,122.5Q322.1,122.6 324.0,123.3Q326.0,124.0 327.3,124.6Q328.5,125.2 329.6,126.4Q330.7,127.5 331.3,128.8L332.0,130.0" fill="none" stroke="#b4b4b4" stroke-width="0.5" stroke-linecap="round"/><path d="M312.7,120.3Q313.5,121.3 313.7,122.0L313.9,122.7" fill="none" stroke="#b4b4b4" stroke-width="0.425" stroke-linecap="round"/><path d="M309.8,118.8Q311.9,119.0 313.1,118.9L314.3,118.8" fill="none" stroke="#b4b4b4" stroke-width="0.425" stroke-linecap="round"/><path d="M282.0,131.0Q280.6,132.9 279.3,133.2Q278.0,133.5 277.0,133.8L276.0,134.0" fill="none" stroke="#b4b4b4" stroke-width="0.5" stroke-linecap="round"/><path d="M278.8,132.6Q277.7,134.3 277.5,135.3L277.3,136.3" fill="none" stroke="#b4b4b4" stroke-width="0.425" stroke-linecap="round"/><path d="M277.7,133.1Q276.7,135.7 276.4,136.5L276.1,137.3" fill="none" stroke="#b4b4b4" stroke-width="0.425" stroke-linecap="round"/><path d="M322.0,128.0Q324.9,130.2 325.0,131.6Q325.2,133.1 326.6,134.6L328.0,136.0" fill="none" stroke="#b4b4b4" stroke-width="0.5" stroke-linecap="round"/><path d="M324.4,131.3Q326.5,132.1 327.5,132.5L328.5,132.9" fill="none" stroke="#b4b4b4" stroke-width="0.425" stroke-linecap="round"/><path d="M326.3,133.8Q327.6,134.4 328.4,134.3L329.3,134.3" fill="none" stroke="#b4b4b4" stroke-width="0.425" stroke-linecap="round"/><path d="M290.0,126.0Q281.7,128.1 281.0,136.7Q286.3,132.0 290.0,126.0Z" fill="#e4e4e4" opacity="1.0"/><path d="M312.0,126.0Q312.7,134.6 321.0,136.7Q317.3,130.7 312.0,126.0Z" fill="#e4e4e4" opacity="1.0"/><path d="M288.0,133.0Q283.9,134.1 284.1,137.7Q286.5,135.6 288.0,133.0Z" fill="#c0c0c0" opacity="1.0"/><path d="M314.0,134.0Q313.8,137.6 317.9,138.7Q316.4,136.1 314.0,134.0Z" fill="#c8c8c8" opacity="1.0"/><path d="M352.0,110.0Q356.0,100.0 359.0,98.5L362.0,97.0" fill="none" stroke="#c8c8c8" stroke-width="0.5" stroke-linecap="round"/><path d="M352.0,110.0Q348.0,116.0 349.0,120.0L350.0,124.0" fill="none" stroke="#c8c8c8" stroke-width="0.5" stroke-linecap="round"/><path d="M352.0,110.0Q362.0,112.0 365.0,110.0L368.0,108.0" fill="none" stroke="#c8c8c8" stroke-width="0.5" stroke-linecap="round"/><path d="M355.0,140.0Q348.0,145.0 345.0,145.5L342.0,146.0" fill="none" stroke="#c8c8c8" stroke-width="0.5" stroke-linecap="round"/><path d="M355.0,140.0Q365.0,142.0 367.5,145.0L370.0,148.0" fill="none" stroke="#c8c8c8" stroke-width="0.5" stroke-linecap="round"/><path d="M355.0,140.0Q357.0,150.0 354.5,153.0L352.0,156.0" fill="none" stroke="#c8c8c8" stroke-width="0.5" stroke-linecap="round"/><path d="M413.0,122.0Q405.0,118.0 400.0,117.0L395.0,116.0" fill="none" stroke="#c8c8c8" stroke-width="0.5" stroke-linecap="round"/><path d="M413.0,122.0Q416.0,130.0 413.0,134.0Q410.0,138.0 405.0,139.0L400.0,140.0" fill="none" stroke="#c8c8c8" stroke-width="0.5" stroke-linecap="round"/><path d="M416.0,130.0Q425.0,133.0 428.5,131.5L432.0,130.0" fill="none" stroke="#c8c8c8" stroke-width="0.5" stroke-linecap="round"/><path d="M413.0,122.0Q418.0,114.0 420.0,109.0L422.0,104.0" fill="none" stroke="#d0d0d0" stroke-width="0.4" stroke-linecap="round"/><path d="M408.0,100.0L405.0,93.0" fill="none" stroke="#d0d0d0" stroke-width="0.4" stroke-linecap="round"/><path d="M405.0,152.0Q406.0,160.0 405.0,164.0L404.0,168.0" fill="none" stroke="#c8c8c8" stroke-width="0.5" stroke-linecap="round"/><path d="M405.0,152.0L402.0,145.0" fill="none" stroke="#d0d0d0" stroke-width="0.4" stroke-linecap="round"/><path d="M226.0,178.0Q228.7,179.0 230.2,179.7Q231.7,180.3 233.3,180.7Q235.0,181.0 236.5,181.4Q238.1,181.7 240.1,182.0Q242.1,182.2 243.5,182.6Q245.0,183.0 247.1,183.4Q249.1,183.9 250.8,184.2Q252.4,184.5 254.2,184.7Q256.0,185.0 258.5,185.2Q261.0,185.4 263.6,185.6Q266.3,185.9 268.5,186.2L270.7,186.5" fill="none" stroke="#a8a8a8" stroke-width="0.6" stroke-linecap="round"/><path d="M237.0,181.0Q236.0,176.0 234.0,174.0L232.0,172.0" fill="none" stroke="#b0b0b0" stroke-width="0.5" stroke-linecap="round"/><path d="M246.0,183.0Q247.0,177.0 245.5,174.5L244.0,172.0" fill="none" stroke="#b0b0b0" stroke-width="0.5" stroke-linecap="round"/><path d="M252.0,184.0L254.0,178.0" fill="none" stroke="#b8b8b8" stroke-width="0.5" stroke-linecap="round"/><path d="M247.0,176.0Q252.3,173.1 252.0,168.2Q248.9,171.9 247.0,176.0Z" fill="#b8b8b8" opacity="1.0"/><path d="M250.0,178.0Q254.8,176.2 255.3,171.8Q252.2,174.7 250.0,178.0Z" fill="#a0a0a0" opacity="1.0"/><path d="M263.0,180.0Q272.4,175.6 268.0,168.7Q264.1,174.1 263.0,180.0Z" fill="#b8b860" opacity="1.0"/><path d="M266.0,180.0Q275.9,176.9 272.6,169.5Q267.9,174.3 266.0,180.0Z" fill="#a8a8a8" opacity="1.0"/><path d="M270.0,180.0Q280.3,178.3 278.0,170.5Q272.7,174.7 270.0,180.0Z" fill="#c8c880" opacity="1.0"/><path d="M274.0,180.0Q284.4,179.8 283.2,171.7Q277.4,175.1 274.0,180.0Z" fill="#989898" opacity="1.0"/><path d="M278.0,180.0Q288.3,181.2 288.3,173.1Q282.1,175.6 278.0,180.0Z" fill="#d0d0a0" opacity="1.0"/><path d="M270.7,186.5Q266.0,180.0 265.0,176.0L264.0,172.0" fill="none" stroke="#c8c850" stroke-width="0.8" stroke-linecap="round"/><path d="M270.7,186.5Q272.0,180.0 273.0,175.0L274.0,170.0" fill="none" stroke="#a8a838" stroke-width="0.7" stroke-linecap="round"/><path d="M270.7,186.5Q274.3,185.2 275.7,185.0Q277.1,184.8 278.6,184.4Q280.0,184.0 281.9,183.6Q283.8,183.2 285.4,182.8Q287.1,182.3 288.5,182.2Q290.0,182.0 291.6,181.5Q293.2,180.9 294.1,180.4Q295.0,179.8 296.5,179.4L298.0,179.0" fill="none" stroke="#b8b8b8" stroke-width="0.5" stroke-linecap="round"/><path d="M290.0,182.0L294.0,186.0" fill="none" stroke="#c0c0c0" stroke-width="0.5" stroke-linecap="round"/><path d="M270.9,196.2Q272.1,198.4 272.9,199.4Q273.6,200.4 274.6,201.2Q275.6,202.0 276.8,202.7Q277.9,203.4 278.9,204.2Q279.9,205.0 280.4,206.2L280.9,207.3" fill="none" stroke="#dcdcdc" stroke-width="2.16" stroke-linecap="round"/><path d="M275.9,202.0Q276.9,204.0 277.2,205.1Q277.6,206.1 277.2,207.4L276.8,208.7" fill="none" stroke="#dcdcdc" stroke-width="1.52" stroke-linecap="round"/><path d="M270.5,196.4Q271.5,199.7 271.8,201.4Q272.1,203.1 272.5,204.8Q272.9,206.5 273.6,208.0Q274.4,209.5 275.5,210.9Q276.6,212.4 277.7,213.8L278.8,215.2" fill="none" stroke="#dcdcdc" stroke-width="1.88" stroke-linecap="round"/><path d="M270.3,196.5Q270.8,199.7 271.3,201.3Q271.7,202.8 272.3,204.4Q272.8,206.0 272.9,207.6Q273.1,209.2 272.8,211.0Q272.5,212.7 272.1,214.4L271.6,216.2" fill="none" stroke="#e4e4e4" stroke-width="2.31" stroke-linecap="round"/><path d="M271.4,202.5Q270.2,204.6 270.2,205.8Q270.2,207.1 269.8,208.2L269.4,209.3" fill="none" stroke="#e4e4e4" stroke-width="1.62" stroke-linecap="round"/><path d="M270.0,196.5Q269.8,198.5 269.9,199.4Q269.9,200.4 270.3,201.4Q270.6,202.3 271.2,203.3Q271.7,204.3 272.0,205.2Q272.2,206.2 271.9,207.2L271.6,208.1" fill="none" stroke="#e4e4e4" stroke-width="1.23" stroke-linecap="round"/><path d="M270.1,200.6Q269.5,202.5 269.0,203.3Q268.6,204.2 267.5,204.7L266.4,205.2" fill="none" stroke="#e4e4e4" stroke-width="0.86" stroke-linecap="round"/><path d="M269.7,196.5Q269.0,200.0 268.5,201.7Q268.0,203.5 267.7,205.2Q267.3,207.0 267.4,208.8Q267.4,210.7 267.7,212.6Q268.1,214.4 268.3,216.3L268.5,218.2" fill="none" stroke="#e4e4e4" stroke-width="1.25" stroke-linecap="round"/><path d="M267.4,206.9Q267.9,209.9 268.4,211.3Q269.0,212.7 270.0,214.0L271.0,215.3" fill="none" stroke="#e4e4e4" stroke-width="0.88" stroke-linecap="round"/><path d="M269.5,196.4Q268.9,198.5 268.3,199.5Q267.7,200.4 267.0,201.3Q266.3,202.3 265.9,203.3Q265.4,204.3 265.4,205.4Q265.5,206.6 265.8,207.8L266.2,209.1" fill="none" stroke="#dcdcdc" stroke-width="1.78" stroke-linecap="round"/><path d="M269.2,196.3Q267.7,199.0 267.0,200.4Q266.3,201.7 265.3,202.9Q264.4,204.2 263.1,205.2Q261.8,206.2 260.6,207.2Q259.3,208.3 258.4,209.5L257.5,210.8" fill="none" stroke="#dcdcdc" stroke-width="1.38" stroke-linecap="round"/><path d="M266.2,201.5Q263.7,203.7 262.2,204.5Q260.6,205.3 259.7,206.7L258.7,208.2" fill="none" stroke="#dcdcdc" stroke-width="0.96" stroke-linecap="round"/><path d="M268.9,196.1Q267.5,197.8 266.6,198.5Q265.7,199.1 264.8,199.7Q263.8,200.3 263.0,201.1Q262.2,201.8 261.7,202.9Q261.3,204.0 261.0,205.4L260.8,206.8" fill="none" stroke="#dcdcdc" stroke-width="1.38" stroke-linecap="round"/><path d="M268.8,195.9Q266.1,197.5 264.7,198.2Q263.3,198.9 261.9,199.8Q260.6,200.6 259.5,201.7Q258.5,202.9 257.5,204.3Q256.6,205.7 255.6,206.9L254.6,208.2" fill="none" stroke="#e4e4e4" stroke-width="1.69" stroke-linecap="round"/><path d="M270.9,196.2Q272.0,198.4 272.7,199.5Q273.4,200.5 274.3,201.4Q275.3,202.2 276.4,203.0Q277.5,203.7 278.4,204.6Q279.4,205.4 279.8,206.6L280.3,207.8" fill="none" stroke="#a8a8a8" stroke-width="0.51" stroke-linecap="round"/><path d="M275.3,202.2Q276.3,204.2 276.6,205.3Q276.9,206.3 276.5,207.6L276.2,208.9" fill="none" stroke="#a8a8a8" stroke-width="0.50" stroke-linecap="round"/><path d="M270.5,196.4Q271.6,199.6 272.0,201.3Q272.3,203.0 272.8,204.7Q273.2,206.3 274.0,207.9Q274.8,209.4 276.0,210.8Q277.2,212.1 278.3,213.5L279.5,214.9" fill="none" stroke="#b8b8b8" stroke-width="0.50" stroke-linecap="round"/><path d="M270.3,196.5Q270.9,199.7 271.5,201.2Q272.0,202.8 272.6,204.3Q273.2,205.9 273.4,207.5Q273.7,209.1 273.5,210.8Q273.3,212.5 272.9,214.3L272.5,216.0" fill="none" stroke="#a8a8a8" stroke-width="0.54" stroke-linecap="round"/><path d="M272.0,202.8Q270.9,204.9 270.9,206.1Q270.9,207.4 270.5,208.5L270.1,209.6" fill="none" stroke="#a8a8a8" stroke-width="0.39" stroke-linecap="round"/><path d="M270.9,207.4Q268.2,208.7 268.3,211.0Q269.9,209.3 270.9,207.4Z" fill="#909090" opacity="1.0"/><path d="M273.7,209.1Q271.3,211.9 272.4,214.3Q273.4,211.7 273.7,209.1Z" fill="#a0a0a0" opacity="1.0"/><path d="M270.0,196.5Q269.8,198.5 269.8,199.4Q269.8,200.4 270.1,201.4Q270.4,202.3 270.9,203.3Q271.4,204.3 271.6,205.2Q271.8,206.2 271.5,207.2L271.1,208.2" fill="none" stroke="#a8a8a8" stroke-width="0.55" stroke-linecap="round"/><path d="M269.8,200.4Q269.1,202.3 268.7,203.2Q268.3,204.0 267.2,204.5L266.1,205.0" fill="none" stroke="#a8a8a8" stroke-width="0.48" stroke-linecap="round"/><path d="M268.3,204.0Q265.7,204.8 265.6,206.8Q267.2,205.5 268.3,204.0Z" fill="#b0b0b0" opacity="1.0"/><path d="M271.4,204.3Q270.3,207.1 271.4,209.9Q271.6,207.0 271.4,204.3Z" fill="#c0c0c0" opacity="1.0"/><path d="M269.7,196.5Q269.0,200.0 268.4,201.7Q267.9,203.5 267.5,205.2Q267.1,207.0 267.1,208.8Q267.1,210.6 267.4,212.5Q267.7,214.4 267.8,216.2L268.0,218.1" fill="none" stroke="#b8b8b8" stroke-width="0.68" stroke-linecap="round"/><path d="M267.1,207.0Q267.5,210.0 268.0,211.4Q268.6,212.8 269.6,214.1L270.6,215.4" fill="none" stroke="#b8b8b8" stroke-width="0.46" stroke-linecap="round"/><path d="M269.5,196.4Q269.0,198.5 268.5,199.5Q267.9,200.5 267.3,201.4Q266.7,202.4 266.3,203.4Q265.9,204.4 265.9,205.6Q266.0,206.7 266.4,208.0L266.8,209.3" fill="none" stroke="#b8b8b8" stroke-width="0.65" stroke-linecap="round"/><path d="M265.9,204.4Q264.5,206.1 265.6,208.7Q265.9,206.7 265.9,204.4Z" fill="#909090" opacity="1.0"/><path d="M269.2,196.3Q267.8,199.0 267.1,200.4Q266.5,201.8 265.5,203.1Q264.6,204.3 263.4,205.4Q262.1,206.4 260.9,207.4Q259.7,208.5 258.8,209.8L258.0,211.1" fill="none" stroke="#a8a8a8" stroke-width="0.45" stroke-linecap="round"/><path d="M266.5,201.8Q264.0,204.1 262.4,204.8Q260.9,205.6 259.9,207.1L259.0,208.5" fill="none" stroke="#a8a8a8" stroke-width="0.42" stroke-linecap="round"/><path d="M260.9,205.6Q258.4,206.2 257.5,208.7Q259.4,207.4 260.9,205.6Z" fill="#a0a0a0" opacity="1.0"/><path d="M262.1,206.4Q260.3,206.9 260.3,208.9Q261.4,207.8 262.1,206.4Z" fill="#b0b0b0" opacity="1.0"/><path d="M268.9,196.1Q267.5,197.7 266.5,198.4Q265.6,199.0 264.6,199.6Q263.6,200.1 262.7,200.8Q261.9,201.6 261.4,202.7Q260.9,203.7 260.7,205.1L260.5,206.4" fill="none" stroke="#b8b8b8" stroke-width="0.52" stroke-linecap="round"/><path d="M268.8,195.9Q266.2,197.6 264.8,198.4Q263.4,199.1 262.1,200.0Q260.8,200.9 259.8,202.1Q258.7,203.3 257.8,204.7Q257.0,206.1 256.0,207.4L255.0,208.7" fill="none" stroke="#a8a8a8" stroke-width="0.65" stroke-linecap="round"/><path d="M270.0,195.0Q269.1,197.7 268.0,199.7Q267.0,201.7 266.5,203.4Q266.0,205.0 265.2,206.5Q264.4,208.0 264.0,208.9Q263.5,209.8 263.4,211.4L263.4,213.0" fill="none" stroke="#b0b0b0" stroke-width="0.5" stroke-linecap="round"/><path d="M268.7,198.2Q269.3,198.9 269.4,199.8L269.5,200.7" fill="none" stroke="#b0b0b0" stroke-width="0.425" stroke-linecap="round"/><path d="M266.8,203.0Q265.7,204.0 264.6,204.1L263.6,204.3" fill="none" stroke="#b0b0b0" stroke-width="0.425" stroke-linecap="round"/><path d="M274.0,196.0Q274.4,198.6 274.7,200.4Q275.1,202.2 275.1,204.1Q275.0,206.0 274.7,207.3Q274.5,208.5 273.7,210.7Q273.0,212.8 272.7,214.4L272.5,216.0" fill="none" stroke="#b0b0b0" stroke-width="0.5" stroke-linecap="round"/><path d="M274.6,201.9Q273.3,203.6 273.1,204.7L273.0,205.8" fill="none" stroke="#b0b0b0" stroke-width="0.425" stroke-linecap="round"/><path d="M274.6,202.4Q273.7,204.1 273.4,204.6L273.1,205.2" fill="none" stroke="#b0b0b0" stroke-width="0.425" stroke-linecap="round"/><path d="M278.0,196.0Q279.8,200.0 280.6,201.6Q281.3,203.3 282.2,205.2Q283.0,207.0 283.4,208.8Q283.8,210.5 284.2,211.4Q284.6,212.4 285.3,214.2L286.0,216.0" fill="none" stroke="#b0b0b0" stroke-width="0.5" stroke-linecap="round"/><path d="M284.1,210.4Q283.3,212.3 283.2,213.6L283.0,214.9" fill="none" stroke="#b0b0b0" stroke-width="0.425" stroke-linecap="round"/><path d="M280.9,202.5Q282.3,202.8 283.4,203.2L284.6,203.6" fill="none" stroke="#b0b0b0" stroke-width="0.425" stroke-linecap="round"/><path d="M282.0,195.0Q286.0,198.6 287.0,199.6Q287.9,200.6 290.0,202.3Q292.0,204.0 292.8,205.9Q293.6,207.7 294.8,209.2Q296.0,210.8 297.0,212.4L298.0,214.0" fill="none" stroke="#b0b0b0" stroke-width="0.5" stroke-linecap="round"/><path d="M289.3,201.5Q290.2,201.9 291.1,202.2L292.0,202.4" fill="none" stroke="#b0b0b0" stroke-width="0.425" stroke-linecap="round"/><path d="M287.9,200.3Q289.8,200.5 291.1,200.5L292.5,200.5" fill="none" stroke="#b0b0b0" stroke-width="0.425" stroke-linecap="round"/><path d="M283.4,196.4Q285.7,196.9 286.8,197.4Q287.8,197.9 288.8,198.7Q289.8,199.4 290.8,200.0Q291.8,200.7 293.0,200.9Q294.1,201.0 295.4,200.7L296.7,200.4" fill="none" stroke="#e4e4e4" stroke-width="1.87" stroke-linecap="round"/><path d="M294.0,201.0Q295.3,202.1 296.3,202.2Q297.2,202.2 297.9,202.9L298.5,203.5" fill="none" stroke="#e4e4e4" stroke-width="1.31" stroke-linecap="round"/><path d="M283.3,196.7Q285.7,198.4 286.8,199.4Q287.9,200.3 289.1,201.0Q290.4,201.8 291.8,202.2Q293.2,202.6 294.7,202.8Q296.3,203.0 297.6,203.5L299.0,204.0" fill="none" stroke="#e4e4e4" stroke-width="1.32" stroke-linecap="round"/><path d="M283.2,196.9Q284.8,198.4 285.8,199.0Q286.7,199.5 287.8,199.9Q288.9,200.3 289.9,200.8Q290.9,201.3 291.6,202.1Q292.4,203.0 292.8,204.3L293.2,205.5" fill="none" stroke="#e4e4e4" stroke-width="1.39" stroke-linecap="round"/><path d="M286.4,199.6Q287.8,201.1 288.2,202.0Q288.6,202.8 288.5,204.0L288.4,205.2" fill="none" stroke="#e4e4e4" stroke-width="0.97" stroke-linecap="round"/><path d="M282.8,197.3Q284.2,199.7 284.9,200.9Q285.5,202.2 286.4,203.3Q287.3,204.4 288.5,205.2Q289.7,206.1 291.0,207.0Q292.2,207.8 293.1,209.0L293.9,210.1" fill="none" stroke="#e4e4e4" stroke-width="1.18" stroke-linecap="round"/><path d="M282.7,197.3Q284.1,199.2 284.7,200.2Q285.3,201.1 285.5,202.3Q285.8,203.4 286.0,204.6Q286.2,205.8 286.6,206.9Q287.0,208.0 288.0,208.7L289.0,209.5" fill="none" stroke="#e4e4e4" stroke-width="1.15" stroke-linecap="round"/><path d="M285.3,200.9Q286.4,202.1 287.1,202.4Q287.9,202.8 288.9,202.7L289.9,202.5" fill="none" stroke="#e4e4e4" stroke-width="0.80" stroke-linecap="round"/><path d="M283.4,196.4Q285.7,196.8 286.8,197.3Q287.9,197.7 288.9,198.4Q289.9,199.1 290.9,199.6Q292.0,200.2 293.1,200.3Q294.3,200.5 295.6,200.1L296.9,199.7" fill="none" stroke="#b8b8b8" stroke-width="0.69" stroke-linecap="round"/><path d="M294.3,200.5Q295.6,201.6 296.6,201.7Q297.6,201.8 298.2,202.4L298.8,203.0" fill="none" stroke="#b8b8b8" stroke-width="0.36" stroke-linecap="round"/><path d="M283.3,196.7Q285.7,198.3 286.8,199.2Q288.0,200.1 289.2,200.9Q290.5,201.6 291.9,201.9Q293.4,202.3 294.9,202.5Q296.5,202.7 297.9,203.1L299.3,203.5" fill="none" stroke="#a8a8a8" stroke-width="0.51" stroke-linecap="round"/><path d="M283.2,196.9Q284.9,198.3 285.8,198.9Q286.8,199.4 287.9,199.7Q289.0,200.1 290.1,200.5Q291.1,201.0 291.9,201.8Q292.6,202.6 293.1,203.9L293.6,205.1" fill="none" stroke="#a8a8a8" stroke-width="0.63" stroke-linecap="round"/><path d="M286.8,199.4Q288.2,200.8 288.6,201.7Q288.9,202.6 288.9,203.8L288.8,205.0" fill="none" stroke="#a8a8a8" stroke-width="0.41" stroke-linecap="round"/><path d="M291.1,201.0Q291.3,204.6 294.0,204.6Q292.8,202.4 291.1,201.0Z" fill="#c0c0c0" opacity="1.0"/><path d="M282.8,197.3Q284.1,199.7 284.8,201.0Q285.4,202.3 286.3,203.4Q287.1,204.5 288.3,205.4Q289.5,206.3 290.7,207.2Q291.9,208.1 292.7,209.2L293.6,210.3" fill="none" stroke="#b8b8b8" stroke-width="0.62" stroke-linecap="round"/><path d="M289.5,206.3Q290.9,209.3 294.2,210.7Q292.0,208.3 289.5,206.3Z" fill="#909090" opacity="1.0"/><path d="M282.7,197.3Q284.1,199.2 284.6,200.2Q285.1,201.2 285.4,202.4Q285.6,203.5 285.8,204.8Q285.9,206.0 286.3,207.1Q286.7,208.1 287.6,208.9L288.6,209.7" fill="none" stroke="#b8b8b8" stroke-width="0.46" stroke-linecap="round"/><path d="M285.1,201.2Q286.2,202.4 286.9,202.7Q287.7,203.1 288.7,203.0L289.7,202.8" fill="none" stroke="#b8b8b8" stroke-width="0.54" stroke-linecap="round"/><path d="M345.7,197.7Q342.9,194.1 342.1,191.8Q341.3,189.4 340.0,187.6Q338.7,185.7 337.7,184.0Q336.7,182.3 335.8,180.8Q334.9,179.4 333.8,177.5Q332.7,175.7 332.2,174.7Q331.7,173.6 331.9,173.1Q332.1,172.6 331.7,171.8Q331.2,171.1 330.9,169.6Q330.7,168.0 330.1,167.2Q329.5,166.4 329.1,165.1Q328.7,163.7 328.4,163.2Q328.0,162.7 328.3,161.4Q328.5,160.1 328.1,159.6L327.7,159.1" fill="none" stroke="#e4e4e4" stroke-width="1.6" stroke-linecap="round"/><path d="M345.0,197.0Q342.2,193.4 341.4,191.1Q340.6,188.7 339.3,186.9Q338.0,185.0 337.0,183.3Q336.0,181.6 335.1,180.1Q334.2,178.7 333.1,176.8Q332.0,175.0 331.5,174.0Q331.0,172.9 331.2,172.4Q331.4,171.9 331.0,171.1Q330.5,170.4 330.2,168.9Q330.0,167.3 329.4,166.5Q328.8,165.7 328.4,164.4Q328.0,163.0 327.7,162.5Q327.3,162.0 327.6,160.7Q327.8,159.4 327.4,158.9L327.0,158.4" fill="none" stroke="#a8a8a8" stroke-width="0.55" stroke-linecap="round"/><path d="M345.7,197.7Q343.2,195.2 341.2,193.2Q339.2,191.2 337.9,190.0Q336.7,188.7 335.9,188.2Q335.1,187.6 334.0,186.7Q332.9,185.8 331.8,185.3Q330.7,184.7 330.0,184.2Q329.3,183.7 328.5,182.9Q327.7,182.1 326.9,181.7L326.1,181.4" fill="none" stroke="#e4e4e4" stroke-width="1.6" stroke-linecap="round"/><path d="M345.0,197.0Q342.5,194.5 340.5,192.5Q338.5,190.5 337.2,189.3Q336.0,188.0 335.2,187.5Q334.4,186.9 333.3,186.0Q332.2,185.1 331.1,184.6Q330.0,184.0 329.3,183.5Q328.6,183.0 327.8,182.2Q327.0,181.4 326.2,181.0L325.4,180.7" fill="none" stroke="#a8a8a8" stroke-width="0.55" stroke-linecap="round"/><path d="M345.7,197.7Q348.7,194.4 350.5,192.8Q352.2,191.2 354.0,189.4Q355.7,187.7 356.9,186.3Q358.2,184.8 359.0,184.1Q359.8,183.4 361.2,182.1Q362.7,180.7 363.2,179.5Q363.7,178.4 364.9,177.5Q366.0,176.7 366.3,175.7L366.7,174.7" fill="none" stroke="#e4e4e4" stroke-width="1.6" stroke-linecap="round"/><path d="M345.0,197.0Q348.0,193.7 349.8,192.1Q351.5,190.5 353.3,188.7Q355.0,187.0 356.2,185.6Q357.5,184.1 358.3,183.4Q359.1,182.7 360.5,181.4Q362.0,180.0 362.5,178.8Q363.0,177.7 364.2,176.8Q365.3,176.0 365.6,175.0L366.0,174.0" fill="none" stroke="#a8a8a8" stroke-width="0.55" stroke-linecap="round"/><path d="M345.7,197.7Q342.8,199.7 341.5,200.6Q340.1,201.6 338.4,202.1Q336.7,202.7 335.2,203.5Q333.7,204.2 331.6,204.4Q329.5,204.7 328.1,205.2Q326.7,205.7 325.6,205.6Q324.6,205.5 323.2,205.1Q321.8,204.6 320.3,204.6L318.7,204.7" fill="none" stroke="#e4e4e4" stroke-width="1.6" stroke-linecap="round"/><path d="M345.0,197.0Q342.1,199.0 340.8,199.9Q339.4,200.9 337.7,201.4Q336.0,202.0 334.5,202.8Q333.0,203.5 330.9,203.7Q328.8,204.0 327.4,204.5Q326.0,205.0 324.9,204.9Q323.9,204.8 322.5,204.4Q321.1,203.9 319.6,203.9L318.0,204.0" fill="none" stroke="#a8a8a8" stroke-width="0.55" stroke-linecap="round"/><path d="M345.7,197.7Q344.4,201.4 343.4,202.8Q342.3,204.1 341.5,205.9Q340.7,207.7 339.6,209.1Q338.4,210.6 337.9,212.0Q337.3,213.3 336.5,214.5Q335.7,215.7 335.1,217.0Q334.5,218.3 334.0,219.4Q333.4,220.6 333.1,221.5L332.7,222.5" fill="none" stroke="#e4e4e4" stroke-width="1.6" stroke-linecap="round"/><path d="M345.0,197.0Q343.7,200.7 342.7,202.1Q341.6,203.4 340.8,205.2Q340.0,207.0 338.9,208.4Q337.7,209.9 337.2,211.3Q336.6,212.6 335.8,213.8Q335.0,215.0 334.4,216.3Q333.8,217.6 333.3,218.7Q332.7,219.9 332.4,220.8L332.0,221.8" fill="none" stroke="#a8a8a8" stroke-width="0.55" stroke-linecap="round"/><path d="M345.7,197.7Q345.2,200.3 345.2,201.7Q345.2,203.2 345.0,204.9Q344.7,206.7 344.6,207.6Q344.4,208.5 344.0,209.6Q343.5,210.7 343.6,211.7Q343.7,212.7 343.3,213.4Q343.0,214.2 342.9,214.7Q342.9,215.3 343.0,216.3L343.2,217.3" fill="none" stroke="#e4e4e4" stroke-width="1.6" stroke-linecap="round"/><path d="M345.0,197.0Q344.5,199.6 344.5,201.0Q344.5,202.5 344.3,204.2Q344.0,206.0 343.9,206.9Q343.7,207.8 343.3,208.9Q342.8,210.0 342.9,211.0Q343.0,212.0 342.6,212.7Q342.3,213.5 342.2,214.0Q342.2,214.6 342.3,215.6L342.5,216.6" fill="none" stroke="#a8a8a8" stroke-width="0.55" stroke-linecap="round"/><path d="M345.7,197.7Q347.0,201.6 347.8,203.1Q348.6,204.6 349.6,206.2Q350.7,207.7 351.1,208.7Q351.5,209.7 352.8,210.9Q354.0,212.0 354.3,213.4Q354.7,214.7 355.1,215.7Q355.5,216.7 355.8,217.7Q356.0,218.7 356.3,219.7L356.7,220.7" fill="none" stroke="#e4e4e4" stroke-width="1.6" stroke-linecap="round"/><path d="M345.0,197.0Q346.3,200.9 347.1,202.4Q347.9,203.9 348.9,205.5Q350.0,207.0 350.4,208.0Q350.8,209.0 352.1,210.2Q353.3,211.3 353.6,212.7Q354.0,214.0 354.4,215.0Q354.8,216.0 355.1,217.0Q355.3,218.0 355.6,219.0L356.0,220.0" fill="none" stroke="#a8a8a8" stroke-width="0.55" stroke-linecap="round"/><path d="M345.7,197.7Q349.3,199.2 351.0,200.3Q352.6,201.5 354.6,202.1Q356.7,202.7 357.6,203.4Q358.4,204.0 360.1,204.5Q361.8,204.9 362.8,205.8Q363.7,206.7 364.6,207.4Q365.4,208.1 366.0,208.6Q366.5,209.1 367.6,209.8L368.7,210.5" fill="none" stroke="#e4e4e4" stroke-width="1.6" stroke-linecap="round"/><path d="M345.0,197.0Q348.6,198.5 350.3,199.6Q351.9,200.8 353.9,201.4Q356.0,202.0 356.9,202.7Q357.7,203.3 359.4,203.8Q361.1,204.2 362.1,205.1Q363.0,206.0 363.9,206.7Q364.7,207.4 365.3,207.9Q365.8,208.4 366.9,209.1L368.0,209.8" fill="none" stroke="#a8a8a8" stroke-width="0.55" stroke-linecap="round"/><path d="M332.0,175.0Q330.1,175.2 329.1,175.3Q328.1,175.3 327.0,175.7L326.0,176.0" fill="none" stroke="#a8a8a8" stroke-width="0.55" stroke-linecap="round"/><path d="M362.0,180.0Q363.9,179.4 365.2,179.0Q366.5,178.6 367.3,178.3L368.0,178.0" fill="none" stroke="#a8a8a8" stroke-width="0.55" stroke-linecap="round"/><path d="M330.0,184.0Q328.0,185.5 327.1,185.9Q326.2,186.2 325.1,187.1L324.0,188.0" fill="none" stroke="#a8a8a8" stroke-width="0.55" stroke-linecap="round"/><path d="M345.0,197.0Q340.7,201.1 338.9,203.4Q337.1,205.8 335.6,207.9Q334.0,210.0 332.8,211.4Q331.7,212.7 330.2,214.3Q328.7,215.8 327.4,216.9Q326.0,218.0 325.2,219.3Q324.4,220.6 323.0,221.7Q321.6,222.7 320.8,224.4L320.0,226.0" fill="none" stroke="#b0b0b0" stroke-width="0.5" stroke-linecap="round"/><path d="M338.9,204.2Q337.3,204.9 336.3,205.3L335.2,205.7" fill="none" stroke="#b0b0b0" stroke-width="0.425" stroke-linecap="round"/><path d="M321.5,224.0Q321.5,225.5 321.7,226.6L321.9,227.7" fill="none" stroke="#b0b0b0" stroke-width="0.425" stroke-linecap="round"/><path d="M332.0,221.8Q330.7,223.9 329.8,225.3Q328.9,226.6 328.5,227.3L328.0,228.0" fill="none" stroke="#b0b0b0" stroke-width="0.5" stroke-linecap="round"/><path d="M329.7,225.4Q330.5,227.2 330.8,228.6L331.1,230.0" fill="none" stroke="#b0b0b0" stroke-width="0.425" stroke-linecap="round"/><path d="M329.8,225.2Q330.2,227.0 330.1,227.4L330.0,227.8" fill="none" stroke="#b0b0b0" stroke-width="0.425" stroke-linecap="round"/><path d="M345.0,197.0Q346.6,202.6 347.9,204.6Q349.2,206.5 350.6,209.3Q352.0,212.0 353.3,213.8Q354.7,215.5 356.4,216.9Q358.1,218.3 359.1,220.2L360.0,222.0" fill="none" stroke="#b0b0b0" stroke-width="0.5" stroke-linecap="round"/><path d="M349.5,206.7Q351.3,208.0 352.0,208.1L352.6,208.3" fill="none" stroke="#b0b0b0" stroke-width="0.425" stroke-linecap="round"/><path d="M356.2,217.3Q357.7,218.4 358.6,218.5L359.5,218.6" fill="none" stroke="#b0b0b0" stroke-width="0.425" stroke-linecap="round"/><path d="M318.0,204.0Q316.1,205.9 315.1,207.0Q314.1,208.0 313.1,209.0L312.0,210.0" fill="none" stroke="#b0b0b0" stroke-width="0.5" stroke-linecap="round"/><path d="M313.5,208.5Q312.9,210.7 312.9,212.0L312.8,213.2" fill="none" stroke="#b0b0b0" stroke-width="0.425" stroke-linecap="round"/><path d="M313.7,208.3Q312.9,209.2 312.9,210.0L312.9,210.8" fill="none" stroke="#b0b0b0" stroke-width="0.425" stroke-linecap="round"/><path d="M340.0,194.0Q333.7,188.5 326.3,190.9Q333.0,193.2 340.0,194.0Z" fill="#d8d890" opacity="1.0"/><path d="M338.0,196.0Q331.9,192.1 326.0,195.2Q332.0,196.3 338.0,196.0Z" fill="#c8c870" opacity="1.0"/><path d="M350.0,197.0Q355.9,201.1 361.1,197.2Q355.5,196.3 350.0,197.0Z" fill="#d0d080" opacity="1.0"/><path d="M352.0,199.0Q356.0,203.2 360.7,201.4Q356.5,199.6 352.0,199.0Z" fill="#b8b860" opacity="1.0"/><path d="M343.0,190.0Q345.9,185.9 343.0,182.9Q342.4,186.6 343.0,190.0Z" fill="#c0c070" opacity="1.0"/><path d="M346.0,202.0Q342.1,205.2 344.2,208.9Q345.7,205.5 346.0,202.0Z" fill="#c8c880" opacity="1.0"/><path d="M364.0,176.0Q368.9,177.5 370.8,173.8Q367.1,174.4 364.0,176.0Z" fill="#a8a8a8" opacity="1.0"/><path d="M349.0,208.0Q347.1,212.2 351.2,215.8Q350.7,211.9 349.0,208.0Z" fill="#a0a0a0" opacity="1.0"/><path d="M322.0,195.0Q318.5,192.0 315.0,194.0Q318.5,195.0 322.0,195.0Z" fill="#c8c8c8" opacity="1.0"/><path d="M330.0,168.0Q331.3,163.8 328.5,161.1Q328.9,164.7 330.0,168.0Z" fill="#b8b8b8" opacity="1.0"/><path d="M350.0,200.0Q382.0,183.0 413.0,192.0" fill="none" stroke="#b0b0b0" stroke-width="0.6"/><path d="M415.0,193.0Q411.0,191.3 409.8,190.5Q408.6,189.8 406.8,189.4Q405.0,189.0 403.8,188.4Q402.5,187.8 400.4,187.4Q398.3,187.1 397.2,186.7L396.0,186.3" fill="none" stroke="#8c8c8c" stroke-width="0.5" stroke-linecap="round"/><path d="M415.0,193.0Q417.7,191.4 419.3,190.7Q421.0,190.0 423.0,189.5Q425.0,189.0 427.1,188.5Q429.2,187.9 430.9,187.3Q432.6,186.7 434.6,185.8L436.5,185.0" fill="none" stroke="#8c8c8c" stroke-width="0.5" stroke-linecap="round"/><path d="M415.0,193.0Q418.4,194.5 419.6,194.9Q420.9,195.2 422.4,196.1Q424.0,197.0 425.8,198.5Q427.6,199.9 429.1,201.0Q430.6,202.0 432.3,202.9L434.0,203.8" fill="none" stroke="#8c8c8c" stroke-width="0.5" stroke-linecap="round"/><path d="M415.0,193.0Q415.1,197.1 415.8,198.5Q416.5,199.9 416.7,202.0Q417.0,204.0 417.3,205.8Q417.6,207.7 417.8,209.4Q417.9,211.2 417.8,212.9L417.7,214.6" fill="none" stroke="#8c8c8c" stroke-width="0.5" stroke-linecap="round"/><path d="M415.0,193.0Q412.5,195.8 411.5,197.5Q410.5,199.2 409.2,201.1Q408.0,203.0 406.7,204.5Q405.3,206.1 404.1,207.6Q402.9,209.2 401.5,211.1Q400.0,213.0 398.8,214.3Q397.6,215.6 395.4,217.7Q393.3,219.7 392.0,221.2L390.8,222.7" fill="none" stroke="#8c8c8c" stroke-width="0.5" stroke-linecap="round"/><path d="M415.0,193.0Q416.6,195.6 417.5,196.7Q418.4,197.7 419.2,198.8Q420.0,200.0 421.6,201.5Q423.1,202.9 424.6,204.8Q426.0,206.7 427.0,208.3Q428.0,210.0 428.4,211.5Q428.8,213.0 429.5,214.5Q430.3,216.0 431.1,217.0L432.0,218.0" fill="none" stroke="#8c8c8c" stroke-width="0.5" stroke-linecap="round"/><path d="M405.0,189.0Q402.0,190.7 401.3,192.1Q400.7,193.5 399.3,194.2Q398.0,195.0 397.3,196.5Q396.6,198.0 395.1,198.7Q393.6,199.3 392.8,200.7L392.0,202.0" fill="none" stroke="#8c8c8c" stroke-width="0.5" stroke-linecap="round"/><path d="M400.0,213.0Q397.3,213.6 396.3,213.4Q395.2,213.3 393.6,213.6L392.0,214.0" fill="none" stroke="#8c8c8c" stroke-width="0.5" stroke-linecap="round"/><path d="M428.0,210.0Q426.4,213.1 425.5,214.4Q424.7,215.7 424.4,216.9L424.0,218.0" fill="none" stroke="#8c8c8c" stroke-width="0.5" stroke-linecap="round"/><path d="M415.0,193.0Q414.1,189.7 413.9,188.5Q413.7,187.4 412.8,186.2Q412.0,185.0 411.8,184.1Q411.5,183.2 411.0,182.9Q410.5,182.6 410.2,181.8L410.0,181.0" fill="none" stroke="#8c8c8c" stroke-width="0.5" stroke-linecap="round"/><path d="M425.0,189.0Q426.5,191.3 427.6,192.1Q428.7,192.9 429.3,193.9L430.0,195.0" fill="none" stroke="#8c8c8c" stroke-width="0.5" stroke-linecap="round"/><path d="M396.0,186.3Q392.8,187.2 390.7,187.6Q388.7,188.0 387.3,188.0Q386.0,188.0 384.8,189.3Q383.5,190.5 382.3,191.5Q381.2,192.4 379.6,193.7L378.0,195.0" fill="none" stroke="#8c8c8c" stroke-width="0.5" stroke-linecap="round"/><path d="M415.0,193.0Q419.1,194.2 420.5,195.1Q421.9,196.0 424.0,197.0Q426.0,198.0 427.9,199.2Q429.8,200.3 432.1,201.3Q434.3,202.2 436.2,203.6Q438.0,205.0 439.7,206.4Q441.3,207.8 442.2,209.2Q443.2,210.5 444.6,212.3L446.0,214.0" fill="none" stroke="#909090" stroke-width="0.5" stroke-linecap="round"/><path d="M443.5,211.1Q445.5,211.3 446.6,211.7L447.7,212.1" fill="none" stroke="#909090" stroke-width="0.425" stroke-linecap="round"/><path d="M417.7,214.6Q416.1,216.4 415.5,218.2Q414.9,220.0 414.4,221.0Q414.0,222.0 413.1,223.2Q412.2,224.4 411.7,225.2Q411.1,225.9 410.6,227.0L410.0,228.0" fill="none" stroke="#909090" stroke-width="0.5" stroke-linecap="round"/><path d="M415.8,218.4Q413.6,219.9 412.8,220.4L412.0,220.8" fill="none" stroke="#909090" stroke-width="0.425" stroke-linecap="round"/><path d="M390.8,222.7Q389.0,224.0 387.5,224.8Q386.0,225.5 385.0,226.7L384.0,228.0" fill="none" stroke="#909090" stroke-width="0.5" stroke-linecap="round"/><path d="M388.0,224.9Q386.1,225.6 385.2,225.7L384.4,225.8" fill="none" stroke="#909090" stroke-width="0.425" stroke-linecap="round"/><path d="M415.0,193.0Q410.7,194.6 408.8,195.5Q406.8,196.4 404.9,197.2Q403.0,198.0 401.2,199.5Q399.3,200.9 397.7,202.2Q396.1,203.4 394.1,204.7Q392.0,206.0 390.1,207.2Q388.3,208.4 386.2,209.6Q384.2,210.7 382.1,211.4L380.0,212.0" fill="none" stroke="#909090" stroke-width="0.5" stroke-linecap="round"/><path d="M397.7,201.8Q397.1,203.8 396.8,204.6L396.4,205.4" fill="none" stroke="#909090" stroke-width="0.425" stroke-linecap="round"/><path d="M436.5,185.0Q438.3,183.5 439.6,183.3Q440.8,183.1 442.4,182.5L444.0,182.0" fill="none" stroke="#909090" stroke-width="0.5" stroke-linecap="round"/><path d="M441.9,182.8Q443.6,182.9 444.7,183.0L445.7,183.1" fill="none" stroke="#909090" stroke-width="0.425" stroke-linecap="round"/><path d="M434.0,203.8Q436.3,202.1 437.3,202.0Q438.4,201.9 439.2,201.0L440.0,200.0" fill="none" stroke="#909090" stroke-width="0.5" stroke-linecap="round"/><path d="M436.3,202.3Q437.7,199.9 438.2,199.1L438.6,198.2" fill="none" stroke="#909090" stroke-width="0.425" stroke-linecap="round"/>
</g>
<g id="labels">
<text transform="translate(1.8,9.6) scale(0.92,1)" class="pl">A</text><text x="92.5" y="27.4" textLength="55.3" lengthAdjust="spacingAndGlyphs" class="sl">Immune System</text><text x="174.2" y="21.4" textLength="40.8" lengthAdjust="spacingAndGlyphs" class="sl">Metabolism</text><text x="182" y="28.9" textLength="26.7" lengthAdjust="spacingAndGlyphs" class="sl">of RNA</text><text x="117" y="103.9" textLength="21.0" lengthAdjust="spacingAndGlyphs" class="sl">Signal</text><text x="107" y="111.9" textLength="44.0" lengthAdjust="spacingAndGlyphs" class="sl">Transduction</text><text x="10" y="102.9" textLength="39.0" lengthAdjust="spacingAndGlyphs" class="sl">Hemostasis</text><text x="10" y="157.4" textLength="51.5" lengthAdjust="spacingAndGlyphs" class="sl">Developmental</text><text x="22.6" y="165.9" textLength="26.4" lengthAdjust="spacingAndGlyphs" class="sl">Biology</text><text x="190.6" y="116.9" textLength="40.2" lengthAdjust="spacingAndGlyphs" class="sl">Metabolism</text><text x="149.6" y="201.4" textLength="25.6" lengthAdjust="spacingAndGlyphs" class="sl">Disease</text><text x="281.5" y="102.7" textLength="43.9" lengthAdjust="spacingAndGlyphs" class="sl">Transport of</text><text x="273.7" y="111.4" textLength="55.3" lengthAdjust="spacingAndGlyphs" class="sl">small molecules</text><text x="276" y="191.9" textLength="16.9" lengthAdjust="spacingAndGlyphs" class="sl">Gene</text><text x="241" y="199.9" textLength="84.2" lengthAdjust="spacingAndGlyphs" class="sl">expression(Transcription)</text><text x="332.4" y="182.7" textLength="40.4" lengthAdjust="spacingAndGlyphs" class="sl">Metabolism</text><text x="333.8" y="190.4" textLength="37.5" lengthAdjust="spacingAndGlyphs" class="sl">of proteins</text><text x="458.8" y="30.4" textLength="43.2" lengthAdjust="spacingAndGlyphs" class="sl">Programmed</text><text x="462" y="38.4" textLength="36.8" lengthAdjust="spacingAndGlyphs" class="sl">Cell Death</text><text x="432" y="91.7" textLength="62.6" lengthAdjust="spacingAndGlyphs" class="sl">Cellular responses</text><text x="432" y="100.0" textLength="62.0" lengthAdjust="spacingAndGlyphs" class="sl">to external stimuli</text><text x="442" y="150.8" textLength="43.0" lengthAdjust="spacingAndGlyphs" class="sl">Extracellular</text><text x="430.6" y="157.4" textLength="64.8" lengthAdjust="spacingAndGlyphs" class="sl">matrix organization</text><text x="468.6" y="200.0" textLength="30.8" lengthAdjust="spacingAndGlyphs" class="sl">Cell-Cell</text><text x="458" y="206.9" textLength="52.8" lengthAdjust="spacingAndGlyphs" class="sl">communication</text><text x="35.4" y="29.1" textLength="31.4" lengthAdjust="spacingAndGlyphs" class="ss">Circadian Clock</text><text x="15" y="62" textLength="26.4" lengthAdjust="spacingAndGlyphs" class="ss">Reproduction</text><text x="245" y="14" textLength="21.0" lengthAdjust="spacingAndGlyphs" class="ss">Chromatin</text><text x="243" y="20" textLength="25.0" lengthAdjust="spacingAndGlyphs" class="ss">organization</text><text x="236.5" y="62" textLength="24.5" lengthAdjust="spacingAndGlyphs" class="ss">DNA Repair</text><text x="292" y="28.5" textLength="33.0" lengthAdjust="spacingAndGlyphs" class="ss">DNA Replication</text><text x="387.5" y="37" textLength="20.5" lengthAdjust="spacingAndGlyphs" class="ss">Cell Cycle</text><text x="345.2" y="90.3" textLength="18.6" lengthAdjust="spacingAndGlyphs" class="ss">Digestion</text><text x="340" y="96.2" textLength="29.5" lengthAdjust="spacingAndGlyphs" class="ss">and absorption</text><text x="347.3" y="132.6" textLength="15.0" lengthAdjust="spacingAndGlyphs" class="ss">Muscle</text><text x="343.8" y="138.7" textLength="22.2" lengthAdjust="spacingAndGlyphs" class="ss">contraction</text><text x="390.2" y="107.4" textLength="42.3" lengthAdjust="spacingAndGlyphs" class="ss">Organelle biogenesis</text><text x="394.6" y="112.8" textLength="34.1" lengthAdjust="spacingAndGlyphs" class="ss">and maintenance</text><text x="396" y="149.6" textLength="20.5" lengthAdjust="spacingAndGlyphs" class="ss">Mitophagy</text><text x="69" y="197" textLength="34.4" lengthAdjust="spacingAndGlyphs" class="ss">Neuronal System</text><text x="403.2" y="177.6" textLength="35.2" lengthAdjust="spacingAndGlyphs" class="ss">Vesicle-mediated</text><text x="411.8" y="182.8" textLength="17.2" lengthAdjust="spacingAndGlyphs" class="ss">transport</text><defs><linearGradient id="pg" x1="0" y1="0" x2="0" y2="1"><stop offset="0" stop-color="#c0b828"/><stop offset="0.5" stop-color="#7a7418"/><stop offset="1" stop-color="#34320c"/></linearGradient></defs><rect x="499" y="78" width="20" height="87" rx="3.5" fill="#d4d4d4" stroke="#a8a8a8" stroke-width="0.8"/><rect x="503" y="83" width="10.8" height="74.5" fill="url(#pg)"/><text x="492" y="77" textLength="25" lengthAdjust="spacingAndGlyphs" class="pv">P value</text><text x="506.6" y="83.6" class="pv" font-size="8px" font-weight="bold">0</text><text x="503.4" y="163.6" textLength="16" lengthAdjust="spacingAndGlyphs" class="pv" font-weight="bold" font-size="8px">0.05</text>
</g>
<g id="chart">
<line x1="48.5" y1="403.13" x2="249.5" y2="403.13" stroke="#c4c4c4" stroke-width="1" stroke-dasharray="1,1.3"/><line x1="48.5" y1="389.46" x2="249.5" y2="389.46" stroke="#c4c4c4" stroke-width="1" stroke-dasharray="1,1.3"/><line x1="48.5" y1="375.79" x2="249.5" y2="375.79" stroke="#c4c4c4" stroke-width="1" stroke-dasharray="1,1.3"/><line x1="48.5" y1="362.12" x2="249.5" y2="362.12" stroke="#c4c4c4" stroke-width="1" stroke-dasharray="1,1.3"/><line x1="48.5" y1="348.45" x2="249.5" y2="348.45" stroke="#c4c4c4" stroke-width="1" stroke-dasharray="1,1.3"/><line x1="48.5" y1="334.78" x2="249.5" y2="334.78" stroke="#c4c4c4" stroke-width="1" stroke-dasharray="1,1.3"/><line x1="48.5" y1="321.11" x2="249.5" y2="321.11" stroke="#c4c4c4" stroke-width="1" stroke-dasharray="1,1.3"/><line x1="48.5" y1="307.44" x2="249.5" y2="307.44" stroke="#c4c4c4" stroke-width="1" stroke-dasharray="1,1.3"/><line x1="48.5" y1="293.77" x2="249.5" y2="293.77" stroke="#c4c4c4" stroke-width="1" stroke-dasharray="1,1.3"/><line x1="48.5" y1="280.1" x2="249.5" y2="280.1" stroke="#c4c4c4" stroke-width="1" stroke-dasharray="1,1.3"/><line x1="48.5" y1="266.43" x2="249.5" y2="266.43" stroke="#c4c4c4" stroke-width="1" stroke-dasharray="1,1.3"/><line x1="48.5" y1="252.76" x2="249.5" y2="252.76" stroke="#c4c4c4" stroke-width="1" stroke-dasharray="1,1.3"/><rect x="47.5" y="237.5" width="203.0" height="180.0" fill="none" stroke="#8a8a8a" stroke-width="1"/><line x1="47.5" y1="237.5" x2="47.5" y2="417.5" stroke="#606060" stroke-width="1"/><line x1="47.5" y1="417.5" x2="250.5" y2="417.5" stroke="#555" stroke-width="1"/><line x1="45.5" y1="416.8" x2="47.5" y2="416.8" stroke="#333" stroke-width="1"/><text x="0" y="0" transform="translate(44,418.9) scale(1,0.86)" text-anchor="end" class="tk">0</text><line x1="45.5" y1="403.1" x2="47.5" y2="403.1" stroke="#333" stroke-width="1"/><text x="0" y="0" transform="translate(44,405.2) scale(1,0.86)" text-anchor="end" class="tk">10</text><line x1="45.5" y1="389.5" x2="47.5" y2="389.5" stroke="#333" stroke-width="1"/><text x="0" y="0" transform="translate(44,391.6) scale(1,0.86)" text-anchor="end" class="tk">20</text><line x1="45.5" y1="375.8" x2="47.5" y2="375.8" stroke="#333" stroke-width="1"/><text x="0" y="0" transform="translate(44,377.9) scale(1,0.86)" text-anchor="end" class="tk">30</text><line x1="45.5" y1="362.1" x2="47.5" y2="362.1" stroke="#333" stroke-width="1"/><text x="0" y="0" transform="translate(44,364.2) scale(1,0.86)" text-anchor="end" class="tk">40</text><line x1="45.5" y1="348.5" x2="47.5" y2="348.5" stroke="#333" stroke-width="1"/><text x="0" y="0" transform="translate(44,350.6) scale(1,0.86)" text-anchor="end" class="tk">50</text><line x1="45.5" y1="334.8" x2="47.5" y2="334.8" stroke="#333" stroke-width="1"/><text x="0" y="0" transform="translate(44,336.9) scale(1,0.86)" text-anchor="end" class="tk">60</text><line x1="45.5" y1="321.1" x2="47.5" y2="321.1" stroke="#333" stroke-width="1"/><text x="0" y="0" transform="translate(44,323.2) scale(1,0.86)" text-anchor="end" class="tk">70</text><line x1="45.5" y1="307.4" x2="47.5" y2="307.4" stroke="#333" stroke-width="1"/><text x="0" y="0" transform="translate(44,309.5) scale(1,0.86)" text-anchor="end" class="tk">80</text><line x1="45.5" y1="293.8" x2="47.5" y2="293.8" stroke="#333" stroke-width="1"/><text x="0" y="0" transform="translate(44,295.9) scale(1,0.86)" text-anchor="end" class="tk">90</text><line x1="45.5" y1="280.1" x2="47.5" y2="280.1" stroke="#333" stroke-width="1"/><text x="0" y="0" transform="translate(44,282.2) scale(1,0.86)" text-anchor="end" class="tk">100</text><line x1="45.5" y1="266.4" x2="47.5" y2="266.4" stroke="#333" stroke-width="1"/><text x="0" y="0" transform="translate(44,268.5) scale(1,0.86)" text-anchor="end" class="tk">110</text><line x1="45.5" y1="252.8" x2="47.5" y2="252.8" stroke="#333" stroke-width="1"/><text x="0" y="0" transform="translate(44,254.9) scale(1,0.86)" text-anchor="end" class="tk">120</text><line x1="45.5" y1="239.1" x2="47.5" y2="239.1" stroke="#333" stroke-width="1"/><text x="0" y="0" transform="translate(44,241.2) scale(1,0.86)" text-anchor="end" class="tk">130</text><rect x="57.00" y="405.03" width="6.6" height="12.37" fill="#1c1c40" stroke="#333" stroke-width="0.6"/><rect x="65.41" y="378.93" width="6.6" height="38.47" fill="#d4a0c8" stroke="#333" stroke-width="0.6"/><rect x="73.82" y="410.53" width="6.6" height="6.87" fill="#8cd0e6" stroke="#333" stroke-width="0.6"/><rect x="82.23" y="400.91" width="6.6" height="16.49" fill="#c8a018" stroke="#333" stroke-width="0.6"/><rect x="90.64" y="359.69" width="6.6" height="57.71" fill="#4a88c8" stroke="#333" stroke-width="0.6"/><rect x="99.05" y="387.17" width="6.6" height="30.23" fill="#2a1010" stroke="#333" stroke-width="0.6"/><rect x="107.46" y="407.78" width="6.6" height="9.62" fill="#b8e0f0" stroke="#333" stroke-width="0.6"/><rect x="115.87" y="373.43" width="6.6" height="43.97" fill="#c8a018" stroke="#333" stroke-width="0.6"/><rect x="124.28" y="413.28" width="6.6" height="4.12" fill="#2a1840" stroke="#333" stroke-width="0.6"/><rect x="132.69" y="410.53" width="6.6" height="6.87" fill="#8cd0e6" stroke="#333" stroke-width="0.6"/><rect x="141.10" y="414.65" width="6.6" height="2.75" fill="#403880" stroke="#333" stroke-width="0.6"/><rect x="149.51" y="413.28" width="6.6" height="4.12" fill="#9048a0" stroke="#333" stroke-width="0.6"/><rect x="157.92" y="363.81" width="6.6" height="53.59" fill="#2a1838" stroke="#333" stroke-width="0.6"/><rect x="166.33" y="394.04" width="6.6" height="23.36" fill="#e8e8a0" stroke="#333" stroke-width="0.6"/><rect x="174.74" y="336.33" width="6.6" height="81.07" fill="#c86850" stroke="#333" stroke-width="0.6"/><rect x="183.15" y="260.76" width="6.6" height="156.64" fill="#2a1838" stroke="#333" stroke-width="0.6"/><rect x="191.56" y="416.03" width="6.6" height="1.37" fill="#48a048" stroke="#333" stroke-width="0.6"/><rect x="199.97" y="416.03" width="6.6" height="1.37" fill="#e0e0b0" stroke="#333" stroke-width="0.6"/><rect x="208.38" y="374.81" width="6.6" height="42.59" fill="#3050a0" stroke="#333" stroke-width="0.6"/><rect x="216.79" y="400.91" width="6.6" height="16.49" fill="#20a040" stroke="#333" stroke-width="0.6"/><rect x="225.20" y="384.42" width="6.6" height="32.98" fill="#c8d020" stroke="#333" stroke-width="0.6"/><rect x="233.61" y="406.41" width="6.6" height="10.99" fill="#283070" stroke="#333" stroke-width="0.6"/><text x="132" y="0" transform="translate(0,427.2) scale(1,0.8)" textLength="33.4" lengthAdjust="spacingAndGlyphs" class="ax" font-weight="bold">Category</text><text transform="translate(28.4,327) rotate(-90) scale(0.93,1)" text-anchor="middle" class="ax" font-weight="bold">Genes</text><text transform="translate(1.6,243.6) scale(0.9,1)" class="pl">B</text><rect x="266" y="236.40" width="9" height="4.8" fill="#1c1c40"/><text transform="translate(280.7,241.00) scale(1,0.6)" class="lg" textLength="179.9" lengthAdjust="spacingAndGlyphs">calcium-binding protein (PC00060)</text><line x1="280.7" y1="242.30" x2="460.6" y2="242.30" stroke="#5a5c80" stroke-width="0.8"/><rect x="266" y="245.58" width="9" height="4.8" fill="#d4a0c8"/><text transform="translate(280.7,250.18) scale(1,0.6)" class="lg" textLength="174.5" lengthAdjust="spacingAndGlyphs">cell adhesion molecule (PC00069)</text><line x1="280.7" y1="251.48" x2="455.2" y2="251.48" stroke="#5a5c80" stroke-width="0.8"/><rect x="266" y="254.76" width="9" height="4.8" fill="#8cd0e6"/><text transform="translate(280.7,259.36) scale(1,0.6)" class="lg" textLength="160.4" lengthAdjust="spacingAndGlyphs">cell junction protein (PC00070)</text><line x1="280.7" y1="260.66" x2="441.1" y2="260.66" stroke="#5a5c80" stroke-width="0.8"/><rect x="266" y="263.94" width="9" height="4.8" fill="#c8a018"/><text transform="translate(280.7,268.54) scale(1,0.6)" class="lg" textLength="159.4" lengthAdjust="spacingAndGlyphs">cytoskeletal protein (PC00085)</text><line x1="280.7" y1="269.84" x2="440.1" y2="269.84" stroke="#5a5c80" stroke-width="0.8"/><rect x="266" y="273.12" width="9" height="4.8" fill="#4a88c8"/><text transform="translate(280.7,277.72) scale(1,0.6)" class="lg" textLength="192.4" lengthAdjust="spacingAndGlyphs">defense/immunity protein (PC00090)</text><line x1="280.7" y1="279.02" x2="473.1" y2="279.02" stroke="#5a5c80" stroke-width="0.8"/><rect x="266" y="282.30" width="9" height="4.8" fill="#2a1010"/><text transform="translate(280.7,286.90) scale(1,0.6)" class="lg" textLength="154.7" lengthAdjust="spacingAndGlyphs">enzyme modulator (PC00095)</text><line x1="280.7" y1="288.20" x2="435.4" y2="288.20" stroke="#5a5c80" stroke-width="0.8"/><rect x="266" y="291.48" width="9" height="4.8" fill="#b8e0f0"/><text transform="translate(280.7,296.08) scale(1,0.6)" class="lg" textLength="199.4" lengthAdjust="spacingAndGlyphs">extracellular matrix protein (PC00102)</text><line x1="280.7" y1="297.38" x2="480.1" y2="297.38" stroke="#5a5c80" stroke-width="0.8"/><rect x="266" y="300.66" width="9" height="4.8" fill="#c8a018"/><text transform="translate(280.7,305.26) scale(1,0.6)" class="lg" textLength="108.1" lengthAdjust="spacingAndGlyphs">hydrolase (PC00121)</text><line x1="280.7" y1="306.56" x2="388.8" y2="306.56" stroke="#5a5c80" stroke-width="0.8"/><rect x="266" y="309.84" width="9" height="4.8" fill="#2a1840"/><text transform="translate(280.7,314.44) scale(1,0.6)" class="lg" textLength="110.7" lengthAdjust="spacingAndGlyphs">isomerase (PC00135)</text><line x1="280.7" y1="315.74" x2="391.4" y2="315.74" stroke="#5a5c80" stroke-width="0.8"/><rect x="266" y="319.02" width="9" height="4.8" fill="#8cd0e6"/><text transform="translate(280.7,323.62) scale(1,0.6)" class="lg" textLength="88.1" lengthAdjust="spacingAndGlyphs">ligase (PC00142)</text><line x1="280.7" y1="324.92" x2="368.8" y2="324.92" stroke="#5a5c80" stroke-width="0.8"/><rect x="266" y="328.20" width="9" height="4.8" fill="#403880"/><text transform="translate(280.7,332.80) scale(1,0.6)" class="lg" textLength="84.6" lengthAdjust="spacingAndGlyphs">lyase (PC00144)</text><line x1="280.7" y1="334.10" x2="365.3" y2="334.10" stroke="#5a5c80" stroke-width="0.8"/><rect x="266" y="337.38" width="9" height="4.8" fill="#9048a0"/><text transform="translate(280.7,341.98) scale(1,0.6)" class="lg" textLength="187.6" lengthAdjust="spacingAndGlyphs">membrane traffic protein (PC00150)</text><line x1="280.7" y1="343.28" x2="468.3" y2="343.28" stroke="#5a5c80" stroke-width="0.8"/><rect x="266" y="346.56" width="9" height="4.8" fill="#2a1838"/><text transform="translate(280.7,351.16) scale(1,0.6)" class="lg" textLength="159.4" lengthAdjust="spacingAndGlyphs">nucleic acid binding (PC00171)</text><line x1="280.7" y1="352.46" x2="440.1" y2="352.46" stroke="#5a5c80" stroke-width="0.8"/><rect x="266" y="355.74" width="9" height="4.8" fill="#e8e8a0"/><text transform="translate(280.7,360.34) scale(1,0.6)" class="lg" textLength="136.4" lengthAdjust="spacingAndGlyphs">oxidoreductase (PC00176)</text><line x1="280.7" y1="361.64" x2="417.1" y2="361.64" stroke="#5a5c80" stroke-width="0.8"/><rect x="266" y="364.92" width="9" height="4.8" fill="#c86850"/><text transform="translate(280.7,369.52) scale(1,0.6)" class="lg" textLength="101.1" lengthAdjust="spacingAndGlyphs">receptor (PC00197)</text><line x1="280.7" y1="370.82" x2="381.8" y2="370.82" stroke="#5a5c80" stroke-width="0.8"/><rect x="266" y="374.10" width="9" height="4.8" fill="#2a1838"/><text transform="translate(280.7,378.70) scale(1,0.6)" class="lg" textLength="153.5" lengthAdjust="spacingAndGlyphs">signaling molecule (PC00207)</text><line x1="280.7" y1="380.00" x2="434.2" y2="380.00" stroke="#5a5c80" stroke-width="0.8"/><rect x="266" y="383.28" width="9" height="4.8" fill="#48a048"/><text transform="translate(280.7,387.88) scale(1,0.6)" class="lg" textLength="148.1" lengthAdjust="spacingAndGlyphs">structural protein (PC00211)</text><line x1="280.7" y1="389.18" x2="428.8" y2="389.18" stroke="#5a5c80" stroke-width="0.8"/><rect x="266" y="392.46" width="9" height="4.8" fill="#e0e0b0"/><text transform="translate(280.7,397.06) scale(1,0.6)" class="lg" textLength="110.9" lengthAdjust="spacingAndGlyphs">surfactant (PC00212)</text><line x1="280.7" y1="398.36" x2="391.6" y2="398.36" stroke="#5a5c80" stroke-width="0.8"/><rect x="266" y="401.64" width="9" height="4.8" fill="#3050a0"/><text transform="translate(280.7,406.24) scale(1,0.6)" class="lg" textLength="157.0" lengthAdjust="spacingAndGlyphs">transcription factor (PC00218)</text><line x1="280.7" y1="407.54" x2="437.7" y2="407.54" stroke="#5a5c80" stroke-width="0.8"/><rect x="266" y="410.82" width="9" height="4.8" fill="#20a040"/><text transform="translate(280.7,415.42) scale(1,0.6)" class="lg" textLength="177.3" lengthAdjust="spacingAndGlyphs">transfer/carrier protein (PC00219)</text><line x1="280.7" y1="416.72" x2="458.0" y2="416.72" stroke="#5a5c80" stroke-width="0.8"/><rect x="266" y="420.00" width="9" height="4.8" fill="#c8d020"/><text transform="translate(280.7,424.60) scale(1,0.6)" class="lg" textLength="116.6" lengthAdjust="spacingAndGlyphs">transferase (PC00220)</text><line x1="280.7" y1="425.90" x2="397.3" y2="425.90" stroke="#5a5c80" stroke-width="0.8"/><rect x="266" y="429.18" width="9" height="4.8" fill="#283070"/><text transform="translate(280.7,433.78) scale(1,0.6)" class="lg" textLength="116.6" lengthAdjust="spacingAndGlyphs">transporter (PC00227)</text><line x1="280.7" y1="435.08" x2="397.3" y2="435.08" stroke="#5a5c80" stroke-width="0.8"/>
</g>
</svg>
</body></html>
